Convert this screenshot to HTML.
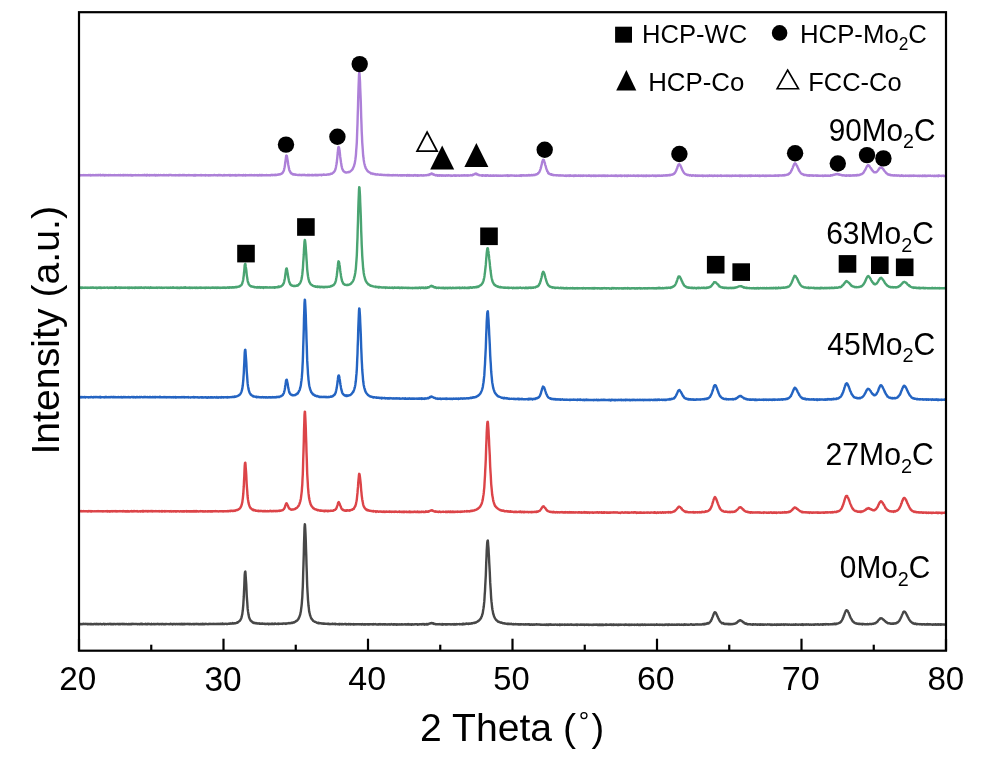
<!DOCTYPE html>
<html><head><meta charset="utf-8"><style>html,body{margin:0;padding:0;background:#fff;}svg{display:block;filter:blur(0.45px);}</style></head>
<body><svg width="1003" height="780" viewBox="0 0 1003 780">
<rect width="1003" height="780" fill="#fff"/>
<path d="M79.0 624.1 L79.2 624.1 L79.5 624.1 L79.7 624.0 L80.0 624.0 L80.2 624.0 L80.5 624.1 L80.7 624.3 L81.0 624.0 L81.2 624.0 L81.5 624.2 L81.7 624.1 L82.0 624.1 L82.2 624.0 L82.5 624.1 L82.7 624.2 L83.0 623.9 L83.2 624.0 L83.5 623.8 L83.7 623.9 L84.0 623.8 L84.2 624.1 L84.5 623.9 L84.7 624.1 L85.0 624.1 L85.2 624.1 L85.5 623.8 L85.7 624.0 L86.0 624.1 L86.2 624.1 L86.5 623.9 L86.8 624.0 L87.0 624.0 L87.2 624.0 L87.5 624.2 L87.8 624.0 L88.0 624.1 L88.2 624.2 L88.5 624.0 L88.8 624.1 L89.0 624.1 L89.2 624.1 L89.5 623.9 L89.8 624.1 L90.0 624.3 L90.2 623.9 L90.5 624.2 L90.8 624.1 L91.0 624.0 L91.2 624.3 L91.5 624.2 L91.8 623.9 L92.0 624.1 L92.2 624.2 L92.5 624.1 L92.8 624.2 L93.0 624.1 L93.3 624.2 L93.5 624.3 L93.8 624.0 L94.0 624.1 L94.3 624.0 L94.5 624.1 L94.8 623.9 L95.0 624.0 L95.3 624.1 L95.5 624.2 L95.8 624.2 L96.0 623.9 L96.3 624.0 L96.5 624.2 L96.8 623.8 L97.0 624.0 L97.3 624.1 L97.5 624.2 L97.8 624.2 L98.0 624.0 L98.3 624.0 L98.5 624.1 L98.8 624.3 L99.0 624.0 L99.3 624.0 L99.5 624.1 L99.8 624.1 L100.0 624.1 L100.2 623.9 L100.5 624.1 L100.8 624.0 L101.0 624.2 L101.2 624.2 L101.5 624.1 L101.7 624.2 L102.0 624.0 L102.2 624.2 L102.5 624.1 L102.7 624.2 L103.0 623.9 L103.2 624.1 L103.5 623.9 L103.7 623.8 L104.0 624.0 L104.2 624.0 L104.5 624.1 L104.7 624.4 L105.0 624.0 L105.2 624.0 L105.5 624.1 L105.7 624.1 L106.0 624.1 L106.2 624.1 L106.5 624.2 L106.8 624.2 L107.0 624.0 L107.2 624.1 L107.5 624.1 L107.8 623.9 L108.0 624.1 L108.2 624.0 L108.5 624.2 L108.8 624.1 L109.0 624.1 L109.2 624.0 L109.5 624.1 L109.8 623.8 L110.0 623.9 L110.2 624.1 L110.5 623.8 L110.8 624.2 L111.0 623.9 L111.2 624.2 L111.5 624.0 L111.8 624.2 L112.0 624.1 L112.2 623.9 L112.5 624.2 L112.8 624.3 L113.0 624.1 L113.2 624.0 L113.5 624.1 L113.8 624.0 L114.0 624.2 L114.2 624.0 L114.5 624.1 L114.8 624.0 L115.0 624.0 L115.3 623.9 L115.5 624.2 L115.8 624.1 L116.0 624.2 L116.3 624.1 L116.5 624.0 L116.8 624.0 L117.0 624.0 L117.3 624.1 L117.5 624.0 L117.8 624.0 L118.0 623.9 L118.3 624.0 L118.5 624.3 L118.8 624.0 L119.0 623.9 L119.3 624.1 L119.5 624.3 L119.8 623.9 L120.0 624.1 L120.3 624.0 L120.5 623.9 L120.7 624.2 L121.0 624.1 L121.3 624.1 L121.5 624.0 L121.7 624.1 L122.0 624.0 L122.3 624.1 L122.5 623.9 L122.7 623.9 L123.0 624.3 L123.2 624.0 L123.5 624.1 L123.7 624.1 L124.0 624.0 L124.2 624.0 L124.5 624.2 L124.7 624.0 L125.0 624.1 L125.2 624.1 L125.5 624.2 L125.7 624.2 L126.0 624.1 L126.2 624.0 L126.5 623.9 L126.8 624.2 L127.0 624.2 L127.2 624.1 L127.5 624.2 L127.8 624.2 L128.0 624.2 L128.2 624.2 L128.5 624.0 L128.8 624.3 L129.0 623.9 L129.2 624.2 L129.5 624.1 L129.8 624.2 L130.0 624.3 L130.2 624.3 L130.5 623.9 L130.8 623.9 L131.0 624.2 L131.2 623.9 L131.5 624.1 L131.8 624.2 L132.0 623.9 L132.2 623.8 L132.5 624.1 L132.8 624.1 L133.0 624.0 L133.2 624.1 L133.5 624.0 L133.8 623.9 L134.0 624.1 L134.2 624.0 L134.5 623.9 L134.8 624.1 L135.0 624.1 L135.2 624.1 L135.5 624.0 L135.8 624.0 L136.0 623.9 L136.2 624.0 L136.5 624.1 L136.8 624.0 L137.0 624.1 L137.2 624.1 L137.5 624.3 L137.8 623.9 L138.0 624.2 L138.3 624.1 L138.5 624.1 L138.8 623.9 L139.0 624.0 L139.3 624.2 L139.5 624.1 L139.8 624.1 L140.0 624.0 L140.3 624.2 L140.5 624.1 L140.8 623.8 L141.0 624.0 L141.2 623.8 L141.5 623.7 L141.8 624.0 L142.0 624.3 L142.2 624.1 L142.5 623.9 L142.8 624.0 L143.0 624.2 L143.2 624.1 L143.5 624.1 L143.8 624.1 L144.0 624.1 L144.2 624.2 L144.5 624.1 L144.8 624.1 L145.0 623.9 L145.2 624.1 L145.5 624.0 L145.8 624.2 L146.0 623.9 L146.2 624.1 L146.5 624.1 L146.8 623.9 L147.0 624.3 L147.2 624.3 L147.5 624.0 L147.8 624.2 L148.0 624.1 L148.2 623.7 L148.5 624.1 L148.8 624.1 L149.0 624.1 L149.2 623.9 L149.5 624.0 L149.8 624.1 L150.0 624.2 L150.2 624.1 L150.5 624.1 L150.8 624.3 L151.0 624.0 L151.2 624.0 L151.5 623.8 L151.8 624.3 L152.0 624.2 L152.2 624.2 L152.5 624.2 L152.8 624.1 L153.0 624.1 L153.2 624.0 L153.5 624.0 L153.8 624.1 L154.0 624.3 L154.2 624.1 L154.5 624.1 L154.8 624.0 L155.0 624.0 L155.2 624.3 L155.5 624.1 L155.8 624.1 L156.0 624.0 L156.2 623.9 L156.5 624.1 L156.8 624.2 L157.0 624.0 L157.2 624.0 L157.5 624.0 L157.8 624.1 L158.0 623.9 L158.2 624.0 L158.5 624.0 L158.8 624.2 L159.0 624.0 L159.2 624.1 L159.5 624.3 L159.8 624.0 L160.0 624.0 L160.2 624.1 L160.5 624.1 L160.8 623.9 L161.0 624.1 L161.3 624.3 L161.5 624.0 L161.7 624.0 L162.0 623.9 L162.3 624.1 L162.5 623.9 L162.7 623.9 L163.0 624.2 L163.3 624.0 L163.5 624.2 L163.8 624.3 L164.0 624.1 L164.3 624.2 L164.5 624.3 L164.8 624.1 L165.0 624.0 L165.3 623.9 L165.5 624.1 L165.8 624.3 L166.0 624.2 L166.3 624.0 L166.5 624.0 L166.8 624.0 L167.0 624.1 L167.2 624.1 L167.5 624.1 L167.8 624.1 L168.0 624.0 L168.2 624.1 L168.5 624.1 L168.8 624.1 L169.0 624.1 L169.2 624.3 L169.5 624.2 L169.8 624.1 L170.0 623.9 L170.2 624.1 L170.5 623.8 L170.8 623.9 L171.0 624.2 L171.2 624.2 L171.5 624.1 L171.8 623.9 L172.0 624.0 L172.2 624.0 L172.5 624.2 L172.8 624.4 L173.0 624.1 L173.2 624.0 L173.5 623.9 L173.8 624.1 L174.0 624.1 L174.2 623.9 L174.5 624.1 L174.8 623.9 L175.0 624.2 L175.2 624.2 L175.5 624.2 L175.8 624.0 L176.0 624.2 L176.2 624.1 L176.5 624.0 L176.8 624.0 L177.0 623.9 L177.2 623.9 L177.5 624.2 L177.8 624.1 L178.0 624.1 L178.2 624.2 L178.5 623.9 L178.8 624.0 L179.0 624.1 L179.2 624.1 L179.5 624.0 L179.8 624.2 L180.0 624.1 L180.2 623.9 L180.5 624.0 L180.8 624.2 L181.0 624.2 L181.3 623.8 L181.5 624.3 L181.8 624.2 L182.0 624.3 L182.3 624.0 L182.5 624.1 L182.8 623.9 L183.0 624.4 L183.2 624.1 L183.5 624.3 L183.8 624.0 L184.0 624.1 L184.2 623.9 L184.5 624.0 L184.8 624.2 L185.0 623.9 L185.2 624.2 L185.5 624.1 L185.8 624.0 L186.0 624.0 L186.2 624.0 L186.5 624.1 L186.8 624.0 L187.0 624.0 L187.2 624.1 L187.5 624.0 L187.8 623.9 L188.0 624.1 L188.2 624.2 L188.5 623.9 L188.8 624.1 L189.0 624.0 L189.2 624.0 L189.5 624.2 L189.8 624.0 L190.0 624.3 L190.2 624.0 L190.5 624.1 L190.8 624.1 L191.0 624.0 L191.2 624.2 L191.5 624.1 L191.8 624.2 L192.0 624.1 L192.2 624.0 L192.5 624.1 L192.8 624.1 L193.0 624.2 L193.2 624.0 L193.5 624.1 L193.8 623.9 L194.0 624.2 L194.2 624.0 L194.5 623.9 L194.8 624.1 L195.0 624.2 L195.2 623.9 L195.5 624.0 L195.8 624.0 L196.0 623.9 L196.2 624.1 L196.5 624.0 L196.8 624.0 L197.0 624.2 L197.2 624.0 L197.5 624.1 L197.8 624.0 L198.0 623.9 L198.2 623.9 L198.5 624.3 L198.8 624.0 L199.0 624.1 L199.2 624.1 L199.5 624.1 L199.8 624.1 L200.0 624.3 L200.2 624.0 L200.5 623.9 L200.8 624.0 L201.0 623.9 L201.2 624.2 L201.5 624.2 L201.7 624.0 L202.0 623.9 L202.3 624.0 L202.5 624.3 L202.7 623.7 L203.0 624.2 L203.3 623.9 L203.5 624.2 L203.7 623.9 L204.0 624.0 L204.3 623.9 L204.5 624.0 L204.8 624.3 L205.0 624.2 L205.3 624.0 L205.5 624.0 L205.8 623.8 L206.0 624.0 L206.3 624.1 L206.5 624.1 L206.8 624.1 L207.0 623.9 L207.3 624.1 L207.5 624.1 L207.7 624.2 L208.0 624.3 L208.3 624.1 L208.5 624.0 L208.7 624.1 L209.0 624.0 L209.3 624.0 L209.5 624.1 L209.7 623.9 L210.0 624.1 L210.3 624.0 L210.5 624.1 L210.8 624.0 L211.0 624.0 L211.3 623.9 L211.5 624.0 L211.8 624.0 L212.0 624.1 L212.3 624.1 L212.5 623.9 L212.8 624.1 L213.0 623.9 L213.2 624.0 L213.5 624.0 L213.8 623.8 L214.0 624.1 L214.2 624.1 L214.5 624.0 L214.8 624.0 L215.0 624.0 L215.2 623.9 L215.5 624.0 L215.8 624.0 L216.0 624.0 L216.2 623.9 L216.5 624.1 L216.8 624.0 L217.0 624.0 L217.2 624.0 L217.5 624.1 L217.8 623.8 L218.0 624.1 L218.2 624.0 L218.5 624.0 L218.8 624.1 L219.0 623.9 L219.2 624.0 L219.5 624.1 L219.8 624.1 L220.0 624.0 L220.3 623.8 L220.5 624.1 L220.8 624.1 L221.0 624.1 L221.3 624.0 L221.5 623.8 L221.8 624.1 L222.0 623.9 L222.3 623.6 L222.5 624.0 L222.8 623.8 L223.0 623.8 L223.2 623.9 L223.5 624.1 L223.8 623.9 L224.0 624.0 L224.2 624.1 L224.5 624.1 L224.8 623.9 L225.0 623.9 L225.2 623.7 L225.5 623.8 L225.8 623.9 L226.0 623.9 L226.2 623.9 L226.5 624.0 L226.8 623.8 L227.0 623.8 L227.2 623.9 L227.5 623.9 L227.8 624.0 L228.0 623.9 L228.2 623.8 L228.5 623.8 L228.8 623.6 L229.0 623.5 L229.2 623.8 L229.5 623.7 L229.8 623.8 L230.0 623.5 L230.2 623.6 L230.5 623.6 L230.8 623.5 L231.0 623.3 L231.2 623.6 L231.5 623.7 L231.8 623.6 L232.0 623.5 L232.2 623.5 L232.5 623.6 L232.8 623.1 L233.0 623.4 L233.2 623.5 L233.5 623.5 L233.8 623.6 L234.0 623.5 L234.2 623.3 L234.5 623.3 L234.8 623.3 L235.0 623.1 L235.2 623.1 L235.5 623.2 L235.8 623.3 L236.0 622.9 L236.2 622.9 L236.5 622.8 L236.8 622.9 L237.0 622.6 L237.2 622.7 L237.5 622.3 L237.8 622.3 L238.0 622.2 L238.2 622.2 L238.5 622.0 L238.8 621.5 L239.0 621.4 L239.2 621.4 L239.5 621.0 L239.8 620.6 L240.0 620.7 L240.3 620.2 L240.5 619.8 L240.8 619.2 L241.0 618.9 L241.3 618.1 L241.5 617.5 L241.8 616.4 L242.0 615.3 L242.3 614.1 L242.5 612.4 L242.8 610.5 L243.0 608.0 L243.3 604.8 L243.5 601.2 L243.8 596.7 L244.0 591.6 L244.3 585.5 L244.5 579.7 L244.7 574.9 L245.0 572.0 L245.3 571.5 L245.5 573.0 L245.7 576.4 L246.0 580.8 L246.3 585.2 L246.5 589.9 L246.7 594.8 L247.0 599.3 L247.3 603.0 L247.5 606.2 L247.7 608.9 L248.0 611.4 L248.3 613.1 L248.5 614.6 L248.8 615.9 L249.0 617.0 L249.3 617.7 L249.5 618.5 L249.8 618.9 L250.0 619.5 L250.3 619.8 L250.5 620.5 L250.8 620.7 L251.0 620.9 L251.3 621.2 L251.5 621.4 L251.8 621.7 L252.0 621.6 L252.3 621.8 L252.5 622.1 L252.8 622.6 L253.0 622.5 L253.3 622.5 L253.5 622.7 L253.8 622.9 L254.0 622.7 L254.3 622.8 L254.5 623.1 L254.8 623.0 L255.0 623.1 L255.3 623.0 L255.5 623.4 L255.8 623.4 L256.0 623.3 L256.2 623.3 L256.5 623.0 L256.8 623.4 L257.0 623.3 L257.3 623.4 L257.5 623.5 L257.8 623.4 L258.0 623.3 L258.2 623.5 L258.5 623.4 L258.8 623.5 L259.0 623.5 L259.3 623.5 L259.5 623.3 L259.8 623.8 L260.0 623.7 L260.2 623.8 L260.5 623.9 L260.8 623.7 L261.0 623.5 L261.3 623.6 L261.5 623.6 L261.8 623.7 L262.0 623.7 L262.2 623.5 L262.5 623.8 L262.8 623.6 L263.0 623.8 L263.3 623.8 L263.5 623.8 L263.8 623.8 L264.0 623.7 L264.2 623.7 L264.5 623.6 L264.8 623.8 L265.0 624.1 L265.3 624.1 L265.5 624.0 L265.8 623.9 L266.0 623.8 L266.2 624.0 L266.5 623.9 L266.8 623.9 L267.0 623.8 L267.2 623.9 L267.5 623.8 L267.8 623.9 L268.0 623.7 L268.2 623.8 L268.5 624.2 L268.8 623.9 L269.0 623.9 L269.2 624.0 L269.5 624.0 L269.8 623.7 L270.0 623.9 L270.2 624.0 L270.5 623.9 L270.8 623.9 L271.0 624.1 L271.2 623.8 L271.5 623.9 L271.8 623.8 L272.0 624.1 L272.2 623.6 L272.5 623.8 L272.8 623.8 L273.0 624.0 L273.2 624.0 L273.5 624.1 L273.8 623.7 L274.0 624.0 L274.2 623.8 L274.5 623.8 L274.8 624.0 L275.0 623.8 L275.2 623.6 L275.5 623.8 L275.8 623.7 L276.0 623.8 L276.2 623.9 L276.5 623.9 L276.8 624.1 L277.0 623.8 L277.2 623.7 L277.5 623.8 L277.8 623.7 L278.0 623.7 L278.2 623.9 L278.5 623.7 L278.8 623.6 L279.0 623.9 L279.2 623.8 L279.5 623.9 L279.8 623.8 L280.0 623.9 L280.2 623.8 L280.5 623.9 L280.8 623.8 L281.0 623.8 L281.2 623.8 L281.5 623.6 L281.8 623.7 L282.0 623.7 L282.2 623.8 L282.5 623.5 L282.8 623.9 L283.0 623.7 L283.2 623.5 L283.5 623.5 L283.8 623.6 L284.0 623.6 L284.2 623.6 L284.5 623.6 L284.8 623.5 L285.0 623.7 L285.2 623.5 L285.5 623.6 L285.8 623.7 L286.0 623.9 L286.2 623.4 L286.5 623.4 L286.8 623.4 L287.0 623.6 L287.2 623.3 L287.5 623.4 L287.8 623.4 L288.0 623.3 L288.2 623.2 L288.5 623.3 L288.8 623.0 L289.0 623.1 L289.2 623.2 L289.5 623.2 L289.8 623.2 L290.0 622.9 L290.2 623.1 L290.5 623.2 L290.8 623.1 L291.0 623.0 L291.2 622.8 L291.5 623.0 L291.8 622.8 L292.0 622.6 L292.2 622.6 L292.5 622.9 L292.8 622.6 L293.0 622.7 L293.2 622.4 L293.5 622.5 L293.8 622.2 L294.0 622.2 L294.3 622.5 L294.5 622.1 L294.8 621.9 L295.0 621.8 L295.3 621.7 L295.5 621.7 L295.8 621.4 L296.0 621.0 L296.3 621.1 L296.5 620.9 L296.8 620.7 L297.0 620.7 L297.3 620.3 L297.5 620.1 L297.8 619.6 L298.0 619.5 L298.3 619.3 L298.5 618.7 L298.8 618.2 L299.0 617.7 L299.2 617.4 L299.5 616.4 L299.8 615.8 L300.0 615.1 L300.3 614.2 L300.5 612.9 L300.8 611.8 L301.0 610.2 L301.2 608.5 L301.5 606.3 L301.8 603.6 L302.0 600.7 L302.3 597.0 L302.5 592.2 L302.8 586.8 L303.0 580.4 L303.2 572.5 L303.5 563.8 L303.8 553.9 L304.0 544.2 L304.3 535.2 L304.5 528.2 L304.8 524.3 L305.0 524.7 L305.2 528.1 L305.5 533.8 L305.8 541.0 L306.0 548.3 L306.3 556.6 L306.5 564.6 L306.8 572.7 L307.0 579.7 L307.2 585.9 L307.5 591.5 L307.8 596.2 L308.0 600.0 L308.3 603.2 L308.5 605.8 L308.8 607.8 L309.0 610.0 L309.2 611.6 L309.5 612.8 L309.8 613.9 L310.0 615.0 L310.3 615.7 L310.5 616.4 L310.8 617.1 L311.0 617.8 L311.2 618.0 L311.5 618.8 L311.8 618.9 L312.0 619.2 L312.3 619.9 L312.5 620.0 L312.8 620.1 L313.0 620.5 L313.2 620.9 L313.5 621.1 L313.8 621.1 L314.0 621.3 L314.2 621.5 L314.5 621.5 L314.7 621.8 L315.0 621.9 L315.2 621.9 L315.5 622.0 L315.8 622.2 L316.0 622.3 L316.2 622.3 L316.5 622.4 L316.7 622.7 L317.0 622.6 L317.2 622.8 L317.5 622.9 L317.8 622.9 L318.0 623.2 L318.2 622.8 L318.5 623.1 L318.7 623.0 L319.0 623.3 L319.2 623.3 L319.5 622.9 L319.8 623.1 L320.0 623.3 L320.2 623.4 L320.5 623.4 L320.8 623.3 L321.0 623.4 L321.2 623.5 L321.5 623.4 L321.8 623.6 L322.0 623.2 L322.2 623.6 L322.5 623.4 L322.8 623.7 L323.0 623.5 L323.2 623.5 L323.5 623.7 L323.8 623.5 L324.0 623.5 L324.2 623.5 L324.5 623.7 L324.8 623.8 L325.0 623.8 L325.2 623.7 L325.5 623.9 L325.8 623.8 L326.0 623.8 L326.2 623.9 L326.5 623.9 L326.8 623.8 L327.0 623.8 L327.2 623.8 L327.5 623.9 L327.8 623.7 L328.0 624.0 L328.2 623.8 L328.5 624.0 L328.8 623.8 L329.0 624.0 L329.2 624.0 L329.5 623.9 L329.8 624.2 L330.0 624.0 L330.2 624.2 L330.5 624.1 L330.8 623.9 L331.0 623.9 L331.2 624.0 L331.5 624.0 L331.8 624.0 L332.0 624.0 L332.2 623.8 L332.5 624.0 L332.8 623.7 L333.0 624.1 L333.2 623.9 L333.5 624.0 L333.8 624.0 L334.0 624.1 L334.2 623.9 L334.5 623.8 L334.8 623.9 L335.0 623.8 L335.3 624.0 L335.5 624.3 L335.8 624.0 L336.0 624.2 L336.2 623.9 L336.5 624.1 L336.8 624.1 L337.0 624.1 L337.3 624.2 L337.5 624.3 L337.8 624.1 L338.0 624.1 L338.2 624.0 L338.5 624.2 L338.8 624.1 L339.0 624.3 L339.3 624.1 L339.5 624.4 L339.8 623.9 L340.0 624.1 L340.2 624.3 L340.5 624.1 L340.8 624.1 L341.0 624.1 L341.3 624.0 L341.5 624.2 L341.8 624.5 L342.0 624.3 L342.2 624.0 L342.5 624.1 L342.8 624.1 L343.0 624.3 L343.3 624.1 L343.5 624.1 L343.8 624.3 L344.0 624.3 L344.2 624.2 L344.5 624.1 L344.8 624.0 L345.0 624.1 L345.3 623.9 L345.5 624.3 L345.8 624.1 L346.0 624.3 L346.2 624.5 L346.5 624.4 L346.8 624.1 L347.0 624.3 L347.3 624.4 L347.5 624.1 L347.8 624.1 L348.0 624.2 L348.2 624.0 L348.5 624.4 L348.8 623.9 L349.0 624.1 L349.3 624.2 L349.5 624.2 L349.8 624.3 L350.0 624.3 L350.2 624.2 L350.5 624.4 L350.8 624.0 L351.0 624.3 L351.3 624.2 L351.5 624.3 L351.8 624.3 L352.0 624.1 L352.2 624.2 L352.5 624.4 L352.8 624.3 L353.0 624.2 L353.3 624.5 L353.5 624.6 L353.8 624.1 L354.0 624.3 L354.2 624.6 L354.5 624.4 L354.8 624.3 L355.0 624.3 L355.3 624.2 L355.5 624.3 L355.8 624.2 L356.0 624.4 L356.2 624.2 L356.5 624.2 L356.8 624.1 L357.0 624.3 L357.2 624.2 L357.5 624.3 L357.7 624.4 L358.0 624.3 L358.2 624.4 L358.5 624.3 L358.8 624.3 L359.0 624.3 L359.2 624.3 L359.5 624.4 L359.7 624.2 L360.0 624.5 L360.2 624.3 L360.5 624.2 L360.8 624.2 L361.0 624.2 L361.2 624.3 L361.5 624.2 L361.7 624.5 L362.0 624.2 L362.2 624.0 L362.5 624.2 L362.8 624.1 L363.0 624.3 L363.2 624.5 L363.5 624.4 L363.7 624.1 L364.0 624.2 L364.2 624.6 L364.5 624.4 L364.8 624.3 L365.0 624.5 L365.2 624.6 L365.5 624.5 L365.7 624.3 L366.0 624.4 L366.2 624.4 L366.5 624.3 L366.8 624.2 L367.0 624.3 L367.2 624.2 L367.5 624.3 L367.8 624.3 L368.0 624.6 L368.2 624.2 L368.5 624.3 L368.8 624.3 L369.0 624.4 L369.2 624.5 L369.5 624.3 L369.8 624.2 L370.0 624.1 L370.3 624.2 L370.5 624.4 L370.8 624.4 L371.0 624.2 L371.3 624.3 L371.5 624.4 L371.8 624.4 L372.0 624.3 L372.3 624.3 L372.5 624.1 L372.8 624.2 L373.0 624.6 L373.3 624.1 L373.5 624.3 L373.8 624.4 L374.0 624.3 L374.3 624.3 L374.5 624.3 L374.8 624.4 L375.0 624.3 L375.3 624.1 L375.5 624.3 L375.8 624.2 L376.0 624.3 L376.3 624.4 L376.5 624.4 L376.8 624.5 L377.0 624.3 L377.3 624.5 L377.5 624.5 L377.8 624.5 L378.0 624.5 L378.3 624.3 L378.5 624.3 L378.8 624.5 L379.0 624.2 L379.2 624.4 L379.5 624.3 L379.8 624.3 L380.0 624.1 L380.3 624.3 L380.5 624.4 L380.8 624.5 L381.0 624.5 L381.2 624.4 L381.5 624.3 L381.8 624.3 L382.0 624.4 L382.3 624.3 L382.5 624.5 L382.8 624.6 L383.0 624.4 L383.2 624.2 L383.5 624.3 L383.8 624.2 L384.0 624.2 L384.3 624.5 L384.5 624.4 L384.8 624.2 L385.0 624.5 L385.2 624.5 L385.5 624.3 L385.8 624.3 L386.0 624.3 L386.3 624.4 L386.5 624.5 L386.8 624.5 L387.0 624.5 L387.2 624.5 L387.5 624.6 L387.8 624.5 L388.0 624.2 L388.3 624.4 L388.5 624.4 L388.8 624.3 L389.0 624.5 L389.2 624.3 L389.5 624.3 L389.8 624.6 L390.0 624.5 L390.3 624.4 L390.5 624.5 L390.8 624.5 L391.0 624.4 L391.2 624.1 L391.5 624.3 L391.8 624.3 L392.0 624.3 L392.3 624.4 L392.5 624.5 L392.8 624.3 L393.0 624.2 L393.2 624.7 L393.5 624.3 L393.8 624.2 L394.0 624.4 L394.3 624.5 L394.5 624.3 L394.8 624.5 L395.0 624.3 L395.2 624.3 L395.5 624.4 L395.8 624.5 L396.0 624.3 L396.3 624.4 L396.5 624.4 L396.8 624.8 L397.0 624.3 L397.2 624.6 L397.5 624.4 L397.8 624.4 L398.0 624.5 L398.3 624.5 L398.5 624.6 L398.8 624.4 L399.0 624.3 L399.2 624.3 L399.5 624.5 L399.8 624.5 L400.0 624.6 L400.2 624.5 L400.5 624.5 L400.7 624.6 L401.0 624.4 L401.2 624.2 L401.5 624.2 L401.8 624.2 L402.0 624.6 L402.2 624.3 L402.5 624.6 L402.7 624.5 L403.0 624.6 L403.2 624.5 L403.5 624.4 L403.8 624.4 L404.0 624.4 L404.2 624.4 L404.5 624.3 L404.7 624.4 L405.0 624.6 L405.2 624.2 L405.5 624.4 L405.8 624.3 L406.0 624.4 L406.2 624.5 L406.5 624.4 L406.7 624.5 L407.0 624.2 L407.2 624.6 L407.5 624.3 L407.8 624.5 L408.0 624.4 L408.2 624.1 L408.5 624.3 L408.8 624.4 L409.0 624.6 L409.2 624.4 L409.5 624.4 L409.8 624.2 L410.0 624.6 L410.2 624.6 L410.5 624.4 L410.8 624.4 L411.0 624.2 L411.3 624.5 L411.5 624.8 L411.8 624.5 L412.0 624.6 L412.3 624.5 L412.5 624.3 L412.8 624.6 L413.0 624.2 L413.3 624.4 L413.5 624.4 L413.8 624.5 L414.0 624.5 L414.3 624.5 L414.5 624.3 L414.8 624.2 L415.0 624.4 L415.3 624.3 L415.5 624.2 L415.8 624.2 L416.0 624.3 L416.3 624.2 L416.5 624.2 L416.8 624.2 L417.0 624.4 L417.3 624.4 L417.5 624.7 L417.8 624.2 L418.0 624.3 L418.3 624.5 L418.5 624.4 L418.8 624.3 L419.0 624.6 L419.3 624.3 L419.5 624.2 L419.8 624.2 L420.0 624.4 L420.3 624.4 L420.5 624.2 L420.8 624.3 L421.0 624.4 L421.3 624.4 L421.5 624.3 L421.8 624.5 L422.0 624.4 L422.2 624.1 L422.5 624.3 L422.8 624.4 L423.0 624.3 L423.3 624.1 L423.5 624.3 L423.8 624.4 L424.0 624.5 L424.2 624.0 L424.5 624.7 L424.8 624.2 L425.0 624.4 L425.3 624.5 L425.5 624.4 L425.8 624.3 L426.0 624.1 L426.2 624.3 L426.5 624.2 L426.8 623.9 L427.0 624.6 L427.3 624.3 L427.5 624.4 L427.8 624.0 L428.0 624.3 L428.2 624.2 L428.5 624.2 L428.8 623.9 L429.0 623.7 L429.3 623.8 L429.5 623.4 L429.8 623.4 L430.0 623.5 L430.2 623.2 L430.5 623.2 L430.8 623.1 L431.0 623.3 L431.3 623.2 L431.5 623.0 L431.8 623.2 L432.0 623.0 L432.2 623.1 L432.5 623.4 L432.8 623.2 L433.0 623.4 L433.3 623.3 L433.5 623.6 L433.8 623.9 L434.0 623.7 L434.2 623.9 L434.5 623.8 L434.8 623.8 L435.0 623.9 L435.3 624.3 L435.5 624.4 L435.8 624.2 L436.0 624.1 L436.2 624.3 L436.5 624.2 L436.8 624.3 L437.0 624.3 L437.3 624.3 L437.5 624.3 L437.8 624.2 L438.0 624.2 L438.2 624.1 L438.5 624.2 L438.8 624.1 L439.0 624.3 L439.3 624.2 L439.5 624.3 L439.8 624.4 L440.0 624.1 L440.2 624.2 L440.5 624.2 L440.8 624.4 L441.0 624.5 L441.3 624.4 L441.5 624.3 L441.7 624.5 L442.0 624.1 L442.2 624.5 L442.5 624.2 L442.8 624.0 L443.0 624.7 L443.2 624.5 L443.5 624.2 L443.7 624.4 L444.0 624.3 L444.2 624.3 L444.5 624.1 L444.8 624.2 L445.0 624.4 L445.2 624.4 L445.5 624.5 L445.7 624.3 L446.0 624.6 L446.2 624.2 L446.5 624.4 L446.8 624.1 L447.0 624.2 L447.2 624.5 L447.5 624.2 L447.7 624.4 L448.0 624.3 L448.2 624.2 L448.5 624.3 L448.8 624.2 L449.0 624.2 L449.2 624.4 L449.5 624.4 L449.8 624.2 L450.0 624.2 L450.2 624.3 L450.5 624.3 L450.8 624.4 L451.0 624.6 L451.2 624.4 L451.5 624.3 L451.8 624.3 L452.0 624.2 L452.2 624.2 L452.5 624.1 L452.8 624.2 L453.0 624.2 L453.3 624.4 L453.5 624.2 L453.8 624.2 L454.0 624.1 L454.3 624.5 L454.5 624.3 L454.8 624.5 L455.0 624.3 L455.3 624.4 L455.5 624.2 L455.8 624.3 L456.0 624.6 L456.3 624.1 L456.5 624.4 L456.8 624.4 L457.0 624.3 L457.3 624.3 L457.5 624.4 L457.8 624.1 L458.0 624.2 L458.3 624.1 L458.5 624.1 L458.8 624.1 L459.0 624.1 L459.3 624.2 L459.5 624.2 L459.8 623.9 L460.0 624.4 L460.3 624.3 L460.5 624.2 L460.8 624.1 L461.0 624.1 L461.3 624.2 L461.5 624.1 L461.8 623.9 L462.0 624.2 L462.3 624.4 L462.5 623.8 L462.8 624.2 L463.0 624.1 L463.2 624.0 L463.5 624.2 L463.8 623.8 L464.0 624.0 L464.3 624.2 L464.5 623.9 L464.8 623.9 L465.0 623.9 L465.2 623.9 L465.5 624.1 L465.8 623.8 L466.0 624.0 L466.3 623.7 L466.5 623.9 L466.8 623.8 L467.0 623.5 L467.2 623.8 L467.5 623.6 L467.8 623.7 L468.0 623.9 L468.3 623.6 L468.5 623.5 L468.8 623.9 L469.0 623.7 L469.2 623.8 L469.5 623.6 L469.8 623.5 L470.0 623.5 L470.3 623.7 L470.5 623.6 L470.8 623.4 L471.0 623.4 L471.2 623.4 L471.5 623.3 L471.8 623.6 L472.0 623.3 L472.3 623.1 L472.5 623.1 L472.8 623.2 L473.0 623.2 L473.2 623.0 L473.5 622.9 L473.8 622.9 L474.0 622.6 L474.3 622.6 L474.5 622.9 L474.8 622.6 L475.0 622.7 L475.2 622.7 L475.5 622.5 L475.8 622.4 L476.0 622.5 L476.3 622.3 L476.5 622.0 L476.8 622.0 L477.0 621.9 L477.2 621.6 L477.5 621.6 L477.8 621.4 L478.0 621.0 L478.3 621.1 L478.5 620.9 L478.8 620.7 L479.0 620.3 L479.2 620.2 L479.5 620.0 L479.8 619.8 L480.0 619.3 L480.3 619.2 L480.5 618.6 L480.8 618.3 L481.0 618.1 L481.2 617.3 L481.5 616.8 L481.8 616.4 L482.0 615.5 L482.3 614.7 L482.5 613.9 L482.8 612.9 L483.0 611.3 L483.2 610.0 L483.5 608.3 L483.8 606.3 L484.0 604.1 L484.3 601.4 L484.5 598.5 L484.7 594.8 L485.0 590.9 L485.2 586.3 L485.5 581.0 L485.8 575.5 L486.0 569.7 L486.2 563.2 L486.5 556.8 L486.7 551.1 L487.0 546.1 L487.2 542.7 L487.5 540.9 L487.8 540.5 L488.0 542.1 L488.2 545.0 L488.5 548.4 L488.7 552.7 L489.0 557.2 L489.2 562.1 L489.5 567.2 L489.8 572.7 L490.0 577.5 L490.2 582.4 L490.5 587.0 L490.8 591.2 L491.0 595.2 L491.2 598.5 L491.5 601.7 L491.8 604.1 L492.0 606.5 L492.2 608.3 L492.5 610.0 L492.8 611.2 L493.0 612.6 L493.2 613.7 L493.5 614.7 L493.8 615.2 L494.0 616.4 L494.3 616.8 L494.5 617.4 L494.8 617.9 L495.0 618.4 L495.3 618.8 L495.5 619.0 L495.8 619.4 L496.0 619.8 L496.3 620.1 L496.5 620.3 L496.8 620.5 L497.0 620.6 L497.3 620.9 L497.5 621.3 L497.8 621.2 L498.0 621.7 L498.3 621.7 L498.5 621.7 L498.8 622.0 L499.0 621.8 L499.3 621.9 L499.5 622.0 L499.8 622.3 L500.0 622.4 L500.3 622.4 L500.5 622.6 L500.8 622.4 L501.0 622.8 L501.3 622.6 L501.5 622.8 L501.8 622.9 L502.0 622.8 L502.3 622.9 L502.5 623.0 L502.8 623.1 L503.0 623.3 L503.3 623.3 L503.5 623.2 L503.8 623.2 L504.0 623.3 L504.3 623.5 L504.5 623.2 L504.8 623.6 L505.0 623.5 L505.3 623.4 L505.5 623.6 L505.8 623.7 L506.0 623.7 L506.2 623.8 L506.5 623.7 L506.8 623.9 L507.0 623.9 L507.3 623.7 L507.5 624.0 L507.8 623.8 L508.0 623.8 L508.2 623.7 L508.5 623.8 L508.8 624.0 L509.0 623.7 L509.3 624.0 L509.5 624.0 L509.8 624.0 L510.0 623.7 L510.2 624.0 L510.5 624.1 L510.8 623.9 L511.0 624.0 L511.3 623.7 L511.5 624.1 L511.8 624.0 L512.0 624.2 L512.2 623.9 L512.5 624.2 L512.8 624.1 L513.0 624.2 L513.2 624.0 L513.5 624.1 L513.8 624.4 L514.0 624.1 L514.2 624.1 L514.5 624.1 L514.8 624.1 L515.0 624.4 L515.2 624.4 L515.5 624.1 L515.8 624.0 L516.0 624.4 L516.2 624.4 L516.5 624.4 L516.8 624.4 L517.0 624.2 L517.2 624.3 L517.5 624.1 L517.8 624.1 L518.0 624.4 L518.2 624.2 L518.5 624.6 L518.8 624.3 L519.0 624.2 L519.3 624.4 L519.5 624.6 L519.8 624.4 L520.0 624.2 L520.2 624.4 L520.5 624.5 L520.8 624.3 L521.0 624.3 L521.3 624.5 L521.5 624.4 L521.8 624.2 L522.0 624.3 L522.2 624.3 L522.5 624.4 L522.8 624.4 L523.0 624.5 L523.3 624.5 L523.5 624.2 L523.8 624.5 L524.0 624.5 L524.2 624.5 L524.5 624.6 L524.8 624.4 L525.0 624.3 L525.3 624.6 L525.5 624.3 L525.8 624.2 L526.0 624.6 L526.2 624.4 L526.5 624.4 L526.8 624.3 L527.0 624.3 L527.2 624.3 L527.5 624.4 L527.8 624.5 L528.0 624.2 L528.2 624.6 L528.5 624.3 L528.8 624.3 L529.0 624.6 L529.2 624.5 L529.5 624.3 L529.8 624.7 L530.0 624.4 L530.2 624.5 L530.5 624.5 L530.8 624.7 L531.0 624.4 L531.2 624.6 L531.5 624.4 L531.8 624.7 L532.0 624.4 L532.2 624.5 L532.5 624.8 L532.8 624.6 L533.0 624.5 L533.2 624.8 L533.5 624.6 L533.8 624.4 L534.0 624.6 L534.2 624.4 L534.5 624.7 L534.8 624.7 L535.0 624.5 L535.2 624.5 L535.5 624.6 L535.8 624.5 L536.0 624.4 L536.2 624.6 L536.5 624.3 L536.8 624.5 L537.0 624.5 L537.2 624.5 L537.5 624.6 L537.8 624.4 L538.0 624.6 L538.2 624.5 L538.5 624.5 L538.8 624.4 L539.0 624.4 L539.2 624.6 L539.5 624.4 L539.8 624.6 L540.0 624.7 L540.2 624.7 L540.5 624.8 L540.8 624.5 L541.0 624.4 L541.2 624.7 L541.5 624.6 L541.8 624.7 L542.0 624.6 L542.2 624.7 L542.5 624.7 L542.8 624.7 L543.0 624.7 L543.2 624.6 L543.5 624.6 L543.8 624.6 L544.0 624.7 L544.2 624.5 L544.5 624.8 L544.8 624.6 L545.0 624.7 L545.2 624.6 L545.5 624.6 L545.8 624.9 L546.0 624.6 L546.2 624.4 L546.5 624.5 L546.8 624.6 L547.0 624.9 L547.2 624.6 L547.5 624.7 L547.8 624.5 L548.0 624.7 L548.2 624.7 L548.5 624.9 L548.8 624.5 L549.0 624.7 L549.2 624.7 L549.5 624.5 L549.8 624.6 L550.0 624.6 L550.2 624.3 L550.5 624.7 L550.8 624.7 L551.0 624.6 L551.2 624.5 L551.5 624.8 L551.8 624.7 L552.0 624.8 L552.2 624.8 L552.5 624.6 L552.8 624.7 L553.0 624.6 L553.2 624.6 L553.5 624.6 L553.8 624.6 L554.0 624.8 L554.2 624.7 L554.5 624.6 L554.8 624.6 L555.0 624.7 L555.2 624.5 L555.5 624.6 L555.8 624.6 L556.0 624.6 L556.2 624.6 L556.5 624.6 L556.8 624.9 L557.0 624.8 L557.2 624.7 L557.5 624.6 L557.8 624.9 L558.0 624.7 L558.2 624.6 L558.5 624.7 L558.8 624.7 L559.0 624.8 L559.2 624.7 L559.5 624.9 L559.8 624.5 L560.0 624.8 L560.2 624.5 L560.5 624.9 L560.8 624.6 L561.0 624.7 L561.2 624.8 L561.5 624.8 L561.8 624.5 L562.0 624.6 L562.2 624.5 L562.5 624.7 L562.8 624.7 L563.0 624.6 L563.2 624.6 L563.5 624.6 L563.8 624.6 L564.0 624.7 L564.2 624.9 L564.5 624.4 L564.8 624.7 L565.0 624.6 L565.2 624.7 L565.5 624.6 L565.8 624.7 L566.0 624.5 L566.2 624.8 L566.5 624.7 L566.8 624.7 L567.0 624.7 L567.2 624.7 L567.5 624.5 L567.8 624.8 L568.0 624.7 L568.2 624.7 L568.5 624.8 L568.8 624.8 L569.0 624.5 L569.2 624.6 L569.5 624.9 L569.8 624.9 L570.0 624.6 L570.2 624.5 L570.5 624.6 L570.8 624.6 L571.0 624.5 L571.2 624.7 L571.5 624.5 L571.8 624.5 L572.0 624.8 L572.2 624.6 L572.5 624.7 L572.8 624.8 L573.0 624.8 L573.2 624.7 L573.5 624.7 L573.8 624.6 L574.0 624.9 L574.2 624.8 L574.5 624.6 L574.8 624.7 L575.0 624.8 L575.2 624.8 L575.5 624.9 L575.8 624.9 L576.0 624.6 L576.2 624.7 L576.5 624.5 L576.8 624.7 L577.0 624.7 L577.2 625.1 L577.5 624.7 L577.8 624.4 L578.0 624.6 L578.2 624.7 L578.5 624.6 L578.8 624.6 L579.0 624.7 L579.2 624.8 L579.5 624.7 L579.8 624.6 L580.0 624.8 L580.2 624.6 L580.5 624.7 L580.8 624.5 L581.0 624.6 L581.2 624.8 L581.5 624.5 L581.8 624.7 L582.0 624.8 L582.2 624.7 L582.5 624.8 L582.8 624.6 L583.0 624.9 L583.2 624.9 L583.5 624.8 L583.8 624.5 L584.0 624.6 L584.2 624.9 L584.5 625.0 L584.8 624.8 L585.0 624.9 L585.2 624.7 L585.5 624.7 L585.8 624.7 L586.0 624.8 L586.2 624.5 L586.5 624.9 L586.8 624.9 L587.0 624.6 L587.2 624.6 L587.5 624.8 L587.8 624.6 L588.0 624.4 L588.2 624.8 L588.5 624.8 L588.8 624.7 L589.0 625.0 L589.2 624.8 L589.5 624.6 L589.8 624.8 L590.0 624.6 L590.2 624.6 L590.5 624.8 L590.8 624.7 L591.0 624.7 L591.3 625.0 L591.5 624.9 L591.8 624.8 L592.0 624.8 L592.3 624.8 L592.5 624.9 L592.8 624.7 L593.0 625.0 L593.3 624.6 L593.5 624.7 L593.8 624.6 L594.0 624.7 L594.3 624.8 L594.5 624.9 L594.8 624.7 L595.0 624.8 L595.3 624.7 L595.5 624.7 L595.8 624.6 L596.0 624.8 L596.3 624.5 L596.5 624.8 L596.8 624.8 L597.0 624.7 L597.3 624.6 L597.5 624.6 L597.8 625.0 L598.0 624.6 L598.3 625.0 L598.5 624.8 L598.8 624.7 L599.0 624.6 L599.3 624.9 L599.5 625.0 L599.8 624.6 L600.0 624.7 L600.3 624.9 L600.5 624.8 L600.8 625.0 L601.0 624.7 L601.3 624.8 L601.5 624.6 L601.8 625.0 L602.0 624.7 L602.2 624.5 L602.5 624.7 L602.8 624.7 L603.0 625.0 L603.2 624.7 L603.5 624.8 L603.8 624.8 L604.0 625.0 L604.2 624.8 L604.5 624.9 L604.8 624.8 L605.0 624.7 L605.2 624.8 L605.5 624.8 L605.8 624.6 L606.0 624.9 L606.2 624.6 L606.5 624.9 L606.8 624.9 L607.0 624.7 L607.2 624.7 L607.5 624.7 L607.8 624.8 L608.0 624.9 L608.2 624.8 L608.5 624.9 L608.8 624.7 L609.0 624.8 L609.2 624.6 L609.5 624.9 L609.8 624.8 L610.0 624.7 L610.2 624.9 L610.5 624.8 L610.8 624.4 L611.0 624.8 L611.2 624.6 L611.5 624.9 L611.8 625.1 L612.0 624.7 L612.2 624.8 L612.5 624.7 L612.8 624.8 L613.0 624.8 L613.2 624.9 L613.5 624.6 L613.8 625.0 L614.0 624.6 L614.2 624.8 L614.5 624.9 L614.8 624.8 L615.0 624.6 L615.2 624.7 L615.5 624.7 L615.8 624.7 L616.0 624.9 L616.2 624.6 L616.5 624.8 L616.8 624.8 L617.0 624.8 L617.2 624.8 L617.5 625.0 L617.8 624.8 L618.0 624.9 L618.3 624.8 L618.5 625.0 L618.8 624.5 L619.0 624.9 L619.3 624.7 L619.5 624.7 L619.8 624.6 L620.0 624.5 L620.3 624.7 L620.5 624.7 L620.8 624.8 L621.0 624.6 L621.3 624.9 L621.5 624.8 L621.8 624.7 L622.0 624.7 L622.3 624.6 L622.5 624.6 L622.8 624.7 L623.0 624.8 L623.3 624.7 L623.5 624.6 L623.8 624.7 L624.0 624.6 L624.3 624.8 L624.5 625.0 L624.8 624.8 L625.0 624.7 L625.2 624.5 L625.5 624.6 L625.8 624.5 L626.0 624.8 L626.2 624.6 L626.5 624.8 L626.8 624.7 L627.0 624.8 L627.2 624.9 L627.5 624.7 L627.8 624.7 L628.0 624.6 L628.2 624.9 L628.5 624.6 L628.8 624.6 L629.0 624.6 L629.2 624.6 L629.5 624.8 L629.8 625.1 L630.0 624.6 L630.3 624.9 L630.5 624.8 L630.8 624.6 L631.0 624.7 L631.3 624.7 L631.5 624.7 L631.8 625.0 L632.0 624.5 L632.3 624.8 L632.5 624.8 L632.8 624.7 L633.0 624.8 L633.3 624.9 L633.5 624.8 L633.8 624.8 L634.0 624.8 L634.3 624.5 L634.5 624.9 L634.8 625.0 L635.0 624.9 L635.3 624.9 L635.5 624.6 L635.8 624.7 L636.0 624.6 L636.3 624.7 L636.5 624.9 L636.8 624.6 L637.0 624.7 L637.3 624.5 L637.5 624.7 L637.8 624.8 L638.0 624.6 L638.3 624.6 L638.5 625.0 L638.8 624.6 L639.0 624.6 L639.3 624.6 L639.5 624.9 L639.8 625.0 L640.0 624.8 L640.3 624.6 L640.5 624.7 L640.8 624.9 L641.0 624.6 L641.3 624.9 L641.5 624.9 L641.8 624.7 L642.0 624.8 L642.3 624.8 L642.5 624.9 L642.8 624.6 L643.0 624.9 L643.3 624.7 L643.5 624.6 L643.8 624.7 L644.0 624.7 L644.3 624.6 L644.5 624.5 L644.8 624.6 L645.0 624.9 L645.2 625.0 L645.5 624.8 L645.8 624.9 L646.0 624.7 L646.2 624.7 L646.5 624.8 L646.8 624.6 L647.0 624.6 L647.2 624.7 L647.5 624.7 L647.8 624.6 L648.0 624.8 L648.2 624.7 L648.5 624.9 L648.8 624.7 L649.0 624.7 L649.2 624.7 L649.5 624.7 L649.8 624.6 L650.0 624.7 L650.2 624.8 L650.5 624.8 L650.8 624.9 L651.0 624.5 L651.2 624.7 L651.5 624.7 L651.8 624.8 L652.0 624.7 L652.2 624.7 L652.5 624.8 L652.8 624.8 L653.0 624.6 L653.2 624.9 L653.5 624.9 L653.8 624.7 L654.0 624.8 L654.2 624.6 L654.5 624.9 L654.8 624.7 L655.0 624.6 L655.2 624.7 L655.5 624.6 L655.8 624.7 L656.0 624.7 L656.2 624.7 L656.5 624.7 L656.8 624.2 L657.0 624.7 L657.2 624.5 L657.5 624.8 L657.8 624.9 L658.0 624.8 L658.2 624.7 L658.5 624.7 L658.8 624.7 L659.0 624.6 L659.2 624.6 L659.5 624.6 L659.8 624.9 L660.0 624.7 L660.2 624.8 L660.5 624.7 L660.8 624.7 L661.0 624.7 L661.2 624.8 L661.5 624.8 L661.8 624.7 L662.0 624.6 L662.2 624.6 L662.5 624.9 L662.8 624.7 L663.0 624.7 L663.2 624.9 L663.5 624.9 L663.8 624.8 L664.0 624.7 L664.2 625.0 L664.5 624.8 L664.8 624.8 L665.0 624.7 L665.2 624.5 L665.5 624.5 L665.8 624.8 L666.0 624.8 L666.2 624.7 L666.5 624.6 L666.8 624.5 L667.0 624.7 L667.2 624.5 L667.5 624.8 L667.8 624.9 L668.0 625.1 L668.2 624.8 L668.5 624.6 L668.8 624.6 L669.0 624.3 L669.2 624.6 L669.5 624.7 L669.8 624.8 L670.0 624.8 L670.2 624.8 L670.5 624.7 L670.8 624.8 L671.0 624.9 L671.3 624.6 L671.5 624.6 L671.8 624.5 L672.0 624.9 L672.3 624.9 L672.5 624.8 L672.8 624.5 L673.0 624.7 L673.3 624.7 L673.5 624.7 L673.8 624.7 L674.0 624.8 L674.3 624.6 L674.5 624.8 L674.8 624.7 L675.0 624.6 L675.3 624.7 L675.5 624.6 L675.8 624.8 L676.0 624.6 L676.3 624.7 L676.5 624.6 L676.8 624.5 L677.0 624.8 L677.3 624.5 L677.5 624.8 L677.8 624.7 L678.0 624.5 L678.3 624.6 L678.5 624.6 L678.8 624.6 L679.0 624.5 L679.3 624.8 L679.5 624.6 L679.8 624.7 L680.0 624.6 L680.3 624.7 L680.5 624.6 L680.8 624.7 L681.0 624.7 L681.3 624.7 L681.5 624.6 L681.8 624.5 L682.0 624.7 L682.3 624.7 L682.5 624.6 L682.8 624.6 L683.0 624.7 L683.3 625.0 L683.5 624.6 L683.8 624.7 L684.0 624.7 L684.3 624.3 L684.5 624.7 L684.8 624.6 L685.0 624.8 L685.3 624.6 L685.5 624.5 L685.8 624.6 L686.0 624.7 L686.3 624.6 L686.5 624.6 L686.8 624.5 L687.0 624.6 L687.2 624.7 L687.5 624.9 L687.8 624.7 L688.0 624.7 L688.2 624.8 L688.5 624.8 L688.8 624.8 L689.0 624.8 L689.2 624.6 L689.5 624.6 L689.8 624.6 L690.0 624.6 L690.2 624.6 L690.5 624.5 L690.8 624.3 L691.0 624.5 L691.2 624.3 L691.5 624.6 L691.8 624.6 L692.0 624.4 L692.2 624.7 L692.5 624.7 L692.8 624.6 L693.0 624.8 L693.2 624.8 L693.5 624.4 L693.8 624.7 L694.0 624.6 L694.2 624.6 L694.5 624.7 L694.8 624.5 L695.0 624.5 L695.2 624.4 L695.5 624.4 L695.8 624.5 L696.0 624.3 L696.2 624.4 L696.5 624.6 L696.8 624.5 L697.0 624.5 L697.2 624.2 L697.5 624.4 L697.8 624.4 L698.0 624.5 L698.2 624.4 L698.5 624.6 L698.8 624.4 L699.0 624.4 L699.2 624.4 L699.5 624.5 L699.8 624.4 L700.0 624.5 L700.2 624.5 L700.5 624.4 L700.8 624.4 L701.0 624.4 L701.2 624.5 L701.5 624.5 L701.8 624.4 L702.0 624.4 L702.2 624.3 L702.5 624.4 L702.8 624.3 L703.0 624.0 L703.2 624.4 L703.5 624.2 L703.8 624.0 L704.0 624.1 L704.2 624.0 L704.5 624.4 L704.8 624.1 L705.0 623.8 L705.2 624.1 L705.5 623.9 L705.8 624.2 L706.0 623.8 L706.2 623.6 L706.5 623.8 L706.8 623.7 L707.0 623.6 L707.2 623.3 L707.5 623.6 L707.8 623.7 L708.0 623.1 L708.2 623.4 L708.5 623.1 L708.8 623.3 L709.0 622.9 L709.2 622.7 L709.5 622.7 L709.8 622.4 L710.0 622.0 L710.2 621.8 L710.5 621.4 L710.8 620.8 L711.0 620.9 L711.2 620.2 L711.5 619.6 L711.8 619.2 L712.0 618.4 L712.2 617.8 L712.5 617.2 L712.8 616.5 L713.0 615.9 L713.3 615.3 L713.5 614.4 L713.8 613.9 L714.0 613.3 L714.3 612.7 L714.5 612.5 L714.8 612.2 L715.0 612.4 L715.3 612.4 L715.5 612.5 L715.8 612.7 L716.0 613.3 L716.3 613.6 L716.5 614.3 L716.7 614.7 L717.0 615.1 L717.2 615.9 L717.5 616.5 L717.8 616.9 L718.0 617.7 L718.3 618.1 L718.5 618.6 L718.8 619.2 L719.0 619.6 L719.3 620.1 L719.5 620.5 L719.8 621.1 L720.0 621.5 L720.3 621.6 L720.5 622.1 L720.7 622.1 L721.0 622.4 L721.2 622.7 L721.5 622.8 L721.8 623.2 L722.0 623.1 L722.3 623.0 L722.5 623.4 L722.8 623.3 L723.0 623.4 L723.3 623.1 L723.5 623.7 L723.8 623.8 L724.0 623.8 L724.3 623.9 L724.5 624.0 L724.7 623.8 L725.0 624.0 L725.2 623.8 L725.5 623.9 L725.8 624.1 L726.0 624.0 L726.3 623.8 L726.5 624.1 L726.8 624.0 L727.0 623.9 L727.3 624.1 L727.5 624.0 L727.8 623.9 L728.0 624.0 L728.3 624.3 L728.5 623.9 L728.8 624.2 L729.0 624.2 L729.2 624.2 L729.5 624.0 L729.8 624.1 L730.0 624.2 L730.3 624.2 L730.5 624.1 L730.8 624.0 L731.0 624.3 L731.2 624.3 L731.5 624.2 L731.8 624.0 L732.0 624.1 L732.2 624.1 L732.5 624.2 L732.8 623.9 L733.0 624.0 L733.2 624.0 L733.5 623.8 L733.8 623.9 L734.0 623.9 L734.3 623.8 L734.5 623.8 L734.8 623.5 L735.0 623.6 L735.2 623.6 L735.5 623.4 L735.8 623.4 L736.0 623.0 L736.2 622.8 L736.5 622.9 L736.8 622.7 L737.0 622.7 L737.2 622.3 L737.5 621.9 L737.8 621.9 L738.0 621.4 L738.3 621.1 L738.5 621.4 L738.8 620.9 L739.0 620.7 L739.2 620.5 L739.5 620.6 L739.8 620.3 L740.0 620.4 L740.2 620.1 L740.5 620.1 L740.8 620.6 L741.0 620.7 L741.2 620.7 L741.5 620.8 L741.8 621.0 L742.0 621.1 L742.3 621.5 L742.5 621.6 L742.8 621.8 L743.0 622.0 L743.2 622.3 L743.5 622.4 L743.8 622.6 L744.0 622.5 L744.2 622.9 L744.5 623.3 L744.8 623.1 L745.0 623.3 L745.2 623.5 L745.5 623.7 L745.8 623.7 L746.0 623.5 L746.3 623.9 L746.5 623.7 L746.8 623.8 L747.0 624.1 L747.2 624.0 L747.5 624.2 L747.8 624.5 L748.0 624.3 L748.2 624.3 L748.5 624.1 L748.8 624.2 L749.0 624.1 L749.2 624.2 L749.5 624.2 L749.8 624.3 L750.0 624.3 L750.3 624.2 L750.5 624.2 L750.8 624.2 L751.0 624.5 L751.2 624.4 L751.5 624.6 L751.7 624.6 L752.0 624.4 L752.2 624.5 L752.5 624.3 L752.8 624.8 L753.0 624.6 L753.2 624.5 L753.5 624.3 L753.8 624.5 L754.0 624.3 L754.3 624.4 L754.5 624.6 L754.8 624.5 L755.0 624.5 L755.3 624.6 L755.5 624.4 L755.7 624.6 L756.0 624.5 L756.2 624.4 L756.5 624.6 L756.8 624.4 L757.0 624.8 L757.3 624.5 L757.5 624.8 L757.8 624.4 L758.0 624.6 L758.3 624.4 L758.5 624.4 L758.8 624.6 L759.0 624.7 L759.3 624.4 L759.5 624.7 L759.7 624.5 L760.0 624.6 L760.2 624.6 L760.5 624.7 L760.8 624.3 L761.0 624.8 L761.3 624.7 L761.5 624.5 L761.8 624.5 L762.0 624.4 L762.3 624.4 L762.5 624.7 L762.8 624.5 L763.0 624.4 L763.3 624.5 L763.5 624.8 L763.7 624.6 L764.0 624.5 L764.2 624.8 L764.5 624.7 L764.8 624.6 L765.0 624.5 L765.3 624.4 L765.5 624.5 L765.8 624.5 L766.0 624.6 L766.3 624.7 L766.5 624.7 L766.8 624.6 L767.0 624.6 L767.3 624.5 L767.5 624.3 L767.8 624.5 L768.0 624.5 L768.2 624.5 L768.5 624.6 L768.8 624.5 L769.0 624.5 L769.3 624.6 L769.5 624.6 L769.8 624.5 L770.0 624.7 L770.3 624.6 L770.5 624.5 L770.8 624.6 L771.0 624.9 L771.3 624.5 L771.5 624.8 L771.8 624.8 L772.0 624.8 L772.2 624.5 L772.5 624.9 L772.8 624.6 L773.0 624.6 L773.3 624.6 L773.5 624.7 L773.8 624.6 L774.0 624.6 L774.2 624.8 L774.5 624.5 L774.8 624.5 L775.0 624.7 L775.2 624.7 L775.5 624.8 L775.8 624.5 L776.0 624.8 L776.2 624.7 L776.5 624.9 L776.8 624.5 L777.0 624.7 L777.3 624.6 L777.5 624.4 L777.8 624.5 L778.0 624.8 L778.2 624.6 L778.5 624.5 L778.8 624.7 L779.0 624.8 L779.2 624.8 L779.5 624.5 L779.8 624.6 L780.0 624.8 L780.2 624.5 L780.5 624.5 L780.8 624.7 L781.0 624.8 L781.3 624.5 L781.5 624.3 L781.8 624.4 L782.0 624.5 L782.2 624.6 L782.5 624.7 L782.8 624.6 L783.0 624.5 L783.2 624.6 L783.5 624.5 L783.8 624.6 L784.0 624.5 L784.2 625.0 L784.5 624.7 L784.8 624.5 L785.0 624.5 L785.3 624.6 L785.5 624.4 L785.8 624.5 L786.0 624.5 L786.2 624.7 L786.5 624.6 L786.8 624.5 L787.0 624.4 L787.2 624.5 L787.5 624.6 L787.8 624.6 L788.0 624.8 L788.2 624.5 L788.5 624.8 L788.8 624.7 L789.0 624.6 L789.3 624.4 L789.5 624.5 L789.8 624.7 L790.0 624.8 L790.2 624.6 L790.5 624.7 L790.8 624.6 L791.0 624.6 L791.2 624.5 L791.5 624.7 L791.8 624.7 L792.0 624.6 L792.2 624.6 L792.5 624.7 L792.8 624.7 L793.0 624.5 L793.3 624.8 L793.5 624.6 L793.8 624.6 L794.0 624.8 L794.2 624.7 L794.5 624.6 L794.7 624.7 L795.0 624.5 L795.2 624.5 L795.5 624.3 L795.8 624.8 L796.0 624.4 L796.3 624.7 L796.5 624.5 L796.8 624.5 L797.0 624.6 L797.3 624.6 L797.5 624.7 L797.8 624.8 L798.0 624.7 L798.3 624.7 L798.5 624.5 L798.7 624.7 L799.0 624.6 L799.2 624.5 L799.5 624.6 L799.8 624.6 L800.0 624.6 L800.3 624.7 L800.5 624.5 L800.8 624.5 L801.0 624.7 L801.3 624.4 L801.5 624.5 L801.8 624.8 L802.0 624.2 L802.3 624.5 L802.5 624.7 L802.7 624.4 L803.0 624.9 L803.2 624.3 L803.5 624.8 L803.8 624.8 L804.0 624.7 L804.3 624.6 L804.5 624.6 L804.8 624.5 L805.0 624.7 L805.3 624.4 L805.5 624.6 L805.8 624.7 L806.0 624.4 L806.3 624.5 L806.5 624.6 L806.7 624.4 L807.0 624.7 L807.2 624.6 L807.5 624.4 L807.8 624.6 L808.0 624.5 L808.3 624.5 L808.5 624.6 L808.8 624.5 L809.0 624.7 L809.3 624.5 L809.5 624.7 L809.8 624.6 L810.0 624.7 L810.3 624.5 L810.5 624.5 L810.8 624.4 L811.0 624.6 L811.2 624.7 L811.5 624.8 L811.8 624.7 L812.0 624.6 L812.3 624.5 L812.5 624.6 L812.8 624.6 L813.0 624.7 L813.3 624.7 L813.5 624.4 L813.8 624.5 L814.0 624.7 L814.3 624.6 L814.5 624.5 L814.8 624.7 L815.0 624.5 L815.2 624.5 L815.5 624.5 L815.8 624.3 L816.0 624.6 L816.3 624.4 L816.5 624.5 L816.8 624.4 L817.0 624.6 L817.2 624.5 L817.5 624.5 L817.8 624.3 L818.0 624.5 L818.2 624.3 L818.5 624.6 L818.8 624.6 L819.0 624.5 L819.2 624.8 L819.5 624.6 L819.8 624.6 L820.0 624.5 L820.3 624.5 L820.5 624.6 L820.8 624.6 L821.0 624.3 L821.2 624.6 L821.5 624.5 L821.8 624.6 L822.0 624.5 L822.2 624.3 L822.5 624.3 L822.8 624.7 L823.0 624.5 L823.2 624.3 L823.5 624.5 L823.8 624.4 L824.0 624.2 L824.3 624.1 L824.5 624.2 L824.8 624.5 L825.0 624.4 L825.2 624.4 L825.5 624.5 L825.8 624.5 L826.0 624.1 L826.2 624.4 L826.5 624.3 L826.8 624.2 L827.0 624.3 L827.2 624.4 L827.5 624.3 L827.8 624.2 L828.0 624.3 L828.3 624.6 L828.5 624.2 L828.8 624.1 L829.0 624.4 L829.2 624.4 L829.5 624.4 L829.8 624.2 L830.0 624.4 L830.2 624.2 L830.5 624.1 L830.8 624.2 L831.0 624.2 L831.2 624.3 L831.5 624.3 L831.8 624.2 L832.0 624.3 L832.3 624.2 L832.5 624.3 L832.8 624.0 L833.0 623.9 L833.2 624.2 L833.5 623.9 L833.8 624.0 L834.0 624.0 L834.2 624.0 L834.5 623.9 L834.8 624.2 L835.0 623.6 L835.2 624.0 L835.5 624.2 L835.8 623.9 L836.0 623.8 L836.3 623.9 L836.5 624.0 L836.8 623.6 L837.0 623.7 L837.3 623.6 L837.5 623.6 L837.7 623.5 L838.0 623.5 L838.2 623.3 L838.5 623.3 L838.8 623.1 L839.0 623.0 L839.3 622.9 L839.5 622.8 L839.8 622.5 L840.0 622.7 L840.3 622.3 L840.5 621.9 L840.8 622.0 L841.0 621.5 L841.3 621.4 L841.5 620.9 L841.7 620.6 L842.0 620.2 L842.2 619.6 L842.5 619.2 L842.8 618.9 L843.0 617.8 L843.3 617.5 L843.5 616.9 L843.8 616.0 L844.0 615.2 L844.3 615.0 L844.5 613.9 L844.8 613.5 L845.0 612.6 L845.3 611.9 L845.5 611.4 L845.7 610.9 L846.0 610.7 L846.2 610.3 L846.5 610.2 L846.8 610.2 L847.0 610.5 L847.3 610.7 L847.5 610.7 L847.8 611.2 L848.0 611.7 L848.3 612.1 L848.5 612.6 L848.8 613.1 L849.0 613.7 L849.3 614.4 L849.5 615.1 L849.8 615.5 L850.0 616.4 L850.2 616.7 L850.5 617.7 L850.8 618.0 L851.0 618.4 L851.3 618.8 L851.5 619.0 L851.8 619.8 L852.0 620.2 L852.3 620.8 L852.5 620.7 L852.8 621.5 L853.0 621.5 L853.3 621.9 L853.5 621.7 L853.8 622.2 L854.0 622.4 L854.2 622.7 L854.5 622.7 L854.8 622.7 L855.0 623.1 L855.3 623.2 L855.5 623.3 L855.8 623.4 L856.0 623.5 L856.3 623.4 L856.5 623.3 L856.8 623.4 L857.0 623.8 L857.3 623.7 L857.5 623.7 L857.8 623.7 L858.0 623.7 L858.2 623.8 L858.5 623.8 L858.8 623.7 L859.0 624.1 L859.3 623.9 L859.5 623.8 L859.8 623.8 L860.0 623.8 L860.2 624.1 L860.5 624.1 L860.8 624.0 L861.0 624.0 L861.2 624.0 L861.5 623.9 L861.8 624.2 L862.0 624.1 L862.2 624.4 L862.5 624.0 L862.8 624.1 L863.0 624.2 L863.3 624.1 L863.5 623.9 L863.8 624.0 L864.0 624.1 L864.2 624.2 L864.5 624.1 L864.8 624.3 L865.0 624.3 L865.2 624.2 L865.5 624.1 L865.8 624.1 L866.0 624.2 L866.2 624.2 L866.5 624.1 L866.8 624.2 L867.0 624.1 L867.3 623.9 L867.5 624.0 L867.8 624.2 L868.0 624.2 L868.2 624.3 L868.5 624.1 L868.8 624.2 L869.0 624.3 L869.2 624.2 L869.5 624.0 L869.8 624.0 L870.0 624.1 L870.2 623.9 L870.5 624.1 L870.8 624.1 L871.0 623.9 L871.3 624.2 L871.5 623.9 L871.8 623.9 L872.0 623.9 L872.2 623.8 L872.5 623.9 L872.8 623.8 L873.0 624.0 L873.2 623.8 L873.5 623.8 L873.8 623.6 L874.0 623.4 L874.2 623.5 L874.5 623.3 L874.8 623.4 L875.0 623.2 L875.3 623.3 L875.5 623.1 L875.8 622.9 L876.0 622.7 L876.2 622.5 L876.5 622.4 L876.8 622.2 L877.0 621.8 L877.2 621.7 L877.5 621.7 L877.8 621.1 L878.0 620.8 L878.3 620.4 L878.5 620.0 L878.8 620.0 L879.0 619.6 L879.3 619.3 L879.5 619.2 L879.8 619.1 L880.0 618.4 L880.3 618.5 L880.5 618.3 L880.7 618.2 L881.0 618.2 L881.2 618.2 L881.5 618.4 L881.8 618.4 L882.0 618.5 L882.3 618.8 L882.5 619.0 L882.8 619.1 L883.0 619.3 L883.3 619.7 L883.5 619.8 L883.8 619.9 L884.0 620.1 L884.3 620.4 L884.5 620.5 L884.7 620.9 L885.0 621.2 L885.2 621.1 L885.5 621.6 L885.8 621.9 L886.0 622.0 L886.3 622.1 L886.5 622.5 L886.8 622.4 L887.0 622.5 L887.3 622.6 L887.5 622.9 L887.8 623.1 L888.0 623.3 L888.3 623.2 L888.5 623.1 L888.7 623.2 L889.0 623.3 L889.2 623.4 L889.5 623.3 L889.8 623.5 L890.0 623.6 L890.3 623.6 L890.5 623.7 L890.8 623.5 L891.0 623.4 L891.3 623.6 L891.5 623.8 L891.8 623.8 L892.0 623.6 L892.3 623.8 L892.5 623.6 L892.8 623.8 L893.0 623.7 L893.2 623.5 L893.5 623.7 L893.8 623.5 L894.0 623.4 L894.3 623.3 L894.5 623.5 L894.8 623.4 L895.0 623.4 L895.3 623.3 L895.5 623.5 L895.8 623.2 L896.0 623.1 L896.3 623.2 L896.5 623.2 L896.8 622.9 L897.0 622.5 L897.2 622.6 L897.5 622.6 L897.8 622.3 L898.0 622.3 L898.3 621.7 L898.5 621.7 L898.8 621.3 L899.0 621.3 L899.3 620.7 L899.5 620.5 L899.8 619.9 L900.0 619.4 L900.3 618.9 L900.5 618.5 L900.8 617.9 L901.0 617.6 L901.2 617.1 L901.5 616.3 L901.8 615.6 L902.0 615.1 L902.3 614.4 L902.5 614.1 L902.8 613.4 L903.0 612.9 L903.2 612.4 L903.5 611.8 L903.8 611.7 L904.0 611.5 L904.2 611.7 L904.5 611.7 L904.8 611.7 L905.0 612.0 L905.2 612.5 L905.5 612.5 L905.8 612.9 L906.0 613.4 L906.3 613.8 L906.5 614.3 L906.8 614.9 L907.0 615.5 L907.2 615.5 L907.5 616.3 L907.8 616.8 L908.0 617.3 L908.2 617.7 L908.5 618.2 L908.8 618.8 L909.0 619.1 L909.2 619.6 L909.5 620.0 L909.8 620.4 L910.0 620.7 L910.3 621.2 L910.5 621.3 L910.8 621.6 L911.0 621.8 L911.2 621.9 L911.5 622.2 L911.8 622.3 L912.0 622.7 L912.2 622.7 L912.5 622.8 L912.8 623.1 L913.0 623.2 L913.2 623.0 L913.5 623.6 L913.8 623.4 L914.0 623.5 L914.3 623.7 L914.5 623.6 L914.8 623.6 L915.0 624.0 L915.2 623.6 L915.5 623.8 L915.8 623.9 L916.0 623.7 L916.2 623.9 L916.5 624.0 L916.8 624.3 L917.0 623.9 L917.2 624.0 L917.5 624.1 L917.8 624.0 L918.0 623.9 L918.3 624.1 L918.5 624.1 L918.8 624.2 L919.0 624.3 L919.3 624.3 L919.5 624.2 L919.8 624.2 L920.0 624.0 L920.2 624.2 L920.5 624.2 L920.8 624.2 L921.0 624.2 L921.3 624.1 L921.5 624.4 L921.8 624.5 L922.0 624.2 L922.3 624.3 L922.5 624.3 L922.8 624.5 L923.0 624.4 L923.3 624.3 L923.5 624.3 L923.7 624.3 L924.0 624.2 L924.2 624.4 L924.5 624.2 L924.8 624.4 L925.0 624.4 L925.3 624.5 L925.5 624.4 L925.8 624.5 L926.0 624.2 L926.3 624.5 L926.5 624.3 L926.8 624.4 L927.0 624.4 L927.3 624.5 L927.5 624.1 L927.7 624.4 L928.0 624.2 L928.2 624.6 L928.5 624.2 L928.8 624.3 L929.0 624.2 L929.3 624.6 L929.5 624.3 L929.8 624.4 L930.0 624.4 L930.3 624.2 L930.5 624.4 L930.8 624.5 L931.0 624.4 L931.3 624.6 L931.5 624.4 L931.7 624.4 L932.0 624.4 L932.2 624.5 L932.5 624.7 L932.8 624.5 L933.0 624.5 L933.3 624.4 L933.5 624.4 L933.8 624.7 L934.0 624.3 L934.3 624.4 L934.5 624.5 L934.8 624.4 L935.0 624.7 L935.3 624.2 L935.5 624.5 L935.8 624.6 L936.0 624.3 L936.2 624.4 L936.5 624.5 L936.8 624.7 L937.0 624.4 L937.3 624.3 L937.5 624.6 L937.8 624.7 L938.0 624.4 L938.3 624.2 L938.5 624.7 L938.8 624.5 L939.0 624.6 L939.3 624.5 L939.5 624.5 L939.8 624.4 L940.0 624.7 L940.2 624.7 L940.5 624.2 L940.8 624.4 L941.0 624.7 L941.3 624.5 L941.5 624.3 L941.8 624.5 L942.0 624.5 L942.3 624.5 L942.5 624.4 L942.8 624.5 L943.0 624.5 L943.2 624.6 L943.5 624.4 L943.8 624.5 L944.0 624.5 L944.2 624.7 L944.5 624.6 L944.8 624.5 L945.0 624.6 L945.3 624.6 L945.5 624.7 L945.8 624.6 L946.0 624.8" fill="none" stroke="#474747" stroke-width="2.4" stroke-linejoin="round"/><path d="M79.0 511.5 L79.2 511.3 L79.5 511.2 L79.7 511.4 L80.0 511.4 L80.2 511.3 L80.5 511.1 L80.7 511.0 L81.0 511.3 L81.2 511.4 L81.5 511.4 L81.7 511.1 L82.0 511.4 L82.2 511.2 L82.5 511.3 L82.7 511.3 L83.0 511.2 L83.2 511.2 L83.5 511.0 L83.7 511.2 L84.0 511.1 L84.2 511.3 L84.5 511.3 L84.7 511.4 L85.0 511.3 L85.2 511.2 L85.5 511.3 L85.7 511.2 L86.0 511.4 L86.2 511.3 L86.5 511.2 L86.8 511.3 L87.0 511.3 L87.2 511.2 L87.5 511.4 L87.8 511.5 L88.0 511.2 L88.2 511.2 L88.5 511.0 L88.8 511.3 L89.0 511.2 L89.2 511.0 L89.5 511.3 L89.8 511.4 L90.0 511.2 L90.2 511.2 L90.5 511.2 L90.8 511.4 L91.0 511.1 L91.2 511.2 L91.5 511.5 L91.8 511.3 L92.0 511.3 L92.2 511.3 L92.5 511.1 L92.8 511.3 L93.0 511.3 L93.3 511.2 L93.5 511.3 L93.8 511.4 L94.0 511.4 L94.3 511.1 L94.5 511.2 L94.8 511.1 L95.0 511.4 L95.3 511.4 L95.5 511.4 L95.8 511.2 L96.0 511.1 L96.3 511.3 L96.5 511.3 L96.8 511.2 L97.0 511.3 L97.3 511.4 L97.5 511.3 L97.8 511.1 L98.0 511.0 L98.3 511.2 L98.5 511.3 L98.8 511.2 L99.0 511.2 L99.3 511.2 L99.5 511.4 L99.8 511.3 L100.0 511.3 L100.2 511.2 L100.5 511.2 L100.8 511.3 L101.0 511.2 L101.2 511.1 L101.5 511.2 L101.7 511.4 L102.0 511.3 L102.2 511.5 L102.5 511.3 L102.7 511.2 L103.0 511.1 L103.2 511.2 L103.5 511.5 L103.7 511.3 L104.0 511.4 L104.2 511.4 L104.5 511.3 L104.7 511.3 L105.0 511.3 L105.2 511.4 L105.5 511.3 L105.7 511.3 L106.0 511.3 L106.2 511.2 L106.5 511.2 L106.8 511.2 L107.0 511.4 L107.2 511.0 L107.5 511.3 L107.8 511.6 L108.0 511.2 L108.2 511.1 L108.5 511.3 L108.8 511.4 L109.0 511.3 L109.2 511.4 L109.5 511.3 L109.8 511.2 L110.0 511.7 L110.2 511.3 L110.5 511.2 L110.8 511.2 L111.0 511.3 L111.2 511.3 L111.5 511.4 L111.8 511.3 L112.0 511.1 L112.2 511.4 L112.5 511.2 L112.8 511.2 L113.0 511.1 L113.2 511.2 L113.5 511.2 L113.8 511.3 L114.0 511.1 L114.2 511.3 L114.5 511.3 L114.8 511.1 L115.0 511.2 L115.3 511.2 L115.5 511.4 L115.8 511.0 L116.0 511.2 L116.3 511.1 L116.5 511.2 L116.8 511.4 L117.0 511.2 L117.3 511.3 L117.5 511.2 L117.8 511.5 L118.0 511.4 L118.3 511.4 L118.5 511.1 L118.8 511.1 L119.0 511.4 L119.3 511.3 L119.5 511.2 L119.8 511.3 L120.0 511.1 L120.3 511.4 L120.5 511.3 L120.7 511.3 L121.0 511.2 L121.3 511.3 L121.5 511.2 L121.7 511.4 L122.0 511.4 L122.3 511.4 L122.5 511.3 L122.7 511.4 L123.0 510.9 L123.2 511.4 L123.5 511.2 L123.7 511.3 L124.0 511.2 L124.2 511.1 L124.5 511.2 L124.7 511.4 L125.0 511.5 L125.2 511.2 L125.5 511.2 L125.7 511.5 L126.0 511.2 L126.2 511.5 L126.5 511.3 L126.8 511.2 L127.0 511.4 L127.2 511.5 L127.5 511.1 L127.8 511.5 L128.0 511.2 L128.2 511.5 L128.5 511.2 L128.8 511.1 L129.0 511.3 L129.2 511.4 L129.5 511.5 L129.8 511.5 L130.0 511.4 L130.2 511.2 L130.5 511.2 L130.8 511.2 L131.0 511.2 L131.2 511.2 L131.5 510.9 L131.8 511.3 L132.0 511.3 L132.2 511.6 L132.5 511.4 L132.8 511.2 L133.0 511.3 L133.2 511.1 L133.5 511.2 L133.8 511.0 L134.0 511.5 L134.2 511.4 L134.5 511.1 L134.8 511.3 L135.0 511.4 L135.2 511.3 L135.5 511.3 L135.8 511.2 L136.0 511.2 L136.2 511.3 L136.5 511.4 L136.8 511.2 L137.0 511.1 L137.2 511.4 L137.5 511.2 L137.8 511.4 L138.0 511.3 L138.3 511.4 L138.5 511.5 L138.8 511.4 L139.0 511.4 L139.3 511.2 L139.5 511.2 L139.8 511.4 L140.0 511.5 L140.3 511.5 L140.5 511.6 L140.8 511.3 L141.0 511.3 L141.2 511.4 L141.5 511.3 L141.8 511.3 L142.0 511.1 L142.2 511.4 L142.5 511.1 L142.8 511.3 L143.0 511.1 L143.2 511.4 L143.5 511.1 L143.8 511.4 L144.0 511.1 L144.2 511.2 L144.5 511.4 L144.8 511.2 L145.0 511.3 L145.2 511.2 L145.5 511.0 L145.8 511.3 L146.0 511.3 L146.2 511.1 L146.5 511.3 L146.8 511.2 L147.0 511.1 L147.2 511.3 L147.5 511.2 L147.8 511.6 L148.0 511.1 L148.2 511.4 L148.5 511.4 L148.8 511.0 L149.0 511.0 L149.2 511.3 L149.5 511.2 L149.8 511.3 L150.0 511.4 L150.2 511.2 L150.5 511.1 L150.8 510.9 L151.0 511.3 L151.2 511.1 L151.5 511.3 L151.8 511.3 L152.0 511.1 L152.2 511.5 L152.5 511.4 L152.8 511.4 L153.0 511.1 L153.2 511.2 L153.5 511.2 L153.8 511.2 L154.0 511.1 L154.2 511.3 L154.5 511.3 L154.8 511.3 L155.0 511.2 L155.2 511.4 L155.5 511.3 L155.8 510.9 L156.0 511.2 L156.2 511.3 L156.5 511.4 L156.8 511.2 L157.0 511.2 L157.2 511.2 L157.5 511.4 L157.8 511.2 L158.0 511.2 L158.2 511.2 L158.5 511.3 L158.8 511.2 L159.0 511.1 L159.2 511.4 L159.5 511.2 L159.8 511.3 L160.0 511.3 L160.2 511.4 L160.5 511.4 L160.8 511.2 L161.0 511.3 L161.3 511.1 L161.5 511.5 L161.7 511.3 L162.0 511.5 L162.3 511.2 L162.5 511.0 L162.7 511.5 L163.0 511.3 L163.3 511.3 L163.5 511.3 L163.8 511.4 L164.0 511.4 L164.3 511.1 L164.5 511.4 L164.8 511.2 L165.0 511.2 L165.3 511.5 L165.5 511.4 L165.8 511.2 L166.0 511.0 L166.3 511.3 L166.5 511.4 L166.8 511.3 L167.0 511.1 L167.2 511.2 L167.5 511.1 L167.8 511.3 L168.0 511.4 L168.2 511.4 L168.5 511.2 L168.8 511.3 L169.0 511.4 L169.2 511.2 L169.5 511.3 L169.8 511.6 L170.0 511.3 L170.2 511.4 L170.5 511.2 L170.8 511.3 L171.0 511.1 L171.2 511.3 L171.5 511.5 L171.8 511.6 L172.0 511.5 L172.2 511.4 L172.5 511.3 L172.8 511.2 L173.0 511.3 L173.2 511.4 L173.5 511.2 L173.8 511.4 L174.0 511.2 L174.2 511.1 L174.5 511.2 L174.8 511.1 L175.0 511.1 L175.2 511.5 L175.5 511.3 L175.8 511.3 L176.0 511.5 L176.2 511.5 L176.5 511.2 L176.8 511.5 L177.0 511.4 L177.2 511.3 L177.5 511.4 L177.8 511.1 L178.0 511.2 L178.2 511.3 L178.5 511.4 L178.8 511.3 L179.0 511.3 L179.2 511.4 L179.5 511.5 L179.8 511.4 L180.0 511.5 L180.2 511.3 L180.5 511.3 L180.8 511.4 L181.0 511.3 L181.3 511.3 L181.5 511.5 L181.8 511.3 L182.0 511.2 L182.3 511.4 L182.5 511.6 L182.8 511.3 L183.0 511.5 L183.2 511.3 L183.5 511.3 L183.8 511.2 L184.0 511.3 L184.2 511.6 L184.5 511.2 L184.8 511.5 L185.0 511.2 L185.2 511.3 L185.5 511.4 L185.8 511.4 L186.0 511.4 L186.2 511.1 L186.5 511.4 L186.8 511.2 L187.0 511.7 L187.2 511.3 L187.5 511.4 L187.8 511.2 L188.0 511.3 L188.2 511.2 L188.5 511.5 L188.8 511.3 L189.0 511.4 L189.2 511.2 L189.5 511.3 L189.8 511.5 L190.0 511.2 L190.2 511.1 L190.5 511.4 L190.8 511.2 L191.0 511.3 L191.2 511.5 L191.5 511.2 L191.8 511.4 L192.0 511.2 L192.2 511.5 L192.5 511.5 L192.8 511.3 L193.0 511.3 L193.2 511.2 L193.5 511.4 L193.8 511.5 L194.0 511.1 L194.2 511.5 L194.5 511.2 L194.8 511.2 L195.0 511.1 L195.2 511.6 L195.5 511.3 L195.8 511.4 L196.0 511.3 L196.2 511.5 L196.5 511.1 L196.8 511.3 L197.0 511.6 L197.2 511.3 L197.5 511.3 L197.8 511.4 L198.0 511.2 L198.2 511.3 L198.5 511.5 L198.8 511.4 L199.0 511.4 L199.2 511.3 L199.5 511.4 L199.8 511.3 L200.0 511.5 L200.2 511.4 L200.5 511.3 L200.8 511.0 L201.0 511.4 L201.2 511.4 L201.5 511.2 L201.7 511.1 L202.0 511.2 L202.3 511.5 L202.5 511.2 L202.7 511.3 L203.0 511.4 L203.3 511.5 L203.5 511.3 L203.7 511.3 L204.0 511.3 L204.3 511.6 L204.5 511.5 L204.8 511.3 L205.0 511.2 L205.3 511.2 L205.5 511.4 L205.8 511.2 L206.0 511.5 L206.3 511.4 L206.5 511.4 L206.8 511.4 L207.0 511.4 L207.3 511.2 L207.5 511.3 L207.7 511.6 L208.0 511.2 L208.3 511.3 L208.5 511.5 L208.7 511.3 L209.0 511.2 L209.3 511.2 L209.5 511.4 L209.7 511.5 L210.0 511.5 L210.3 511.3 L210.5 511.5 L210.8 511.2 L211.0 511.4 L211.3 511.2 L211.5 511.4 L211.8 511.4 L212.0 511.5 L212.3 511.2 L212.5 511.5 L212.8 511.3 L213.0 511.2 L213.2 511.3 L213.5 511.1 L213.8 511.3 L214.0 511.4 L214.2 511.3 L214.5 511.4 L214.8 511.3 L215.0 511.3 L215.2 511.1 L215.5 511.3 L215.8 511.2 L216.0 511.3 L216.2 511.3 L216.5 511.3 L216.8 511.1 L217.0 511.1 L217.2 511.3 L217.5 511.4 L217.8 511.3 L218.0 511.4 L218.2 511.5 L218.5 511.4 L218.8 511.3 L219.0 511.2 L219.2 511.2 L219.5 511.2 L219.8 511.3 L220.0 511.3 L220.3 511.3 L220.5 511.3 L220.8 511.4 L221.0 511.3 L221.3 511.3 L221.5 511.3 L221.8 511.2 L222.0 511.1 L222.3 511.3 L222.5 511.3 L222.8 511.2 L223.0 511.2 L223.2 511.5 L223.5 511.1 L223.8 511.2 L224.0 511.3 L224.2 511.1 L224.5 511.2 L224.8 511.4 L225.0 511.3 L225.2 511.3 L225.5 511.3 L225.8 511.2 L226.0 511.3 L226.2 511.1 L226.5 511.1 L226.8 511.2 L227.0 511.3 L227.2 511.2 L227.5 511.2 L227.8 510.9 L228.0 511.3 L228.2 511.4 L228.5 511.3 L228.8 511.0 L229.0 511.0 L229.2 511.1 L229.5 510.9 L229.8 511.1 L230.0 511.0 L230.2 511.1 L230.5 511.2 L230.8 510.7 L231.0 511.0 L231.2 510.9 L231.5 510.7 L231.8 510.8 L232.0 510.9 L232.2 511.0 L232.5 510.7 L232.8 511.0 L233.0 511.1 L233.2 510.9 L233.5 510.8 L233.8 510.7 L234.0 510.5 L234.2 510.7 L234.5 510.7 L234.8 510.7 L235.0 510.9 L235.2 510.6 L235.5 510.5 L235.8 510.6 L236.0 510.1 L236.2 510.1 L236.5 510.1 L236.8 510.0 L237.0 510.1 L237.2 509.9 L237.5 510.1 L237.8 509.9 L238.0 509.7 L238.2 509.5 L238.5 509.4 L238.8 509.3 L239.0 508.9 L239.2 508.9 L239.5 508.7 L239.8 508.4 L240.0 508.3 L240.3 507.9 L240.5 507.3 L240.8 507.0 L241.0 506.4 L241.3 506.0 L241.5 505.1 L241.8 504.5 L242.0 503.4 L242.3 502.3 L242.5 500.6 L242.8 498.6 L243.0 496.7 L243.3 493.7 L243.5 490.4 L243.8 486.2 L244.0 481.3 L244.3 476.1 L244.5 470.5 L244.7 466.0 L245.0 462.8 L245.3 462.7 L245.5 464.2 L245.7 467.3 L246.0 471.2 L246.3 475.5 L246.5 480.2 L246.7 484.1 L247.0 488.4 L247.3 491.9 L247.5 495.2 L247.7 497.5 L248.0 499.7 L248.3 501.3 L248.5 502.8 L248.8 503.9 L249.0 504.7 L249.3 505.5 L249.5 506.0 L249.8 506.7 L250.0 507.3 L250.3 507.5 L250.5 508.1 L250.8 508.0 L251.0 508.3 L251.3 508.6 L251.5 508.9 L251.8 509.1 L252.0 509.3 L252.3 509.4 L252.5 509.7 L252.8 509.6 L253.0 509.6 L253.3 509.7 L253.5 510.3 L253.8 509.8 L254.0 510.1 L254.3 510.4 L254.5 510.4 L254.8 510.2 L255.0 510.4 L255.3 510.6 L255.5 510.7 L255.8 510.4 L256.0 510.7 L256.2 510.7 L256.5 510.8 L256.8 510.9 L257.0 510.7 L257.3 510.6 L257.5 510.8 L257.8 511.0 L258.0 510.9 L258.2 510.9 L258.5 511.2 L258.8 510.8 L259.0 511.0 L259.3 510.9 L259.5 510.9 L259.8 511.0 L260.0 511.2 L260.2 510.9 L260.5 510.9 L260.8 510.8 L261.0 511.1 L261.3 511.0 L261.5 511.1 L261.8 510.9 L262.0 511.0 L262.2 511.2 L262.5 511.1 L262.8 511.2 L263.0 511.2 L263.3 511.1 L263.5 510.9 L263.8 511.2 L264.0 511.1 L264.2 511.3 L264.5 510.9 L264.8 510.9 L265.0 510.9 L265.3 511.0 L265.5 511.3 L265.8 511.2 L266.0 511.2 L266.2 511.2 L266.5 511.3 L266.8 511.1 L267.0 511.2 L267.2 511.2 L267.5 510.9 L267.8 511.1 L268.0 511.3 L268.2 511.1 L268.5 511.2 L268.8 511.1 L269.0 511.1 L269.2 511.3 L269.5 511.1 L269.8 511.0 L270.0 510.8 L270.2 511.1 L270.5 510.9 L270.8 510.9 L271.0 511.3 L271.2 511.3 L271.5 510.9 L271.8 511.3 L272.0 511.2 L272.2 511.1 L272.5 511.2 L272.8 510.9 L273.0 511.0 L273.2 511.0 L273.5 511.0 L273.8 511.2 L274.0 510.9 L274.2 511.0 L274.5 511.0 L274.8 511.1 L275.0 511.1 L275.2 511.2 L275.5 511.0 L275.8 510.9 L276.0 511.0 L276.2 511.1 L276.5 510.9 L276.8 511.1 L277.0 511.2 L277.2 510.9 L277.5 511.0 L277.8 511.1 L278.0 510.9 L278.2 510.8 L278.5 510.8 L278.8 510.9 L279.0 510.9 L279.2 510.8 L279.5 510.8 L279.8 511.0 L280.0 510.9 L280.2 510.5 L280.5 510.7 L280.8 510.6 L281.0 510.7 L281.2 510.5 L281.5 510.4 L281.8 510.3 L282.0 510.1 L282.2 510.2 L282.5 510.0 L282.8 510.0 L283.0 509.7 L283.2 509.6 L283.5 509.3 L283.8 509.0 L284.0 509.0 L284.2 508.4 L284.5 508.1 L284.8 507.3 L285.0 506.9 L285.2 505.9 L285.5 505.3 L285.8 504.5 L286.0 503.9 L286.2 503.4 L286.5 503.2 L286.8 503.4 L287.0 503.7 L287.2 504.2 L287.5 504.8 L287.8 505.3 L288.0 505.9 L288.2 506.6 L288.5 507.1 L288.8 507.7 L289.0 508.2 L289.2 508.5 L289.5 508.6 L289.8 508.7 L290.0 509.0 L290.2 509.2 L290.5 509.5 L290.8 509.3 L291.0 509.4 L291.2 509.6 L291.5 509.5 L291.8 509.5 L292.0 509.8 L292.2 509.7 L292.5 509.6 L292.8 509.5 L293.0 509.3 L293.2 509.5 L293.5 509.4 L293.8 509.3 L294.0 509.2 L294.3 509.2 L294.5 509.1 L294.8 509.1 L295.0 509.1 L295.3 508.9 L295.5 508.5 L295.8 508.4 L296.0 508.2 L296.3 508.1 L296.5 508.1 L296.8 507.9 L297.0 507.6 L297.3 507.5 L297.5 507.1 L297.8 506.7 L298.0 506.4 L298.3 506.1 L298.5 506.0 L298.8 505.2 L299.0 505.1 L299.2 504.6 L299.5 503.7 L299.8 503.0 L300.0 502.2 L300.3 501.3 L300.5 500.3 L300.8 499.0 L301.0 497.6 L301.2 495.9 L301.5 493.6 L301.8 491.1 L302.0 487.9 L302.3 484.3 L302.5 479.5 L302.8 474.2 L303.0 467.7 L303.2 459.8 L303.5 451.4 L303.8 441.2 L304.0 431.3 L304.3 422.3 L304.5 415.0 L304.8 411.6 L305.0 411.8 L305.2 415.4 L305.5 421.2 L305.8 428.2 L306.0 435.9 L306.3 444.0 L306.5 452.1 L306.8 459.9 L307.0 466.9 L307.2 473.5 L307.5 478.7 L307.8 483.3 L308.0 487.5 L308.3 490.6 L308.5 493.2 L308.8 495.5 L309.0 497.3 L309.2 498.6 L309.5 500.1 L309.8 501.1 L310.0 502.2 L310.3 502.9 L310.5 503.9 L310.8 504.5 L311.0 504.9 L311.2 505.5 L311.5 505.8 L311.8 506.3 L312.0 506.7 L312.3 507.0 L312.5 507.0 L312.8 507.5 L313.0 507.9 L313.2 508.1 L313.5 508.4 L313.8 508.2 L314.0 508.7 L314.2 508.7 L314.5 508.9 L314.7 509.1 L315.0 509.2 L315.2 509.2 L315.5 509.4 L315.8 509.3 L316.0 509.4 L316.2 509.7 L316.5 509.7 L316.7 509.6 L317.0 509.8 L317.2 510.0 L317.5 510.2 L317.8 510.2 L318.0 510.2 L318.2 510.0 L318.5 510.2 L318.7 510.3 L319.0 510.4 L319.2 510.4 L319.5 510.4 L319.8 510.7 L320.0 510.7 L320.2 510.5 L320.5 510.4 L320.8 510.8 L321.0 510.5 L321.2 510.8 L321.5 510.9 L321.8 510.6 L322.0 510.7 L322.2 510.7 L322.5 510.8 L322.8 510.8 L323.0 511.0 L323.2 510.9 L323.5 510.8 L323.8 511.0 L324.0 510.8 L324.2 510.8 L324.5 511.2 L324.8 510.8 L325.0 510.8 L325.2 510.9 L325.5 510.8 L325.8 510.7 L326.0 511.1 L326.2 510.8 L326.5 510.9 L326.8 510.9 L327.0 510.8 L327.2 510.8 L327.5 511.0 L327.8 511.3 L328.0 511.1 L328.2 511.1 L328.5 510.8 L328.8 511.0 L329.0 510.8 L329.2 511.1 L329.5 510.9 L329.8 510.9 L330.0 510.9 L330.2 510.8 L330.5 510.7 L330.8 511.0 L331.0 510.7 L331.2 510.7 L331.5 510.8 L331.8 510.7 L332.0 510.8 L332.2 510.9 L332.5 510.7 L332.8 510.7 L333.0 510.6 L333.2 510.7 L333.5 510.2 L333.8 510.5 L334.0 510.2 L334.2 510.1 L334.5 510.1 L334.8 509.9 L335.0 509.9 L335.3 509.7 L335.5 509.1 L335.8 509.1 L336.0 509.0 L336.2 508.4 L336.5 508.0 L336.8 507.3 L337.0 506.4 L337.3 505.7 L337.5 505.1 L337.8 504.3 L338.0 503.3 L338.2 502.7 L338.5 502.4 L338.8 502.1 L339.0 502.5 L339.3 503.2 L339.5 503.8 L339.8 504.1 L340.0 505.0 L340.2 505.4 L340.5 506.1 L340.8 506.5 L341.0 507.5 L341.3 507.9 L341.5 508.7 L341.8 508.8 L342.0 509.1 L342.2 509.1 L342.5 509.8 L342.8 509.7 L343.0 509.9 L343.3 509.8 L343.5 510.3 L343.8 510.4 L344.0 510.2 L344.2 510.4 L344.5 510.5 L344.8 510.6 L345.0 510.5 L345.3 510.8 L345.5 510.5 L345.8 510.5 L346.0 510.5 L346.2 510.3 L346.5 510.5 L346.8 510.7 L347.0 510.6 L347.3 510.5 L347.5 510.6 L347.8 510.3 L348.0 510.5 L348.2 510.6 L348.5 510.6 L348.8 510.4 L349.0 510.6 L349.3 510.7 L349.5 510.3 L349.8 510.5 L350.0 510.1 L350.2 510.0 L350.5 510.3 L350.8 510.1 L351.0 510.1 L351.3 509.9 L351.5 509.9 L351.8 509.9 L352.0 509.9 L352.2 509.5 L352.5 509.2 L352.8 509.4 L353.0 509.2 L353.3 509.0 L353.5 508.7 L353.8 508.8 L354.0 508.2 L354.2 508.0 L354.5 507.3 L354.8 507.1 L355.0 506.6 L355.3 506.1 L355.5 505.5 L355.8 504.5 L356.0 503.9 L356.2 502.4 L356.5 501.2 L356.8 499.6 L357.0 497.5 L357.2 495.5 L357.5 492.9 L357.7 489.9 L358.0 486.9 L358.2 483.2 L358.5 479.9 L358.8 476.8 L359.0 474.6 L359.2 473.8 L359.5 474.1 L359.7 475.2 L360.0 477.3 L360.2 479.2 L360.5 481.9 L360.8 484.6 L361.0 487.8 L361.2 490.3 L361.5 493.0 L361.7 495.3 L362.0 497.7 L362.2 499.4 L362.5 501.1 L362.8 502.2 L363.0 503.8 L363.2 504.6 L363.5 505.5 L363.7 506.3 L364.0 506.7 L364.2 507.2 L364.5 507.7 L364.8 508.1 L365.0 508.3 L365.2 508.6 L365.5 508.8 L365.7 509.2 L366.0 509.4 L366.2 509.4 L366.5 509.9 L366.8 509.5 L367.0 509.8 L367.2 510.2 L367.5 510.1 L367.8 510.0 L368.0 510.5 L368.2 510.5 L368.5 510.3 L368.8 510.6 L369.0 510.5 L369.2 510.5 L369.5 510.7 L369.8 510.7 L370.0 510.7 L370.3 510.8 L370.5 510.8 L370.8 510.9 L371.0 511.0 L371.3 511.1 L371.5 511.0 L371.8 510.9 L372.0 510.9 L372.3 511.1 L372.5 511.4 L372.8 511.3 L373.0 511.1 L373.3 511.4 L373.5 511.1 L373.8 511.4 L374.0 511.2 L374.3 511.4 L374.5 511.4 L374.8 511.3 L375.0 511.4 L375.3 511.2 L375.5 511.4 L375.8 511.6 L376.0 512.0 L376.3 511.5 L376.5 511.5 L376.8 511.3 L377.0 511.6 L377.3 511.3 L377.5 511.4 L377.8 511.6 L378.0 511.4 L378.3 511.7 L378.5 511.7 L378.8 511.5 L379.0 511.5 L379.2 511.4 L379.5 511.4 L379.8 511.6 L380.0 511.7 L380.3 511.6 L380.5 511.6 L380.8 511.5 L381.0 511.7 L381.2 511.4 L381.5 511.6 L381.8 511.8 L382.0 511.8 L382.3 511.6 L382.5 511.6 L382.8 511.8 L383.0 511.9 L383.2 511.5 L383.5 511.6 L383.8 511.7 L384.0 511.8 L384.3 511.6 L384.5 511.8 L384.8 511.7 L385.0 512.0 L385.2 511.8 L385.5 511.7 L385.8 511.7 L386.0 511.9 L386.3 511.8 L386.5 511.6 L386.8 511.8 L387.0 511.6 L387.2 511.6 L387.5 511.6 L387.8 511.6 L388.0 511.7 L388.3 511.6 L388.5 511.8 L388.8 511.9 L389.0 511.7 L389.2 511.6 L389.5 511.9 L389.8 511.5 L390.0 511.5 L390.3 511.9 L390.5 511.9 L390.8 511.9 L391.0 511.7 L391.2 511.6 L391.5 511.7 L391.8 511.9 L392.0 511.7 L392.3 511.7 L392.5 511.6 L392.8 511.6 L393.0 511.9 L393.2 511.9 L393.5 511.6 L393.8 511.7 L394.0 511.7 L394.3 511.9 L394.5 511.7 L394.8 511.8 L395.0 511.5 L395.2 511.6 L395.5 511.9 L395.8 511.9 L396.0 511.7 L396.3 511.7 L396.5 511.9 L396.8 511.8 L397.0 511.8 L397.2 511.9 L397.5 511.9 L397.8 512.0 L398.0 511.9 L398.3 511.8 L398.5 511.8 L398.8 511.8 L399.0 511.7 L399.2 511.7 L399.5 512.0 L399.8 511.6 L400.0 512.0 L400.2 511.9 L400.5 511.8 L400.7 511.9 L401.0 511.9 L401.2 512.0 L401.5 511.8 L401.8 511.8 L402.0 511.8 L402.2 512.1 L402.5 512.0 L402.7 511.7 L403.0 511.8 L403.2 511.8 L403.5 511.9 L403.8 511.9 L404.0 512.2 L404.2 511.6 L404.5 512.0 L404.7 511.9 L405.0 511.8 L405.2 511.9 L405.5 511.8 L405.8 511.9 L406.0 512.0 L406.2 511.7 L406.5 512.0 L406.7 511.8 L407.0 512.1 L407.2 511.9 L407.5 512.0 L407.8 512.0 L408.0 512.0 L408.2 511.9 L408.5 511.8 L408.8 512.0 L409.0 512.0 L409.2 512.2 L409.5 511.6 L409.8 511.9 L410.0 512.0 L410.2 511.7 L410.5 511.9 L410.8 512.2 L411.0 512.1 L411.3 511.8 L411.5 512.1 L411.8 512.0 L412.0 512.0 L412.3 511.9 L412.5 511.9 L412.8 511.8 L413.0 511.8 L413.3 512.0 L413.5 511.9 L413.8 512.1 L414.0 511.9 L414.3 511.6 L414.5 511.9 L414.8 511.9 L415.0 511.9 L415.3 511.9 L415.5 511.8 L415.8 512.1 L416.0 511.8 L416.3 512.0 L416.5 511.9 L416.8 511.7 L417.0 512.1 L417.3 511.6 L417.5 511.8 L417.8 512.0 L418.0 511.8 L418.3 512.0 L418.5 511.9 L418.8 511.8 L419.0 512.2 L419.3 511.9 L419.5 511.9 L419.8 511.7 L420.0 511.8 L420.3 512.0 L420.5 512.0 L420.8 511.9 L421.0 511.8 L421.3 512.0 L421.5 511.7 L421.8 511.8 L422.0 511.8 L422.2 511.8 L422.5 511.9 L422.8 511.8 L423.0 511.8 L423.3 512.1 L423.5 511.9 L423.8 512.0 L424.0 511.8 L424.2 512.0 L424.5 511.9 L424.8 512.0 L425.0 512.1 L425.3 511.8 L425.5 511.8 L425.8 511.8 L426.0 511.3 L426.2 511.6 L426.5 511.7 L426.8 511.8 L427.0 511.6 L427.3 511.8 L427.5 511.8 L427.8 511.5 L428.0 511.7 L428.2 511.7 L428.5 511.5 L428.8 511.2 L429.0 511.5 L429.3 511.2 L429.5 511.0 L429.8 511.0 L430.0 510.8 L430.2 510.8 L430.5 510.7 L430.8 510.6 L431.0 510.4 L431.3 510.2 L431.5 510.3 L431.8 510.4 L432.0 510.3 L432.2 510.8 L432.5 510.5 L432.8 510.6 L433.0 510.9 L433.3 511.0 L433.5 511.0 L433.8 511.1 L434.0 511.2 L434.2 511.4 L434.5 511.5 L434.8 511.4 L435.0 511.5 L435.3 511.7 L435.5 511.7 L435.8 511.2 L436.0 511.5 L436.2 511.6 L436.5 511.7 L436.8 511.8 L437.0 511.9 L437.3 511.8 L437.5 511.8 L437.8 511.8 L438.0 512.0 L438.2 511.7 L438.5 511.9 L438.8 512.0 L439.0 511.9 L439.3 511.6 L439.5 511.9 L439.8 511.8 L440.0 511.8 L440.2 512.0 L440.5 511.9 L440.8 511.8 L441.0 512.0 L441.3 511.9 L441.5 511.9 L441.7 511.9 L442.0 511.9 L442.2 511.8 L442.5 511.8 L442.8 511.9 L443.0 511.8 L443.2 511.7 L443.5 512.0 L443.7 511.8 L444.0 511.9 L444.2 511.9 L444.5 511.9 L444.8 511.9 L445.0 511.9 L445.2 511.8 L445.5 512.0 L445.7 511.8 L446.0 512.0 L446.2 511.6 L446.5 511.7 L446.8 512.0 L447.0 511.9 L447.2 511.8 L447.5 511.9 L447.7 511.7 L448.0 511.9 L448.2 511.6 L448.5 511.8 L448.8 511.8 L449.0 511.9 L449.2 512.0 L449.5 511.7 L449.8 512.1 L450.0 511.8 L450.2 511.6 L450.5 511.5 L450.8 512.0 L451.0 511.8 L451.2 511.8 L451.5 511.7 L451.8 511.7 L452.0 512.0 L452.2 511.8 L452.5 512.1 L452.8 511.8 L453.0 511.5 L453.3 511.9 L453.5 511.8 L453.8 511.8 L454.0 512.0 L454.3 511.8 L454.5 512.0 L454.8 511.8 L455.0 511.7 L455.3 511.9 L455.5 511.7 L455.8 511.9 L456.0 511.9 L456.3 511.8 L456.5 511.8 L456.8 511.8 L457.0 511.7 L457.3 511.9 L457.5 511.7 L457.8 511.8 L458.0 511.6 L458.3 511.7 L458.5 511.8 L458.8 511.6 L459.0 511.7 L459.3 511.6 L459.5 511.8 L459.8 511.6 L460.0 511.7 L460.3 511.9 L460.5 511.7 L460.8 511.5 L461.0 511.7 L461.3 511.8 L461.5 511.6 L461.8 511.8 L462.0 511.7 L462.3 511.7 L462.5 511.6 L462.8 511.5 L463.0 511.5 L463.2 511.6 L463.5 511.6 L463.8 511.6 L464.0 511.5 L464.3 511.5 L464.5 511.6 L464.8 511.3 L465.0 511.4 L465.2 511.4 L465.5 511.4 L465.8 511.4 L466.0 511.4 L466.3 511.3 L466.5 511.5 L466.8 511.4 L467.0 511.1 L467.2 511.3 L467.5 511.2 L467.8 511.5 L468.0 511.2 L468.3 511.2 L468.5 511.2 L468.8 511.2 L469.0 511.2 L469.2 511.4 L469.5 511.2 L469.8 511.2 L470.0 511.2 L470.3 510.9 L470.5 511.2 L470.8 511.1 L471.0 511.1 L471.2 510.8 L471.5 511.0 L471.8 510.9 L472.0 510.7 L472.3 511.0 L472.5 510.8 L472.8 510.6 L473.0 510.6 L473.2 510.7 L473.5 510.6 L473.8 510.5 L474.0 510.5 L474.3 510.5 L474.5 510.1 L474.8 510.1 L475.0 509.9 L475.2 510.0 L475.5 510.1 L475.8 509.9 L476.0 509.6 L476.3 509.6 L476.5 509.6 L476.8 509.3 L477.0 509.2 L477.2 509.1 L477.5 508.7 L477.8 508.9 L478.0 508.7 L478.3 508.5 L478.5 508.1 L478.8 507.9 L479.0 507.7 L479.2 507.6 L479.5 507.3 L479.8 507.0 L480.0 506.9 L480.3 506.5 L480.5 505.8 L480.8 505.4 L481.0 505.2 L481.2 504.5 L481.5 504.1 L481.8 503.4 L482.0 502.4 L482.3 501.6 L482.5 500.6 L482.8 499.4 L483.0 498.0 L483.2 496.6 L483.5 494.9 L483.8 492.7 L484.0 490.2 L484.3 487.3 L484.5 483.9 L484.7 480.5 L485.0 475.6 L485.2 470.9 L485.5 465.5 L485.8 459.2 L486.0 452.9 L486.2 446.2 L486.5 439.2 L486.7 433.1 L487.0 427.6 L487.2 424.0 L487.5 421.9 L487.8 421.8 L488.0 423.5 L488.2 426.4 L488.5 430.4 L488.7 434.8 L489.0 439.6 L489.2 445.1 L489.5 450.5 L489.8 455.8 L490.0 461.7 L490.2 466.8 L490.5 471.8 L490.8 476.2 L491.0 480.4 L491.2 484.1 L491.5 487.2 L491.8 490.1 L492.0 492.3 L492.2 494.8 L492.5 496.3 L492.8 497.7 L493.0 499.2 L493.2 500.4 L493.5 501.6 L493.8 502.3 L494.0 503.3 L494.3 503.8 L494.5 504.8 L494.8 505.1 L495.0 505.8 L495.3 505.8 L495.5 506.5 L495.8 506.6 L496.0 507.1 L496.3 507.4 L496.5 507.4 L496.8 507.7 L497.0 507.9 L497.3 508.1 L497.5 508.4 L497.8 508.6 L498.0 508.7 L498.3 509.0 L498.5 509.2 L498.8 509.1 L499.0 509.4 L499.3 509.6 L499.5 509.6 L499.8 509.7 L500.0 510.0 L500.3 510.1 L500.5 510.2 L500.8 510.1 L501.0 510.5 L501.3 510.5 L501.5 510.3 L501.8 510.4 L502.0 510.7 L502.3 510.5 L502.5 510.7 L502.8 510.7 L503.0 510.6 L503.3 510.8 L503.5 510.6 L503.8 510.8 L504.0 510.7 L504.3 511.3 L504.5 511.2 L504.8 511.2 L505.0 511.1 L505.3 511.2 L505.5 511.3 L505.8 511.3 L506.0 511.3 L506.2 511.1 L506.5 511.3 L506.8 511.2 L507.0 511.2 L507.3 511.2 L507.5 511.4 L507.8 511.5 L508.0 511.2 L508.2 511.7 L508.5 511.6 L508.8 511.4 L509.0 511.4 L509.3 511.5 L509.5 511.7 L509.8 511.5 L510.0 511.4 L510.2 511.6 L510.5 511.3 L510.8 511.6 L511.0 511.8 L511.3 511.7 L511.5 511.8 L511.8 511.7 L512.0 511.8 L512.2 511.7 L512.5 511.6 L512.8 511.7 L513.0 511.7 L513.2 511.9 L513.5 512.0 L513.8 511.8 L514.0 511.7 L514.2 511.7 L514.5 511.8 L514.8 512.0 L515.0 511.9 L515.2 511.8 L515.5 511.7 L515.8 512.0 L516.0 511.9 L516.2 511.8 L516.5 511.9 L516.8 512.1 L517.0 511.9 L517.2 512.1 L517.5 512.1 L517.8 511.9 L518.0 512.0 L518.2 511.9 L518.5 511.8 L518.8 511.9 L519.0 511.8 L519.3 512.0 L519.5 511.9 L519.8 512.0 L520.0 512.1 L520.2 511.6 L520.5 512.0 L520.8 511.7 L521.0 512.0 L521.3 511.9 L521.5 512.0 L521.8 512.2 L522.0 511.8 L522.2 512.0 L522.5 512.0 L522.8 511.8 L523.0 512.1 L523.3 512.0 L523.5 511.9 L523.8 511.9 L524.0 512.4 L524.2 512.0 L524.5 511.8 L524.8 511.9 L525.0 512.0 L525.3 512.0 L525.5 512.0 L525.8 511.9 L526.0 512.1 L526.2 512.0 L526.5 511.9 L526.8 511.9 L527.0 512.0 L527.2 512.1 L527.5 512.1 L527.8 512.0 L528.0 512.0 L528.2 512.1 L528.5 512.3 L528.8 512.0 L529.0 512.1 L529.2 512.1 L529.5 511.9 L529.8 512.1 L530.0 512.1 L530.2 512.0 L530.5 512.1 L530.8 512.2 L531.0 512.2 L531.2 512.0 L531.5 512.0 L531.8 512.3 L532.0 511.9 L532.2 512.0 L532.5 512.1 L532.8 512.0 L533.0 512.1 L533.2 512.0 L533.5 512.1 L533.8 512.1 L534.0 511.9 L534.2 512.0 L534.5 511.9 L534.8 511.8 L535.0 511.9 L535.2 511.7 L535.5 511.9 L535.8 512.0 L536.0 512.0 L536.2 511.9 L536.5 511.6 L536.8 511.9 L537.0 511.6 L537.2 511.6 L537.5 511.8 L537.8 511.4 L538.0 511.6 L538.2 511.4 L538.5 511.3 L538.8 511.1 L539.0 511.1 L539.2 510.9 L539.5 510.9 L539.8 510.7 L540.0 510.2 L540.2 510.1 L540.5 509.8 L540.8 509.4 L541.0 509.1 L541.2 508.9 L541.5 508.4 L541.8 507.8 L542.0 507.6 L542.2 507.3 L542.5 506.8 L542.8 506.5 L543.0 506.7 L543.2 506.6 L543.5 506.3 L543.8 506.4 L544.0 506.8 L544.2 506.9 L544.5 507.3 L544.8 507.6 L545.0 508.0 L545.2 507.9 L545.5 508.3 L545.8 508.8 L546.0 509.4 L546.2 509.6 L546.5 509.6 L546.8 510.2 L547.0 510.5 L547.2 510.5 L547.5 510.7 L547.8 511.0 L548.0 511.2 L548.2 511.2 L548.5 511.4 L548.8 511.4 L549.0 511.5 L549.2 511.5 L549.5 511.7 L549.8 511.7 L550.0 511.7 L550.2 511.9 L550.5 511.9 L550.8 512.0 L551.0 511.7 L551.2 512.0 L551.5 511.9 L551.8 511.9 L552.0 511.9 L552.2 512.2 L552.5 512.2 L552.8 512.0 L553.0 511.9 L553.2 512.1 L553.5 512.0 L553.8 512.3 L554.0 511.9 L554.2 511.9 L554.5 512.1 L554.8 512.2 L555.0 512.2 L555.2 512.3 L555.5 512.5 L555.8 512.2 L556.0 512.1 L556.2 512.0 L556.5 512.3 L556.8 512.3 L557.0 512.2 L557.2 512.4 L557.5 512.3 L557.8 512.5 L558.0 512.3 L558.2 512.1 L558.5 512.2 L558.8 512.1 L559.0 512.1 L559.2 512.3 L559.5 512.4 L559.8 512.5 L560.0 512.3 L560.2 512.3 L560.5 512.2 L560.8 512.4 L561.0 512.4 L561.2 512.2 L561.5 512.4 L561.8 512.4 L562.0 512.1 L562.2 512.4 L562.5 512.4 L562.8 512.3 L563.0 512.3 L563.2 512.6 L563.5 512.5 L563.8 512.6 L564.0 512.2 L564.2 512.3 L564.5 512.5 L564.8 512.2 L565.0 512.3 L565.2 512.1 L565.5 512.6 L565.8 512.5 L566.0 512.4 L566.2 512.4 L566.5 512.3 L566.8 512.3 L567.0 512.5 L567.2 512.3 L567.5 512.5 L567.8 512.3 L568.0 512.3 L568.2 512.6 L568.5 512.4 L568.8 512.5 L569.0 512.3 L569.2 512.1 L569.5 512.5 L569.8 512.2 L570.0 512.5 L570.2 512.2 L570.5 512.2 L570.8 512.4 L571.0 512.5 L571.2 512.4 L571.5 512.3 L571.8 512.5 L572.0 512.2 L572.2 512.4 L572.5 512.3 L572.8 512.4 L573.0 512.5 L573.2 512.3 L573.5 512.5 L573.8 512.5 L574.0 512.2 L574.2 512.3 L574.5 512.4 L574.8 512.4 L575.0 512.5 L575.2 512.2 L575.5 512.5 L575.8 512.5 L576.0 512.4 L576.2 512.3 L576.5 512.4 L576.8 512.4 L577.0 512.5 L577.2 512.4 L577.5 512.5 L577.8 512.4 L578.0 512.6 L578.2 512.2 L578.5 512.3 L578.8 512.5 L579.0 512.3 L579.2 512.6 L579.5 512.3 L579.8 512.5 L580.0 512.3 L580.2 512.4 L580.5 512.5 L580.8 512.4 L581.0 512.4 L581.2 512.7 L581.5 512.5 L581.8 512.3 L582.0 512.6 L582.2 512.6 L582.5 512.6 L582.8 512.7 L583.0 512.4 L583.2 512.6 L583.5 512.6 L583.8 512.5 L584.0 512.5 L584.2 512.1 L584.5 512.4 L584.8 512.7 L585.0 512.2 L585.2 512.4 L585.5 512.5 L585.8 512.6 L586.0 512.7 L586.2 512.3 L586.5 512.5 L586.8 512.6 L587.0 512.3 L587.2 512.5 L587.5 512.7 L587.8 512.7 L588.0 512.6 L588.2 512.2 L588.5 512.5 L588.8 512.5 L589.0 512.5 L589.2 512.5 L589.5 512.9 L589.8 512.5 L590.0 512.4 L590.2 512.5 L590.5 512.5 L590.8 512.5 L591.0 512.5 L591.3 512.6 L591.5 512.5 L591.8 512.4 L592.0 512.5 L592.3 512.6 L592.5 512.5 L592.8 512.7 L593.0 512.6 L593.3 512.4 L593.5 512.6 L593.8 512.8 L594.0 512.7 L594.3 512.5 L594.5 512.6 L594.8 512.4 L595.0 512.3 L595.3 512.6 L595.5 512.6 L595.8 512.6 L596.0 512.5 L596.3 512.6 L596.5 512.5 L596.8 512.6 L597.0 512.6 L597.3 512.5 L597.5 512.6 L597.8 512.3 L598.0 512.4 L598.3 512.7 L598.5 512.8 L598.8 512.6 L599.0 512.5 L599.3 512.4 L599.5 512.6 L599.8 512.6 L600.0 512.3 L600.3 512.6 L600.5 512.6 L600.8 512.6 L601.0 512.4 L601.3 512.6 L601.5 512.3 L601.8 512.7 L602.0 512.6 L602.2 512.4 L602.5 512.7 L602.8 512.7 L603.0 512.5 L603.2 512.8 L603.5 512.4 L603.8 512.6 L604.0 512.7 L604.2 512.2 L604.5 512.7 L604.8 512.5 L605.0 512.5 L605.2 512.4 L605.5 512.6 L605.8 512.4 L606.0 512.4 L606.2 512.5 L606.5 512.4 L606.8 512.8 L607.0 512.4 L607.2 512.5 L607.5 512.5 L607.8 512.6 L608.0 512.7 L608.2 512.7 L608.5 512.5 L608.8 512.5 L609.0 512.6 L609.2 512.7 L609.5 512.6 L609.8 512.5 L610.0 512.3 L610.2 512.8 L610.5 512.7 L610.8 512.6 L611.0 512.6 L611.2 512.5 L611.5 512.4 L611.8 512.5 L612.0 512.5 L612.2 512.5 L612.5 512.4 L612.8 512.5 L613.0 512.6 L613.2 512.5 L613.5 512.6 L613.8 512.3 L614.0 512.5 L614.2 512.5 L614.5 512.4 L614.8 512.3 L615.0 512.6 L615.2 512.5 L615.5 512.6 L615.8 512.5 L616.0 512.6 L616.2 512.5 L616.5 512.4 L616.8 512.6 L617.0 512.5 L617.2 512.6 L617.5 512.5 L617.8 512.5 L618.0 512.7 L618.3 512.7 L618.5 512.7 L618.8 512.7 L619.0 512.6 L619.3 512.7 L619.5 512.7 L619.8 512.6 L620.0 512.6 L620.3 512.6 L620.5 512.9 L620.8 512.6 L621.0 512.5 L621.3 512.5 L621.5 512.6 L621.8 512.6 L622.0 512.4 L622.3 512.3 L622.5 512.6 L622.8 512.4 L623.0 512.6 L623.3 512.6 L623.5 512.7 L623.8 512.8 L624.0 512.6 L624.3 512.5 L624.5 512.4 L624.8 512.5 L625.0 512.6 L625.2 512.3 L625.5 512.6 L625.8 512.6 L626.0 512.7 L626.2 512.5 L626.5 512.6 L626.8 512.5 L627.0 512.5 L627.2 512.3 L627.5 512.6 L627.8 512.8 L628.0 512.6 L628.2 512.6 L628.5 512.4 L628.8 512.8 L629.0 512.5 L629.2 512.7 L629.5 512.6 L629.8 512.4 L630.0 512.7 L630.3 512.6 L630.5 512.6 L630.8 512.6 L631.0 512.6 L631.3 512.5 L631.5 512.6 L631.8 512.5 L632.0 512.6 L632.3 512.5 L632.5 512.4 L632.8 512.5 L633.0 512.5 L633.3 512.6 L633.5 512.7 L633.8 512.4 L634.0 512.6 L634.3 512.3 L634.5 512.4 L634.8 512.5 L635.0 512.3 L635.3 512.3 L635.5 512.6 L635.8 512.6 L636.0 512.6 L636.3 512.5 L636.5 512.9 L636.8 512.6 L637.0 512.5 L637.3 512.8 L637.5 512.7 L637.8 512.5 L638.0 512.7 L638.3 512.6 L638.5 512.7 L638.8 512.6 L639.0 512.4 L639.3 512.7 L639.5 512.6 L639.8 512.4 L640.0 512.5 L640.3 512.7 L640.5 512.5 L640.8 512.6 L641.0 512.7 L641.3 512.6 L641.5 512.4 L641.8 512.7 L642.0 512.7 L642.3 512.7 L642.5 512.8 L642.8 512.6 L643.0 512.7 L643.3 512.8 L643.5 512.5 L643.8 512.8 L644.0 512.8 L644.3 512.7 L644.5 512.8 L644.8 512.7 L645.0 512.5 L645.2 512.7 L645.5 512.6 L645.8 512.6 L646.0 512.6 L646.2 512.7 L646.5 512.6 L646.8 512.5 L647.0 512.6 L647.2 512.7 L647.5 512.5 L647.8 512.5 L648.0 512.5 L648.2 512.5 L648.5 512.6 L648.8 512.7 L649.0 512.8 L649.2 512.7 L649.5 512.7 L649.8 512.7 L650.0 512.7 L650.2 512.5 L650.5 512.7 L650.8 512.6 L651.0 512.5 L651.2 512.5 L651.5 512.5 L651.8 512.5 L652.0 512.4 L652.2 512.6 L652.5 512.6 L652.8 512.6 L653.0 512.6 L653.2 512.7 L653.5 512.5 L653.8 512.5 L654.0 512.3 L654.2 512.3 L654.5 512.3 L654.8 512.8 L655.0 512.3 L655.2 512.6 L655.5 512.7 L655.8 512.5 L656.0 512.8 L656.2 512.8 L656.5 512.7 L656.8 512.9 L657.0 512.6 L657.2 512.4 L657.5 512.6 L657.8 512.5 L658.0 512.4 L658.2 512.4 L658.5 512.8 L658.8 512.5 L659.0 512.5 L659.2 512.4 L659.5 512.5 L659.8 512.5 L660.0 512.5 L660.2 512.4 L660.5 512.3 L660.8 512.4 L661.0 512.6 L661.2 512.8 L661.5 512.6 L661.8 512.7 L662.0 512.6 L662.2 512.5 L662.5 512.3 L662.8 512.5 L663.0 512.2 L663.2 512.4 L663.5 512.7 L663.8 512.5 L664.0 512.6 L664.2 512.4 L664.5 512.3 L664.8 512.4 L665.0 512.4 L665.2 512.6 L665.5 512.7 L665.8 512.3 L666.0 512.4 L666.2 512.4 L666.5 512.4 L666.8 512.2 L667.0 512.4 L667.2 512.4 L667.5 512.4 L667.8 512.2 L668.0 512.4 L668.2 512.1 L668.5 512.5 L668.8 512.2 L669.0 512.3 L669.2 512.2 L669.5 512.2 L669.8 512.1 L670.0 512.0 L670.2 512.5 L670.5 512.2 L670.8 512.2 L671.0 512.4 L671.3 512.1 L671.5 512.2 L671.8 512.1 L672.0 512.2 L672.3 512.1 L672.5 512.0 L672.8 511.9 L673.0 511.9 L673.3 511.9 L673.5 511.4 L673.8 511.6 L674.0 511.4 L674.3 511.3 L674.5 511.0 L674.8 511.2 L675.0 510.8 L675.3 510.7 L675.5 510.4 L675.8 510.1 L676.0 510.0 L676.3 509.5 L676.5 509.3 L676.8 509.0 L677.0 508.7 L677.3 508.4 L677.5 508.0 L677.8 508.0 L678.0 507.5 L678.3 507.0 L678.5 506.8 L678.8 506.7 L679.0 506.7 L679.3 506.6 L679.5 506.7 L679.8 507.1 L680.0 507.1 L680.3 507.2 L680.5 507.5 L680.8 507.7 L681.0 508.2 L681.3 508.4 L681.5 508.7 L681.8 508.5 L682.0 509.2 L682.3 509.6 L682.5 510.0 L682.8 510.0 L683.0 510.0 L683.3 510.5 L683.5 510.6 L683.8 510.6 L684.0 510.9 L684.3 511.3 L684.5 511.4 L684.8 511.5 L685.0 511.4 L685.3 511.9 L685.5 511.5 L685.8 511.7 L686.0 511.6 L686.3 512.0 L686.5 512.0 L686.8 512.1 L687.0 512.0 L687.2 512.0 L687.5 512.1 L687.8 511.9 L688.0 512.3 L688.2 512.3 L688.5 512.1 L688.8 512.2 L689.0 512.2 L689.2 512.4 L689.5 512.3 L689.8 512.2 L690.0 512.2 L690.2 512.1 L690.5 512.2 L690.8 512.3 L691.0 512.3 L691.2 512.3 L691.5 512.4 L691.8 512.4 L692.0 512.3 L692.2 512.4 L692.5 512.3 L692.8 512.3 L693.0 512.4 L693.2 512.1 L693.5 512.5 L693.8 512.2 L694.0 512.4 L694.2 512.3 L694.5 512.5 L694.8 512.3 L695.0 512.2 L695.2 512.5 L695.5 512.3 L695.8 512.3 L696.0 512.3 L696.2 512.4 L696.5 512.4 L696.8 512.3 L697.0 512.1 L697.2 512.2 L697.5 512.3 L697.8 512.5 L698.0 512.3 L698.2 512.3 L698.5 512.4 L698.8 512.3 L699.0 512.3 L699.2 512.3 L699.5 512.0 L699.8 512.4 L700.0 512.3 L700.2 512.2 L700.5 512.1 L700.8 512.2 L701.0 512.4 L701.2 512.1 L701.5 512.0 L701.8 512.2 L702.0 511.9 L702.2 511.8 L702.5 512.0 L702.8 512.0 L703.0 512.0 L703.2 511.9 L703.5 512.0 L703.8 511.9 L704.0 511.9 L704.2 511.9 L704.5 512.0 L704.8 512.0 L705.0 511.9 L705.2 511.9 L705.5 511.3 L705.8 511.6 L706.0 511.6 L706.2 511.6 L706.5 511.3 L706.8 511.6 L707.0 511.4 L707.2 511.2 L707.5 511.2 L707.8 511.1 L708.0 510.9 L708.2 510.9 L708.5 510.7 L708.8 510.4 L709.0 510.3 L709.2 510.2 L709.5 509.8 L709.8 509.8 L710.0 509.2 L710.2 509.2 L710.5 508.7 L710.8 508.0 L711.0 507.7 L711.2 507.3 L711.5 506.5 L711.8 505.7 L712.0 505.1 L712.2 504.6 L712.5 503.3 L712.8 502.7 L713.0 501.7 L713.3 500.8 L713.5 499.9 L713.8 499.2 L714.0 498.6 L714.3 498.0 L714.5 497.4 L714.8 497.5 L715.0 497.1 L715.3 497.4 L715.5 497.7 L715.8 498.2 L716.0 498.5 L716.3 499.2 L716.5 499.7 L716.7 500.4 L717.0 501.0 L717.2 501.9 L717.5 502.3 L717.8 503.3 L718.0 503.9 L718.3 504.5 L718.5 505.1 L718.8 505.9 L719.0 506.3 L719.3 506.8 L719.5 507.6 L719.8 507.8 L720.0 508.6 L720.3 508.8 L720.5 509.2 L720.7 509.5 L721.0 509.9 L721.2 510.0 L721.5 510.2 L721.8 510.4 L722.0 510.8 L722.3 510.9 L722.5 511.1 L722.8 511.1 L723.0 511.1 L723.3 511.0 L723.5 511.4 L723.8 511.5 L724.0 511.4 L724.3 511.6 L724.5 511.7 L724.7 511.6 L725.0 511.8 L725.2 511.7 L725.5 511.5 L725.8 511.7 L726.0 511.8 L726.3 511.9 L726.5 511.7 L726.8 511.8 L727.0 511.8 L727.3 511.9 L727.5 512.0 L727.8 512.1 L728.0 512.1 L728.3 512.0 L728.5 512.0 L728.8 512.0 L729.0 512.0 L729.2 512.2 L729.5 511.7 L729.8 512.0 L730.0 512.1 L730.3 512.2 L730.5 511.9 L730.8 512.1 L731.0 512.1 L731.2 512.0 L731.5 511.8 L731.8 511.9 L732.0 511.8 L732.2 512.0 L732.5 511.8 L732.8 512.1 L733.0 511.9 L733.2 511.7 L733.5 511.7 L733.8 511.6 L734.0 511.7 L734.3 511.8 L734.5 511.5 L734.8 511.6 L735.0 511.2 L735.2 511.3 L735.5 511.4 L735.8 510.8 L736.0 511.0 L736.2 510.8 L736.5 510.2 L736.8 510.0 L737.0 509.9 L737.2 509.9 L737.5 509.4 L737.8 509.2 L738.0 509.0 L738.3 508.6 L738.5 508.3 L738.8 508.0 L739.0 507.9 L739.2 507.5 L739.5 507.6 L739.8 507.3 L740.0 507.2 L740.2 507.4 L740.5 507.4 L740.8 507.2 L741.0 507.6 L741.2 507.6 L741.5 507.9 L741.8 508.3 L742.0 508.3 L742.3 508.7 L742.5 508.8 L742.8 509.4 L743.0 509.3 L743.2 509.4 L743.5 509.7 L743.8 510.0 L744.0 510.3 L744.2 510.5 L744.5 510.8 L744.8 510.9 L745.0 511.1 L745.2 511.2 L745.5 511.3 L745.8 511.5 L746.0 511.7 L746.3 511.8 L746.5 511.7 L746.8 511.6 L747.0 511.8 L747.2 512.0 L747.5 511.7 L747.8 512.0 L748.0 512.2 L748.2 512.1 L748.5 512.0 L748.8 512.4 L749.0 512.4 L749.2 512.2 L749.5 512.5 L749.8 512.5 L750.0 512.2 L750.3 512.7 L750.5 512.2 L750.8 512.3 L751.0 512.2 L751.2 512.4 L751.5 512.2 L751.7 512.4 L752.0 512.6 L752.2 512.5 L752.5 512.4 L752.8 512.7 L753.0 512.4 L753.2 512.6 L753.5 512.4 L753.8 512.5 L754.0 512.5 L754.3 512.5 L754.5 512.5 L754.8 512.4 L755.0 512.4 L755.3 512.6 L755.5 512.5 L755.7 512.4 L756.0 512.5 L756.2 512.5 L756.5 512.5 L756.8 512.6 L757.0 512.6 L757.3 512.5 L757.5 512.6 L757.8 512.4 L758.0 512.2 L758.3 512.6 L758.5 512.4 L758.8 512.5 L759.0 512.4 L759.3 512.7 L759.5 512.4 L759.7 512.6 L760.0 512.5 L760.2 512.4 L760.5 512.4 L760.8 512.7 L761.0 512.7 L761.3 512.7 L761.5 512.8 L761.8 512.6 L762.0 512.6 L762.3 512.6 L762.5 512.6 L762.8 512.6 L763.0 512.5 L763.3 512.9 L763.5 512.4 L763.7 512.7 L764.0 512.7 L764.2 512.6 L764.5 512.5 L764.8 512.6 L765.0 512.6 L765.3 512.5 L765.5 512.6 L765.8 512.6 L766.0 512.6 L766.3 512.7 L766.5 512.5 L766.8 512.7 L767.0 512.6 L767.3 512.7 L767.5 512.6 L767.8 512.7 L768.0 512.5 L768.2 512.5 L768.5 512.5 L768.8 512.7 L769.0 512.7 L769.3 512.8 L769.5 512.6 L769.8 512.6 L770.0 512.4 L770.3 512.3 L770.5 512.5 L770.8 512.5 L771.0 512.4 L771.3 512.4 L771.5 512.7 L771.8 512.5 L772.0 512.4 L772.2 512.9 L772.5 512.7 L772.8 512.6 L773.0 512.7 L773.3 512.5 L773.5 512.8 L773.8 512.4 L774.0 512.5 L774.2 512.6 L774.5 512.5 L774.8 512.8 L775.0 512.4 L775.2 512.5 L775.5 512.6 L775.8 512.7 L776.0 512.7 L776.2 512.7 L776.5 512.9 L776.8 512.5 L777.0 512.6 L777.3 512.7 L777.5 512.6 L777.8 512.6 L778.0 512.5 L778.2 512.5 L778.5 512.4 L778.8 512.5 L779.0 512.4 L779.2 512.6 L779.5 512.4 L779.8 512.8 L780.0 512.8 L780.2 512.7 L780.5 512.5 L780.8 512.5 L781.0 512.7 L781.3 512.6 L781.5 512.6 L781.8 512.4 L782.0 512.7 L782.2 512.4 L782.5 512.5 L782.8 512.3 L783.0 512.4 L783.2 512.6 L783.5 512.4 L783.8 512.4 L784.0 512.6 L784.2 512.4 L784.5 512.6 L784.8 512.1 L785.0 512.5 L785.3 512.5 L785.5 512.2 L785.8 512.2 L786.0 512.5 L786.2 512.2 L786.5 512.2 L786.8 512.4 L787.0 512.2 L787.2 512.3 L787.5 512.1 L787.8 512.2 L788.0 512.3 L788.2 512.1 L788.5 511.7 L788.8 512.0 L789.0 511.9 L789.3 511.7 L789.5 511.9 L789.8 511.4 L790.0 511.7 L790.2 511.3 L790.5 511.4 L790.8 511.1 L791.0 510.7 L791.2 510.7 L791.5 510.5 L791.8 510.3 L792.0 510.2 L792.2 509.7 L792.5 509.6 L792.8 509.3 L793.0 508.9 L793.3 508.6 L793.5 508.3 L793.8 508.3 L794.0 508.1 L794.2 507.7 L794.5 507.5 L794.7 507.8 L795.0 507.4 L795.2 507.7 L795.5 507.6 L795.8 507.6 L796.0 508.0 L796.3 508.1 L796.5 508.5 L796.8 508.8 L797.0 508.6 L797.3 509.0 L797.5 509.2 L797.8 509.2 L798.0 509.4 L798.3 509.9 L798.5 509.9 L798.7 510.2 L799.0 510.3 L799.2 510.5 L799.5 510.7 L799.8 511.0 L800.0 511.2 L800.3 511.2 L800.5 511.2 L800.8 511.5 L801.0 511.4 L801.3 511.6 L801.5 511.9 L801.8 512.2 L802.0 512.0 L802.3 511.9 L802.5 512.2 L802.7 511.8 L803.0 512.1 L803.2 512.4 L803.5 512.3 L803.8 512.1 L804.0 512.1 L804.3 512.4 L804.5 512.3 L804.8 512.3 L805.0 512.4 L805.3 512.3 L805.5 512.2 L805.8 512.5 L806.0 512.3 L806.3 512.3 L806.5 512.3 L806.7 512.5 L807.0 512.4 L807.2 512.6 L807.5 512.5 L807.8 512.6 L808.0 512.5 L808.3 512.4 L808.5 512.3 L808.8 512.4 L809.0 512.6 L809.3 512.9 L809.5 512.4 L809.8 512.4 L810.0 512.6 L810.3 512.6 L810.5 512.5 L810.8 512.6 L811.0 512.4 L811.2 512.5 L811.5 512.7 L811.8 512.8 L812.0 512.5 L812.3 512.5 L812.5 512.6 L812.8 512.7 L813.0 512.6 L813.3 512.5 L813.5 512.6 L813.8 512.7 L814.0 512.5 L814.3 512.4 L814.5 512.6 L814.8 512.6 L815.0 512.7 L815.2 512.6 L815.5 512.5 L815.8 512.5 L816.0 512.5 L816.3 512.5 L816.5 512.5 L816.8 512.5 L817.0 512.7 L817.2 512.4 L817.5 512.6 L817.8 512.5 L818.0 512.8 L818.2 512.6 L818.5 512.5 L818.8 512.7 L819.0 512.6 L819.2 512.5 L819.5 512.8 L819.8 512.7 L820.0 512.8 L820.3 512.7 L820.5 512.7 L820.8 512.6 L821.0 512.4 L821.2 512.7 L821.5 512.6 L821.8 512.6 L822.0 512.6 L822.2 512.5 L822.5 512.4 L822.8 512.6 L823.0 512.7 L823.2 512.5 L823.5 512.6 L823.8 512.7 L824.0 512.4 L824.3 512.5 L824.5 512.4 L824.8 512.7 L825.0 512.5 L825.2 512.4 L825.5 512.3 L825.8 512.5 L826.0 512.6 L826.2 512.4 L826.5 512.4 L826.8 512.6 L827.0 512.3 L827.2 512.5 L827.5 512.5 L827.8 512.3 L828.0 512.3 L828.3 512.5 L828.5 512.4 L828.8 512.4 L829.0 512.4 L829.2 512.4 L829.5 512.3 L829.8 512.3 L830.0 512.4 L830.2 512.5 L830.5 512.5 L830.8 512.2 L831.0 512.5 L831.2 512.4 L831.5 512.3 L831.8 512.3 L832.0 512.4 L832.3 512.5 L832.5 512.1 L832.8 512.3 L833.0 512.2 L833.2 512.1 L833.5 512.3 L833.8 512.2 L834.0 512.0 L834.2 512.0 L834.5 512.1 L834.8 511.8 L835.0 512.1 L835.2 511.9 L835.5 511.9 L835.8 511.9 L836.0 512.1 L836.3 511.8 L836.5 511.7 L836.8 511.9 L837.0 511.6 L837.3 511.5 L837.5 511.3 L837.7 511.6 L838.0 511.4 L838.2 511.4 L838.5 511.2 L838.8 511.1 L839.0 510.9 L839.3 510.7 L839.5 510.7 L839.8 510.5 L840.0 510.5 L840.3 510.0 L840.5 509.8 L840.8 509.4 L841.0 509.4 L841.3 508.7 L841.5 508.6 L841.7 508.2 L842.0 507.5 L842.2 507.1 L842.5 506.2 L842.8 505.8 L843.0 504.9 L843.3 504.4 L843.5 503.6 L843.8 502.7 L844.0 502.1 L844.3 501.2 L844.5 500.2 L844.8 499.4 L845.0 498.5 L845.3 497.9 L845.5 497.5 L845.7 496.6 L846.0 496.3 L846.2 495.9 L846.5 496.0 L846.8 496.0 L847.0 496.0 L847.3 496.1 L847.5 496.6 L847.8 497.3 L848.0 497.6 L848.3 498.3 L848.5 498.8 L848.8 499.2 L849.0 500.2 L849.3 500.8 L849.5 501.4 L849.8 502.1 L850.0 502.8 L850.2 503.4 L850.5 504.2 L850.8 504.8 L851.0 505.1 L851.3 506.0 L851.5 506.5 L851.8 507.0 L852.0 507.6 L852.3 507.9 L852.5 508.5 L852.8 508.9 L853.0 509.1 L853.3 509.2 L853.5 509.6 L853.8 510.0 L854.0 510.1 L854.2 510.2 L854.5 510.5 L854.8 510.7 L855.0 510.8 L855.3 511.0 L855.5 510.9 L855.8 511.0 L856.0 511.1 L856.3 511.2 L856.5 511.0 L856.8 511.3 L857.0 511.2 L857.3 511.6 L857.5 511.7 L857.8 511.7 L858.0 511.7 L858.2 511.5 L858.5 511.7 L858.8 511.6 L859.0 511.7 L859.3 511.5 L859.5 511.6 L859.8 511.7 L860.0 511.9 L860.2 511.6 L860.5 511.9 L860.8 512.0 L861.0 511.4 L861.2 511.6 L861.5 511.4 L861.8 511.5 L862.0 511.4 L862.2 511.4 L862.5 511.5 L862.8 511.4 L863.0 511.2 L863.3 511.1 L863.5 511.0 L863.8 510.9 L864.0 510.8 L864.2 510.6 L864.5 510.5 L864.8 510.2 L865.0 510.3 L865.2 510.2 L865.5 509.8 L865.8 509.4 L866.0 509.6 L866.2 509.2 L866.5 508.7 L866.8 508.9 L867.0 508.8 L867.3 508.7 L867.5 508.7 L867.8 508.5 L868.0 508.4 L868.2 508.1 L868.5 508.3 L868.8 508.5 L869.0 508.6 L869.2 508.5 L869.5 508.6 L869.8 508.9 L870.0 508.7 L870.2 508.8 L870.5 509.1 L870.8 509.3 L871.0 509.3 L871.3 509.2 L871.5 509.6 L871.8 509.5 L872.0 509.9 L872.2 509.9 L872.5 510.0 L872.8 510.1 L873.0 510.1 L873.2 510.3 L873.5 510.3 L873.8 510.2 L874.0 510.3 L874.2 510.0 L874.5 510.2 L874.8 510.0 L875.0 509.7 L875.3 509.7 L875.5 509.4 L875.8 509.2 L876.0 509.1 L876.2 508.9 L876.5 508.4 L876.8 508.2 L877.0 507.6 L877.2 507.4 L877.5 507.1 L877.8 506.6 L878.0 506.0 L878.3 505.4 L878.5 504.8 L878.8 504.4 L879.0 503.7 L879.3 503.2 L879.5 503.0 L879.8 502.3 L880.0 502.3 L880.3 501.6 L880.5 501.6 L880.7 501.3 L881.0 501.4 L881.2 501.3 L881.5 501.6 L881.8 501.8 L882.0 502.0 L882.3 502.4 L882.5 502.9 L882.8 503.0 L883.0 503.6 L883.3 503.9 L883.5 504.3 L883.8 505.0 L884.0 504.8 L884.3 505.5 L884.5 505.8 L884.7 506.4 L885.0 506.8 L885.2 507.8 L885.5 507.7 L885.8 508.3 L886.0 508.6 L886.3 508.7 L886.5 509.1 L886.8 509.5 L887.0 509.6 L887.3 509.8 L887.5 510.1 L887.8 510.0 L888.0 510.3 L888.3 510.6 L888.5 510.8 L888.7 510.7 L889.0 510.9 L889.2 511.0 L889.5 511.1 L889.8 511.3 L890.0 511.3 L890.3 511.3 L890.5 511.2 L890.8 511.3 L891.0 511.5 L891.3 511.3 L891.5 511.5 L891.8 511.4 L892.0 511.4 L892.3 511.6 L892.5 511.4 L892.8 511.4 L893.0 511.4 L893.2 511.5 L893.5 511.9 L893.8 511.2 L894.0 511.5 L894.3 511.4 L894.5 511.5 L894.8 511.3 L895.0 511.0 L895.3 511.5 L895.5 511.1 L895.8 511.2 L896.0 510.9 L896.3 510.9 L896.5 510.8 L896.8 510.9 L897.0 510.8 L897.2 510.4 L897.5 510.4 L897.8 510.1 L898.0 509.9 L898.3 509.7 L898.5 509.5 L898.8 509.0 L899.0 508.7 L899.3 508.4 L899.5 508.0 L899.8 507.4 L900.0 507.2 L900.3 506.4 L900.5 506.0 L900.8 505.3 L901.0 504.8 L901.2 503.7 L901.5 503.6 L901.8 502.6 L902.0 501.7 L902.3 501.2 L902.5 500.8 L902.8 500.0 L903.0 499.2 L903.2 498.8 L903.5 498.6 L903.8 498.0 L904.0 498.0 L904.2 497.9 L904.5 498.3 L904.8 498.1 L905.0 498.6 L905.2 498.7 L905.5 499.0 L905.8 499.7 L906.0 500.1 L906.3 500.3 L906.5 501.2 L906.8 501.7 L907.0 502.1 L907.2 502.8 L907.5 503.3 L907.8 503.8 L908.0 504.4 L908.2 504.9 L908.5 505.5 L908.8 505.9 L909.0 506.6 L909.2 506.9 L909.5 507.6 L909.8 508.0 L910.0 508.3 L910.3 508.9 L910.5 509.4 L910.8 509.6 L911.0 509.5 L911.2 510.1 L911.5 510.2 L911.8 510.4 L912.0 510.5 L912.2 510.8 L912.5 511.1 L912.8 511.2 L913.0 511.2 L913.2 511.2 L913.5 511.4 L913.8 511.6 L914.0 511.9 L914.3 511.6 L914.5 511.8 L914.8 511.8 L915.0 511.8 L915.2 512.0 L915.5 512.0 L915.8 511.8 L916.0 511.9 L916.2 512.2 L916.5 512.2 L916.8 512.2 L917.0 512.1 L917.2 512.2 L917.5 512.3 L917.8 512.2 L918.0 512.1 L918.3 512.3 L918.5 512.4 L918.8 512.2 L919.0 512.5 L919.3 512.5 L919.5 512.3 L919.8 512.4 L920.0 512.4 L920.2 512.5 L920.5 512.6 L920.8 512.3 L921.0 512.3 L921.3 512.6 L921.5 512.5 L921.8 512.6 L922.0 512.6 L922.3 512.7 L922.5 512.4 L922.8 512.7 L923.0 512.5 L923.3 512.7 L923.5 512.8 L923.7 512.4 L924.0 512.7 L924.2 512.6 L924.5 512.6 L924.8 512.6 L925.0 512.5 L925.3 512.5 L925.5 512.7 L925.8 512.8 L926.0 512.6 L926.3 512.5 L926.5 513.0 L926.8 512.8 L927.0 512.7 L927.3 512.6 L927.5 512.6 L927.7 512.7 L928.0 512.6 L928.2 512.9 L928.5 512.7 L928.8 512.8 L929.0 512.6 L929.3 512.6 L929.5 512.6 L929.8 512.8 L930.0 512.7 L930.3 512.7 L930.5 512.8 L930.8 512.8 L931.0 513.0 L931.3 512.7 L931.5 512.6 L931.7 512.8 L932.0 513.0 L932.2 512.7 L932.5 512.8 L932.8 512.7 L933.0 512.8 L933.3 512.8 L933.5 512.7 L933.8 512.8 L934.0 512.9 L934.3 512.9 L934.5 512.9 L934.8 512.9 L935.0 512.8 L935.3 512.8 L935.5 512.9 L935.8 512.7 L936.0 512.8 L936.2 512.6 L936.5 512.8 L936.8 512.7 L937.0 512.7 L937.3 512.9 L937.5 512.7 L937.8 512.8 L938.0 512.8 L938.3 512.7 L938.5 513.0 L938.8 512.8 L939.0 512.9 L939.3 512.7 L939.5 512.8 L939.8 512.8 L940.0 512.8 L940.2 512.8 L940.5 512.9 L940.8 513.1 L941.0 512.8 L941.3 512.8 L941.5 512.8 L941.8 513.2 L942.0 513.1 L942.3 512.9 L942.5 513.0 L942.8 512.8 L943.0 512.9 L943.2 512.9 L943.5 512.9 L943.8 512.8 L944.0 512.8 L944.2 512.9 L944.5 512.9 L944.8 512.6 L945.0 512.9 L945.3 513.1 L945.5 512.8 L945.8 512.9 L946.0 512.7" fill="none" stroke="#dc4448" stroke-width="2.4" stroke-linejoin="round"/><path d="M79.0 397.3 L79.2 397.0 L79.5 397.0 L79.7 397.1 L80.0 397.5 L80.2 397.1 L80.5 397.0 L80.7 397.2 L81.0 397.2 L81.2 397.4 L81.5 397.0 L81.7 397.0 L82.0 397.1 L82.2 397.2 L82.5 397.2 L82.7 397.3 L83.0 397.0 L83.2 397.1 L83.5 397.2 L83.7 397.3 L84.0 397.2 L84.2 397.1 L84.5 397.0 L84.7 397.3 L85.0 397.3 L85.2 397.5 L85.5 397.2 L85.7 397.4 L86.0 397.0 L86.2 397.1 L86.5 397.1 L86.8 397.1 L87.0 397.1 L87.2 397.1 L87.5 397.2 L87.8 397.1 L88.0 397.3 L88.2 397.2 L88.5 397.2 L88.8 397.4 L89.0 397.2 L89.2 397.2 L89.5 397.2 L89.8 397.2 L90.0 397.3 L90.2 397.1 L90.5 397.3 L90.8 397.4 L91.0 397.3 L91.2 397.1 L91.5 397.0 L91.8 397.1 L92.0 397.2 L92.2 397.3 L92.5 397.2 L92.8 397.1 L93.0 397.4 L93.3 397.1 L93.5 397.3 L93.8 397.3 L94.0 397.0 L94.3 397.2 L94.5 397.1 L94.8 397.1 L95.0 396.9 L95.3 397.0 L95.5 397.2 L95.8 397.1 L96.0 397.2 L96.3 397.0 L96.5 397.1 L96.8 397.1 L97.0 397.0 L97.3 397.0 L97.5 397.2 L97.8 397.2 L98.0 397.1 L98.3 397.2 L98.5 397.3 L98.8 397.4 L99.0 397.1 L99.3 397.3 L99.5 397.4 L99.8 397.2 L100.0 397.4 L100.2 396.8 L100.5 397.4 L100.8 397.2 L101.0 396.9 L101.2 397.3 L101.5 397.3 L101.7 397.3 L102.0 397.3 L102.2 397.2 L102.5 397.1 L102.7 397.1 L103.0 397.2 L103.2 397.2 L103.5 397.1 L103.7 397.2 L104.0 397.3 L104.2 397.2 L104.5 397.5 L104.7 397.4 L105.0 397.0 L105.2 397.1 L105.5 397.0 L105.7 397.0 L106.0 397.2 L106.2 397.0 L106.5 397.0 L106.8 397.1 L107.0 397.3 L107.2 397.1 L107.5 397.1 L107.8 397.3 L108.0 397.2 L108.2 397.2 L108.5 397.3 L108.8 397.0 L109.0 397.2 L109.2 397.1 L109.5 397.3 L109.8 397.3 L110.0 397.0 L110.2 397.3 L110.5 397.0 L110.8 397.3 L111.0 397.2 L111.2 397.1 L111.5 397.0 L111.8 397.1 L112.0 397.2 L112.2 397.1 L112.5 397.2 L112.8 397.0 L113.0 397.2 L113.2 397.2 L113.5 396.9 L113.8 397.2 L114.0 397.0 L114.2 396.9 L114.5 397.1 L114.8 397.1 L115.0 397.3 L115.3 397.1 L115.5 397.4 L115.8 397.4 L116.0 397.3 L116.3 397.3 L116.5 397.2 L116.8 397.1 L117.0 397.3 L117.3 397.3 L117.5 397.2 L117.8 397.1 L118.0 397.0 L118.3 397.3 L118.5 397.2 L118.8 397.0 L119.0 397.2 L119.3 397.3 L119.5 397.2 L119.8 397.3 L120.0 397.3 L120.3 397.0 L120.5 397.1 L120.7 397.2 L121.0 397.3 L121.3 397.4 L121.5 396.9 L121.7 397.2 L122.0 397.3 L122.3 397.3 L122.5 397.4 L122.7 397.1 L123.0 397.1 L123.2 397.0 L123.5 397.3 L123.7 397.0 L124.0 397.3 L124.2 397.3 L124.5 397.2 L124.7 396.9 L125.0 397.1 L125.2 397.3 L125.5 397.0 L125.7 397.1 L126.0 397.2 L126.2 397.3 L126.5 397.2 L126.8 397.2 L127.0 397.1 L127.2 397.2 L127.5 397.2 L127.8 397.3 L128.0 397.1 L128.2 397.3 L128.5 397.0 L128.8 397.3 L129.0 397.1 L129.2 397.3 L129.5 397.2 L129.8 397.3 L130.0 397.4 L130.2 397.1 L130.5 397.2 L130.8 397.1 L131.0 397.2 L131.2 397.0 L131.5 397.1 L131.8 397.1 L132.0 397.1 L132.2 397.1 L132.5 397.0 L132.8 397.3 L133.0 397.2 L133.2 397.4 L133.5 397.1 L133.8 397.0 L134.0 397.2 L134.2 397.0 L134.5 397.2 L134.8 397.1 L135.0 397.1 L135.2 397.2 L135.5 397.2 L135.8 397.4 L136.0 397.2 L136.2 397.0 L136.5 397.3 L136.8 397.0 L137.0 397.2 L137.2 397.0 L137.5 397.1 L137.8 397.3 L138.0 397.1 L138.3 397.1 L138.5 397.1 L138.8 397.1 L139.0 397.3 L139.3 397.0 L139.5 397.0 L139.8 397.2 L140.0 397.0 L140.3 397.1 L140.5 397.3 L140.8 397.2 L141.0 397.1 L141.2 397.1 L141.5 397.0 L141.8 397.1 L142.0 397.2 L142.2 397.3 L142.5 397.3 L142.8 397.1 L143.0 397.1 L143.2 397.3 L143.5 396.9 L143.8 397.1 L144.0 397.1 L144.2 397.0 L144.5 397.0 L144.8 397.2 L145.0 396.9 L145.2 397.0 L145.5 397.1 L145.8 397.2 L146.0 397.0 L146.2 397.3 L146.5 397.1 L146.8 397.1 L147.0 397.1 L147.2 397.1 L147.5 397.0 L147.8 397.3 L148.0 397.2 L148.2 397.1 L148.5 397.3 L148.8 397.1 L149.0 397.2 L149.2 397.2 L149.5 397.0 L149.8 397.3 L150.0 397.0 L150.2 397.2 L150.5 397.0 L150.8 397.2 L151.0 397.3 L151.2 397.2 L151.5 397.1 L151.8 397.2 L152.0 397.1 L152.2 397.0 L152.5 397.0 L152.8 397.2 L153.0 397.2 L153.2 396.9 L153.5 397.1 L153.8 397.2 L154.0 397.2 L154.2 397.0 L154.5 397.3 L154.8 397.0 L155.0 397.2 L155.2 397.4 L155.5 396.9 L155.8 397.2 L156.0 397.2 L156.2 397.2 L156.5 397.1 L156.8 397.1 L157.0 397.0 L157.2 397.2 L157.5 397.2 L157.8 397.1 L158.0 397.0 L158.2 397.1 L158.5 397.2 L158.8 397.2 L159.0 397.1 L159.2 397.2 L159.5 397.0 L159.8 396.8 L160.0 397.2 L160.2 397.3 L160.5 397.0 L160.8 397.1 L161.0 397.2 L161.3 397.3 L161.5 397.3 L161.7 397.3 L162.0 397.2 L162.3 397.2 L162.5 397.2 L162.7 397.1 L163.0 397.3 L163.3 397.3 L163.5 397.3 L163.8 397.1 L164.0 397.3 L164.3 397.1 L164.5 397.2 L164.8 396.9 L165.0 397.1 L165.3 397.3 L165.5 397.1 L165.8 397.2 L166.0 397.0 L166.3 397.4 L166.5 397.3 L166.8 397.2 L167.0 397.3 L167.2 397.2 L167.5 397.4 L167.8 397.2 L168.0 397.0 L168.2 397.2 L168.5 397.4 L168.8 397.3 L169.0 397.2 L169.2 397.3 L169.5 397.2 L169.8 397.3 L170.0 397.0 L170.2 397.1 L170.5 397.3 L170.8 397.2 L171.0 397.3 L171.2 397.5 L171.5 397.2 L171.8 397.3 L172.0 397.2 L172.2 397.2 L172.5 397.2 L172.8 397.1 L173.0 397.0 L173.2 397.4 L173.5 397.2 L173.8 397.4 L174.0 397.3 L174.2 397.3 L174.5 397.3 L174.8 397.3 L175.0 397.1 L175.2 397.4 L175.5 397.1 L175.8 397.3 L176.0 397.6 L176.2 397.3 L176.5 397.5 L176.8 397.2 L177.0 397.3 L177.2 397.3 L177.5 397.3 L177.8 397.2 L178.0 397.2 L178.2 397.3 L178.5 397.1 L178.8 397.2 L179.0 397.4 L179.2 397.2 L179.5 397.2 L179.8 397.1 L180.0 397.3 L180.2 397.2 L180.5 397.3 L180.8 397.3 L181.0 397.5 L181.3 397.2 L181.5 397.0 L181.8 397.3 L182.0 397.3 L182.3 397.3 L182.5 397.1 L182.8 397.4 L183.0 397.3 L183.2 397.3 L183.5 397.1 L183.8 397.4 L184.0 397.3 L184.2 397.5 L184.5 397.3 L184.8 397.1 L185.0 397.3 L185.2 397.2 L185.5 397.4 L185.8 397.2 L186.0 397.3 L186.2 397.3 L186.5 397.3 L186.8 397.2 L187.0 397.2 L187.2 397.3 L187.5 397.2 L187.8 397.3 L188.0 397.3 L188.2 397.0 L188.5 397.3 L188.8 397.5 L189.0 397.4 L189.2 397.4 L189.5 397.4 L189.8 397.3 L190.0 397.2 L190.2 397.4 L190.5 397.5 L190.8 397.4 L191.0 397.4 L191.2 397.4 L191.5 397.3 L191.8 397.4 L192.0 397.3 L192.2 397.4 L192.5 397.2 L192.8 397.3 L193.0 397.4 L193.2 397.3 L193.5 397.0 L193.8 397.4 L194.0 397.1 L194.2 397.6 L194.5 397.4 L194.8 397.4 L195.0 397.3 L195.2 397.2 L195.5 397.3 L195.8 397.4 L196.0 397.3 L196.2 397.4 L196.5 397.4 L196.8 397.4 L197.0 397.2 L197.2 397.1 L197.5 397.4 L197.8 397.3 L198.0 397.4 L198.2 397.6 L198.5 397.6 L198.8 397.4 L199.0 397.5 L199.2 397.6 L199.5 397.4 L199.8 397.4 L200.0 397.5 L200.2 397.4 L200.5 397.3 L200.8 397.3 L201.0 397.4 L201.2 397.3 L201.5 397.5 L201.7 397.3 L202.0 397.6 L202.3 397.5 L202.5 397.2 L202.7 397.5 L203.0 397.3 L203.3 397.6 L203.5 397.5 L203.7 397.4 L204.0 397.5 L204.3 397.3 L204.5 397.4 L204.8 397.4 L205.0 397.4 L205.3 397.4 L205.5 397.3 L205.8 397.5 L206.0 397.2 L206.3 397.5 L206.5 397.5 L206.8 397.5 L207.0 397.3 L207.3 397.8 L207.5 397.4 L207.7 397.4 L208.0 397.3 L208.3 397.6 L208.5 397.3 L208.7 397.5 L209.0 397.3 L209.3 397.4 L209.5 397.4 L209.7 397.5 L210.0 397.4 L210.3 397.3 L210.5 397.5 L210.8 397.3 L211.0 397.3 L211.3 397.5 L211.5 397.2 L211.8 397.5 L212.0 397.4 L212.3 397.3 L212.5 397.4 L212.8 397.5 L213.0 397.3 L213.2 397.4 L213.5 397.5 L213.8 397.5 L214.0 397.4 L214.2 397.3 L214.5 397.3 L214.8 397.3 L215.0 397.5 L215.2 397.5 L215.5 397.4 L215.8 397.6 L216.0 397.4 L216.2 397.4 L216.5 397.4 L216.8 397.6 L217.0 397.1 L217.2 397.4 L217.5 397.5 L217.8 397.4 L218.0 397.7 L218.2 397.5 L218.5 397.5 L218.8 397.3 L219.0 397.5 L219.2 397.3 L219.5 397.4 L219.8 397.4 L220.0 397.3 L220.3 397.5 L220.5 397.6 L220.8 397.5 L221.0 397.4 L221.3 397.1 L221.5 397.5 L221.8 397.5 L222.0 397.3 L222.3 397.3 L222.5 397.4 L222.8 397.3 L223.0 397.5 L223.2 397.2 L223.5 397.2 L223.8 397.4 L224.0 397.2 L224.2 397.3 L224.5 397.4 L224.8 397.2 L225.0 397.4 L225.2 397.3 L225.5 397.4 L225.8 397.3 L226.0 397.3 L226.2 397.2 L226.5 397.1 L226.8 397.2 L227.0 397.2 L227.2 397.5 L227.5 397.4 L227.8 397.1 L228.0 397.4 L228.2 397.3 L228.5 397.2 L228.8 397.3 L229.0 397.3 L229.2 397.1 L229.5 397.2 L229.8 397.2 L230.0 397.1 L230.2 397.2 L230.5 397.1 L230.8 397.1 L231.0 397.0 L231.2 397.1 L231.5 397.2 L231.8 397.1 L232.0 397.0 L232.2 397.1 L232.5 397.0 L232.8 397.1 L233.0 397.1 L233.2 396.8 L233.5 396.9 L233.8 396.8 L234.0 396.7 L234.2 397.1 L234.5 396.9 L234.8 396.5 L235.0 396.8 L235.2 396.6 L235.5 396.8 L235.8 396.6 L236.0 396.5 L236.2 396.5 L236.5 396.4 L236.8 396.3 L237.0 396.2 L237.2 396.1 L237.5 396.1 L237.8 395.8 L238.0 395.8 L238.2 395.7 L238.5 395.5 L238.8 395.5 L239.0 395.1 L239.2 395.0 L239.5 394.7 L239.8 394.7 L240.0 394.3 L240.3 394.0 L240.5 393.7 L240.8 393.0 L241.0 392.8 L241.3 392.1 L241.5 391.5 L241.8 390.7 L242.0 389.8 L242.3 388.6 L242.5 387.3 L242.8 385.3 L243.0 383.0 L243.3 380.2 L243.5 377.0 L243.8 373.0 L244.0 368.1 L244.3 362.7 L244.5 357.5 L244.7 353.0 L245.0 350.2 L245.3 349.7 L245.5 351.1 L245.7 354.4 L246.0 358.4 L246.3 362.5 L246.5 366.5 L246.7 371.1 L247.0 374.9 L247.3 378.9 L247.5 381.6 L247.7 383.9 L248.0 386.2 L248.3 387.6 L248.5 389.1 L248.8 390.2 L249.0 390.9 L249.3 391.9 L249.5 392.3 L249.8 393.2 L250.0 393.5 L250.3 393.7 L250.5 394.0 L250.8 394.7 L251.0 394.9 L251.3 394.8 L251.5 395.4 L251.8 395.4 L252.0 395.5 L252.3 395.7 L252.5 395.8 L252.8 396.1 L253.0 396.1 L253.3 395.9 L253.5 396.5 L253.8 396.4 L254.0 396.3 L254.3 396.4 L254.5 396.4 L254.8 396.6 L255.0 396.7 L255.3 396.7 L255.5 396.7 L255.8 396.7 L256.0 396.9 L256.2 396.8 L256.5 397.2 L256.8 396.8 L257.0 397.0 L257.3 397.0 L257.5 396.9 L257.8 397.2 L258.0 397.1 L258.2 397.0 L258.5 397.1 L258.8 397.2 L259.0 397.0 L259.3 397.3 L259.5 397.3 L259.8 397.2 L260.0 397.4 L260.2 397.4 L260.5 397.3 L260.8 397.3 L261.0 397.5 L261.3 397.4 L261.5 397.2 L261.8 397.3 L262.0 397.3 L262.2 397.3 L262.5 397.1 L262.8 397.4 L263.0 397.3 L263.3 397.3 L263.5 397.5 L263.8 397.3 L264.0 397.3 L264.2 397.4 L264.5 397.3 L264.8 397.3 L265.0 397.5 L265.3 397.4 L265.5 397.5 L265.8 397.3 L266.0 397.4 L266.2 397.2 L266.5 397.4 L266.8 397.3 L267.0 397.6 L267.2 397.5 L267.5 397.4 L267.8 397.6 L268.0 397.6 L268.2 397.5 L268.5 397.3 L268.8 397.2 L269.0 397.4 L269.2 397.3 L269.5 397.3 L269.8 397.3 L270.0 397.2 L270.2 397.6 L270.5 397.2 L270.8 397.3 L271.0 397.4 L271.2 397.2 L271.5 397.5 L271.8 397.5 L272.0 397.3 L272.2 397.2 L272.5 397.3 L272.8 397.1 L273.0 397.5 L273.2 397.3 L273.5 397.2 L273.8 397.2 L274.0 397.3 L274.2 397.5 L274.5 397.1 L274.8 397.2 L275.0 397.0 L275.2 397.3 L275.5 397.2 L275.8 397.5 L276.0 397.1 L276.2 397.1 L276.5 397.0 L276.8 397.2 L277.0 396.9 L277.2 397.1 L277.5 397.1 L277.8 396.9 L278.0 396.8 L278.2 397.1 L278.5 397.1 L278.8 396.8 L279.0 396.9 L279.2 397.0 L279.5 396.6 L279.8 396.6 L280.0 396.4 L280.2 396.5 L280.5 396.4 L280.8 396.3 L281.0 396.1 L281.2 395.9 L281.5 395.8 L281.8 395.7 L282.0 395.7 L282.2 395.4 L282.5 395.1 L282.8 395.0 L283.0 394.7 L283.2 394.1 L283.5 393.6 L283.8 393.2 L284.0 392.5 L284.2 391.5 L284.5 390.6 L284.8 389.3 L285.0 388.0 L285.2 386.1 L285.5 384.5 L285.8 382.6 L286.0 380.9 L286.2 380.1 L286.5 379.7 L286.8 379.7 L287.0 380.9 L287.2 381.7 L287.5 383.1 L287.8 384.6 L288.0 386.2 L288.2 387.6 L288.5 388.8 L288.8 390.2 L289.0 391.0 L289.2 392.0 L289.5 392.9 L289.8 393.1 L290.0 393.2 L290.2 393.9 L290.5 394.1 L290.8 394.5 L291.0 394.7 L291.2 394.7 L291.5 394.8 L291.8 395.0 L292.0 395.1 L292.2 394.9 L292.5 395.4 L292.8 395.3 L293.0 395.3 L293.2 395.3 L293.5 395.1 L293.8 395.2 L294.0 395.3 L294.3 395.3 L294.5 395.2 L294.8 395.0 L295.0 394.9 L295.3 395.1 L295.5 394.9 L295.8 394.6 L296.0 394.3 L296.3 394.3 L296.5 394.0 L296.8 394.2 L297.0 393.9 L297.3 393.6 L297.5 393.4 L297.8 393.5 L298.0 393.0 L298.3 392.3 L298.5 392.1 L298.8 391.6 L299.0 391.0 L299.2 390.7 L299.5 390.4 L299.8 389.6 L300.0 388.6 L300.3 387.7 L300.5 386.7 L300.8 385.6 L301.0 383.8 L301.2 382.0 L301.5 380.4 L301.8 377.7 L302.0 374.8 L302.3 371.0 L302.5 366.6 L302.8 361.0 L303.0 354.7 L303.2 347.3 L303.5 338.5 L303.8 328.8 L304.0 319.1 L304.3 309.9 L304.5 303.0 L304.8 299.7 L305.0 300.1 L305.2 303.5 L305.5 308.8 L305.8 315.9 L306.0 323.4 L306.3 331.2 L306.5 339.0 L306.8 347.1 L307.0 354.2 L307.2 360.4 L307.5 365.4 L307.8 370.0 L308.0 374.1 L308.3 377.2 L308.5 379.8 L308.8 381.9 L309.0 383.8 L309.2 385.2 L309.5 386.6 L309.8 387.6 L310.0 388.7 L310.3 389.4 L310.5 390.3 L310.8 390.9 L311.0 391.3 L311.2 392.1 L311.5 392.2 L311.8 392.8 L312.0 393.2 L312.3 393.6 L312.5 393.4 L312.8 394.1 L313.0 394.3 L313.2 394.6 L313.5 394.3 L313.8 394.7 L314.0 394.9 L314.2 395.0 L314.5 395.4 L314.7 395.3 L315.0 395.7 L315.2 395.7 L315.5 395.5 L315.8 395.7 L316.0 395.8 L316.2 396.0 L316.5 396.2 L316.7 396.1 L317.0 396.3 L317.2 396.1 L317.5 395.9 L317.8 396.4 L318.0 396.5 L318.2 396.5 L318.5 396.4 L318.7 396.6 L319.0 396.9 L319.2 396.7 L319.5 396.6 L319.8 396.6 L320.0 397.0 L320.2 396.8 L320.5 396.9 L320.8 397.0 L321.0 397.0 L321.2 396.8 L321.5 397.1 L321.8 397.1 L322.0 397.0 L322.2 397.1 L322.5 396.9 L322.8 397.0 L323.0 397.0 L323.2 397.1 L323.5 397.0 L323.8 397.1 L324.0 396.9 L324.2 397.1 L324.5 397.0 L324.8 397.1 L325.0 397.1 L325.2 397.1 L325.5 397.1 L325.8 396.8 L326.0 397.2 L326.2 397.0 L326.5 397.1 L326.8 397.0 L327.0 397.2 L327.2 396.9 L327.5 397.1 L327.8 397.2 L328.0 397.2 L328.2 397.2 L328.5 397.1 L328.8 396.8 L329.0 397.1 L329.2 397.1 L329.5 397.0 L329.8 397.0 L330.0 396.8 L330.2 396.7 L330.5 396.9 L330.8 396.9 L331.0 396.5 L331.2 396.7 L331.5 396.5 L331.8 396.6 L332.0 396.4 L332.2 396.4 L332.5 396.3 L332.8 396.2 L333.0 395.7 L333.2 395.9 L333.5 395.6 L333.8 395.3 L334.0 395.3 L334.2 394.8 L334.5 394.8 L334.8 394.5 L335.0 393.8 L335.3 393.5 L335.5 392.9 L335.8 392.2 L336.0 391.0 L336.2 390.3 L336.5 389.0 L336.8 387.6 L337.0 385.9 L337.3 384.1 L337.5 382.0 L337.8 379.9 L338.0 378.1 L338.2 376.4 L338.5 375.7 L338.8 375.4 L339.0 376.0 L339.3 376.9 L339.5 378.4 L339.8 380.0 L340.0 381.5 L340.2 383.3 L340.5 384.9 L340.8 386.3 L341.0 387.9 L341.3 389.3 L341.5 390.2 L341.8 391.0 L342.0 392.0 L342.2 392.6 L342.5 393.4 L342.8 393.6 L343.0 394.0 L343.3 394.3 L343.5 394.6 L343.8 394.7 L344.0 394.9 L344.2 395.1 L344.5 395.2 L344.8 395.6 L345.0 395.3 L345.3 395.5 L345.5 395.5 L345.8 395.5 L346.0 395.9 L346.2 395.4 L346.5 395.9 L346.8 395.5 L347.0 395.7 L347.3 396.0 L347.5 395.4 L347.8 395.5 L348.0 395.8 L348.2 395.6 L348.5 395.5 L348.8 395.5 L349.0 395.3 L349.3 395.3 L349.5 395.4 L349.8 395.1 L350.0 395.0 L350.2 395.0 L350.5 395.0 L350.8 394.5 L351.0 394.4 L351.3 394.1 L351.5 393.9 L351.8 393.7 L352.0 393.4 L352.2 393.0 L352.5 392.6 L352.8 392.4 L353.0 392.2 L353.3 391.8 L353.5 391.1 L353.8 390.6 L354.0 390.1 L354.2 389.3 L354.5 388.4 L354.8 387.4 L355.0 386.5 L355.3 384.9 L355.5 383.3 L355.8 381.3 L356.0 379.3 L356.2 376.6 L356.5 373.7 L356.8 369.5 L357.0 365.2 L357.2 359.8 L357.5 353.8 L357.7 346.3 L358.0 339.0 L358.2 330.6 L358.5 322.7 L358.8 315.7 L359.0 310.8 L359.2 308.5 L359.5 308.7 L359.7 311.9 L360.0 316.4 L360.2 321.8 L360.5 328.0 L360.8 334.8 L361.0 341.2 L361.2 347.7 L361.5 354.2 L361.7 359.6 L362.0 364.8 L362.2 369.2 L362.5 373.1 L362.8 376.4 L363.0 379.1 L363.2 381.3 L363.5 383.3 L363.7 385.0 L364.0 386.3 L364.2 387.5 L364.5 388.5 L364.8 389.3 L365.0 390.2 L365.2 390.7 L365.5 391.5 L365.7 392.0 L366.0 392.3 L366.2 392.8 L366.5 393.2 L366.8 393.6 L367.0 393.9 L367.2 394.2 L367.5 394.3 L367.8 394.9 L368.0 395.0 L368.2 395.1 L368.5 395.4 L368.8 395.5 L369.0 395.6 L369.2 395.7 L369.5 396.2 L369.8 396.1 L370.0 396.2 L370.3 396.2 L370.5 396.4 L370.8 396.7 L371.0 396.6 L371.3 396.7 L371.5 396.8 L371.8 396.8 L372.0 397.0 L372.3 396.9 L372.5 397.0 L372.8 396.9 L373.0 397.4 L373.3 397.1 L373.5 397.2 L373.8 397.4 L374.0 397.2 L374.3 397.3 L374.5 397.2 L374.8 397.4 L375.0 397.4 L375.3 397.5 L375.5 397.5 L375.8 397.4 L376.0 397.5 L376.3 397.6 L376.5 397.5 L376.8 397.8 L377.0 397.7 L377.3 397.7 L377.5 397.6 L377.8 397.8 L378.0 397.6 L378.3 397.8 L378.5 397.8 L378.8 397.7 L379.0 397.7 L379.2 397.8 L379.5 398.1 L379.8 397.9 L380.0 397.9 L380.3 398.1 L380.5 398.0 L380.8 398.1 L381.0 397.8 L381.2 397.9 L381.5 398.4 L381.8 398.0 L382.0 398.0 L382.3 398.1 L382.5 398.2 L382.8 397.9 L383.0 398.1 L383.2 398.1 L383.5 398.2 L383.8 398.1 L384.0 398.1 L384.3 398.0 L384.5 397.9 L384.8 398.3 L385.0 398.0 L385.2 398.1 L385.5 398.4 L385.8 398.2 L386.0 398.3 L386.3 398.2 L386.5 398.3 L386.8 398.2 L387.0 398.2 L387.2 398.4 L387.5 398.2 L387.8 398.1 L388.0 398.2 L388.3 398.4 L388.5 398.2 L388.8 398.4 L389.0 398.4 L389.2 398.6 L389.5 398.2 L389.8 398.4 L390.0 398.1 L390.3 398.3 L390.5 398.4 L390.8 398.4 L391.0 398.4 L391.2 398.4 L391.5 398.3 L391.8 398.3 L392.0 398.4 L392.3 398.5 L392.5 398.5 L392.8 398.5 L393.0 398.6 L393.2 398.2 L393.5 398.4 L393.8 398.4 L394.0 398.3 L394.3 398.6 L394.5 398.5 L394.8 398.4 L395.0 398.5 L395.2 398.6 L395.5 398.4 L395.8 398.4 L396.0 398.6 L396.3 398.5 L396.5 398.6 L396.8 398.5 L397.0 398.6 L397.2 398.4 L397.5 398.4 L397.8 398.5 L398.0 398.2 L398.3 398.5 L398.5 398.6 L398.8 398.5 L399.0 398.5 L399.2 398.6 L399.5 398.5 L399.8 398.6 L400.0 398.8 L400.2 398.6 L400.5 398.6 L400.7 398.6 L401.0 398.6 L401.2 398.6 L401.5 398.6 L401.8 398.7 L402.0 398.4 L402.2 398.5 L402.5 398.6 L402.7 398.5 L403.0 398.6 L403.2 398.5 L403.5 398.6 L403.8 398.7 L404.0 398.8 L404.2 398.6 L404.5 398.5 L404.7 398.6 L405.0 398.7 L405.2 398.8 L405.5 398.3 L405.8 398.6 L406.0 398.4 L406.2 398.7 L406.5 398.7 L406.7 398.7 L407.0 398.7 L407.2 398.7 L407.5 398.5 L407.8 398.7 L408.0 398.8 L408.2 398.6 L408.5 398.6 L408.8 398.5 L409.0 398.8 L409.2 398.6 L409.5 398.5 L409.8 398.6 L410.0 398.5 L410.2 398.6 L410.5 398.8 L410.8 398.7 L411.0 398.8 L411.3 398.8 L411.5 398.5 L411.8 398.7 L412.0 398.8 L412.3 398.9 L412.5 398.5 L412.8 398.5 L413.0 398.7 L413.3 398.6 L413.5 398.5 L413.8 398.7 L414.0 398.6 L414.3 398.4 L414.5 398.7 L414.8 398.7 L415.0 398.7 L415.3 398.8 L415.5 398.7 L415.8 398.6 L416.0 398.6 L416.3 398.5 L416.5 398.6 L416.8 398.8 L417.0 398.8 L417.3 398.9 L417.5 398.7 L417.8 398.5 L418.0 398.8 L418.3 398.8 L418.5 398.5 L418.8 398.5 L419.0 398.7 L419.3 398.8 L419.5 398.5 L419.8 398.6 L420.0 398.6 L420.3 398.5 L420.5 398.5 L420.8 398.7 L421.0 398.6 L421.3 398.6 L421.5 398.3 L421.8 398.9 L422.0 398.5 L422.2 398.6 L422.5 398.5 L422.8 398.7 L423.0 398.5 L423.3 398.7 L423.5 398.6 L423.8 398.7 L424.0 398.5 L424.2 398.5 L424.5 398.6 L424.8 398.9 L425.0 398.4 L425.3 398.6 L425.5 398.5 L425.8 398.6 L426.0 398.6 L426.2 398.5 L426.5 398.5 L426.8 398.5 L427.0 398.4 L427.3 398.4 L427.5 398.1 L427.8 398.3 L428.0 398.1 L428.2 398.1 L428.5 398.2 L428.8 398.0 L429.0 397.9 L429.3 397.9 L429.5 397.3 L429.8 397.5 L430.0 397.2 L430.2 397.0 L430.5 396.7 L430.8 396.8 L431.0 396.7 L431.3 396.6 L431.5 396.5 L431.8 396.6 L432.0 396.7 L432.2 397.0 L432.5 397.0 L432.8 397.0 L433.0 397.2 L433.3 397.3 L433.5 397.5 L433.8 397.5 L434.0 397.8 L434.2 397.8 L434.5 397.9 L434.8 398.1 L435.0 398.1 L435.3 398.2 L435.5 398.1 L435.8 398.5 L436.0 398.4 L436.2 398.4 L436.5 398.6 L436.8 398.6 L437.0 398.5 L437.3 398.8 L437.5 398.5 L437.8 398.7 L438.0 398.9 L438.2 398.6 L438.5 398.7 L438.8 398.6 L439.0 398.8 L439.3 398.7 L439.5 398.6 L439.8 398.9 L440.0 398.8 L440.2 398.6 L440.5 398.9 L440.8 398.8 L441.0 399.1 L441.3 399.0 L441.5 398.7 L441.7 398.7 L442.0 398.6 L442.2 398.8 L442.5 398.8 L442.8 398.9 L443.0 398.8 L443.2 398.6 L443.5 398.7 L443.7 398.9 L444.0 398.9 L444.2 398.8 L444.5 398.8 L444.8 398.8 L445.0 398.8 L445.2 398.6 L445.5 398.9 L445.7 398.7 L446.0 398.8 L446.2 398.5 L446.5 398.8 L446.8 399.0 L447.0 398.5 L447.2 399.0 L447.5 398.8 L447.7 398.7 L448.0 398.6 L448.2 398.9 L448.5 398.8 L448.8 398.9 L449.0 398.8 L449.2 398.7 L449.5 398.9 L449.8 398.7 L450.0 398.9 L450.2 398.6 L450.5 398.7 L450.8 398.6 L451.0 398.9 L451.2 398.6 L451.5 398.6 L451.8 398.9 L452.0 398.8 L452.2 399.0 L452.5 399.0 L452.8 398.9 L453.0 398.9 L453.3 398.5 L453.5 398.7 L453.8 398.7 L454.0 398.7 L454.3 398.6 L454.5 398.6 L454.8 398.7 L455.0 398.9 L455.3 398.8 L455.5 398.7 L455.8 398.7 L456.0 398.8 L456.3 398.7 L456.5 398.7 L456.8 398.5 L457.0 398.8 L457.3 398.8 L457.5 398.8 L457.8 398.8 L458.0 398.8 L458.3 399.0 L458.5 398.7 L458.8 398.5 L459.0 398.6 L459.3 398.8 L459.5 398.8 L459.8 398.8 L460.0 398.8 L460.3 398.7 L460.5 398.5 L460.8 398.6 L461.0 398.4 L461.3 398.6 L461.5 398.5 L461.8 398.6 L462.0 398.6 L462.3 398.4 L462.5 398.7 L462.8 398.7 L463.0 398.4 L463.2 398.6 L463.5 398.6 L463.8 398.5 L464.0 398.6 L464.3 398.5 L464.5 398.6 L464.8 398.5 L465.0 398.5 L465.2 398.5 L465.5 398.6 L465.8 398.5 L466.0 398.4 L466.3 398.3 L466.5 398.4 L466.8 398.3 L467.0 398.4 L467.2 398.4 L467.5 398.3 L467.8 398.3 L468.0 398.3 L468.3 398.5 L468.5 398.4 L468.8 398.2 L469.0 398.3 L469.2 398.1 L469.5 398.1 L469.8 398.1 L470.0 398.0 L470.3 397.9 L470.5 397.7 L470.8 398.0 L471.0 398.1 L471.2 397.8 L471.5 398.0 L471.8 397.8 L472.0 397.9 L472.3 397.7 L472.5 397.7 L472.8 397.7 L473.0 397.3 L473.2 397.6 L473.5 397.5 L473.8 397.2 L474.0 397.5 L474.3 397.4 L474.5 397.3 L474.8 397.3 L475.0 397.1 L475.2 396.9 L475.5 396.9 L475.8 396.8 L476.0 397.1 L476.3 396.9 L476.5 396.5 L476.8 396.4 L477.0 396.4 L477.2 396.3 L477.5 396.0 L477.8 395.8 L478.0 396.0 L478.3 395.7 L478.5 395.2 L478.8 395.0 L479.0 394.9 L479.2 394.7 L479.5 394.5 L479.8 394.1 L480.0 393.7 L480.3 393.5 L480.5 393.2 L480.8 392.7 L481.0 392.2 L481.2 391.8 L481.5 391.2 L481.8 390.4 L482.0 389.8 L482.3 388.8 L482.5 388.1 L482.8 387.0 L483.0 385.5 L483.2 384.1 L483.5 382.5 L483.8 380.0 L484.0 377.9 L484.3 375.4 L484.5 371.7 L484.7 368.2 L485.0 363.8 L485.2 359.1 L485.5 353.5 L485.8 347.7 L486.0 341.5 L486.2 335.0 L486.5 328.5 L486.7 322.4 L487.0 317.3 L487.2 313.6 L487.5 311.6 L487.8 311.2 L488.0 312.9 L488.2 316.2 L488.5 319.9 L488.7 324.1 L489.0 328.9 L489.2 334.1 L489.5 339.2 L489.8 344.9 L490.0 350.0 L490.2 355.1 L490.5 360.2 L490.8 364.1 L491.0 368.4 L491.2 371.7 L491.5 375.0 L491.8 377.8 L492.0 380.1 L492.2 382.2 L492.5 383.9 L492.8 385.5 L493.0 386.7 L493.2 387.9 L493.5 388.8 L493.8 389.9 L494.0 390.4 L494.3 391.3 L494.5 391.8 L494.8 392.3 L495.0 393.0 L495.3 393.3 L495.5 393.4 L495.8 394.0 L496.0 393.9 L496.3 394.6 L496.5 394.8 L496.8 394.9 L497.0 395.3 L497.3 395.5 L497.5 396.0 L497.8 395.8 L498.0 396.3 L498.3 396.4 L498.5 396.3 L498.8 396.4 L499.0 396.8 L499.3 396.7 L499.5 396.9 L499.8 396.9 L500.0 396.9 L500.3 397.1 L500.5 397.1 L500.8 397.1 L501.0 397.4 L501.3 397.7 L501.5 397.7 L501.8 397.6 L502.0 397.7 L502.3 397.8 L502.5 398.0 L502.8 397.9 L503.0 397.8 L503.3 397.9 L503.5 398.1 L503.8 398.4 L504.0 398.0 L504.3 397.8 L504.5 398.3 L504.8 398.2 L505.0 398.2 L505.3 398.4 L505.5 398.3 L505.8 398.2 L506.0 398.1 L506.2 398.4 L506.5 398.3 L506.8 398.5 L507.0 398.3 L507.3 398.4 L507.5 398.3 L507.8 398.5 L508.0 398.5 L508.2 398.7 L508.5 398.8 L508.8 398.6 L509.0 398.5 L509.3 398.9 L509.5 398.7 L509.8 398.8 L510.0 398.8 L510.2 398.9 L510.5 398.9 L510.8 398.9 L511.0 398.9 L511.3 398.7 L511.5 398.7 L511.8 398.8 L512.0 398.8 L512.2 398.9 L512.5 398.9 L512.8 398.9 L513.0 398.8 L513.2 398.7 L513.5 399.0 L513.8 399.0 L514.0 398.8 L514.2 399.0 L514.5 399.0 L514.8 399.0 L515.0 398.7 L515.2 398.8 L515.5 398.9 L515.8 399.2 L516.0 398.9 L516.2 399.0 L516.5 398.9 L516.8 399.0 L517.0 399.1 L517.2 398.8 L517.5 398.7 L517.8 399.1 L518.0 399.1 L518.2 399.0 L518.5 399.2 L518.8 399.2 L519.0 398.8 L519.3 399.1 L519.5 399.2 L519.8 399.0 L520.0 399.1 L520.2 399.2 L520.5 399.1 L520.8 399.0 L521.0 399.0 L521.3 399.0 L521.5 399.2 L521.8 398.9 L522.0 399.3 L522.2 398.9 L522.5 399.1 L522.8 399.0 L523.0 399.1 L523.3 399.3 L523.5 399.3 L523.8 399.3 L524.0 399.1 L524.2 399.2 L524.5 399.2 L524.8 399.2 L525.0 399.1 L525.3 399.3 L525.5 399.2 L525.8 399.3 L526.0 399.2 L526.2 399.2 L526.5 399.1 L526.8 399.1 L527.0 399.0 L527.2 399.1 L527.5 399.1 L527.8 399.3 L528.0 399.0 L528.2 399.6 L528.5 399.1 L528.8 399.3 L529.0 399.3 L529.2 398.8 L529.5 399.1 L529.8 399.3 L530.0 398.8 L530.2 399.2 L530.5 399.0 L530.8 399.0 L531.0 399.1 L531.2 398.8 L531.5 399.1 L531.8 399.0 L532.0 398.9 L532.2 399.1 L532.5 399.5 L532.8 399.0 L533.0 399.0 L533.2 398.9 L533.5 398.8 L533.8 398.9 L534.0 399.1 L534.2 398.9 L534.5 398.9 L534.8 398.7 L535.0 399.1 L535.2 398.5 L535.5 398.7 L535.8 398.7 L536.0 398.6 L536.2 398.3 L536.5 398.3 L536.8 398.3 L537.0 398.3 L537.2 398.0 L537.5 397.9 L537.8 398.0 L538.0 397.9 L538.2 397.5 L538.5 397.3 L538.8 397.1 L539.0 397.2 L539.2 396.7 L539.5 396.3 L539.8 396.0 L540.0 395.7 L540.2 395.0 L540.5 394.1 L540.8 393.6 L541.0 392.8 L541.2 392.0 L541.5 391.0 L541.8 390.2 L542.0 389.2 L542.2 388.6 L542.5 387.8 L542.8 387.0 L543.0 386.6 L543.2 386.7 L543.5 386.9 L543.8 387.2 L544.0 387.5 L544.2 387.6 L544.5 388.6 L544.8 389.2 L545.0 390.0 L545.2 390.6 L545.5 391.4 L545.8 392.1 L546.0 393.3 L546.2 393.7 L546.5 394.2 L546.8 394.8 L547.0 395.3 L547.2 395.8 L547.5 396.2 L547.8 396.6 L548.0 397.0 L548.2 397.3 L548.5 397.5 L548.8 397.8 L549.0 397.9 L549.2 397.9 L549.5 397.9 L549.8 398.2 L550.0 398.4 L550.2 398.5 L550.5 398.7 L550.8 398.5 L551.0 398.6 L551.2 398.9 L551.5 399.0 L551.8 398.8 L552.0 399.0 L552.2 399.1 L552.5 399.0 L552.8 399.0 L553.0 398.8 L553.2 399.3 L553.5 399.2 L553.8 399.2 L554.0 399.1 L554.2 399.0 L554.5 399.2 L554.8 399.2 L555.0 399.4 L555.2 399.1 L555.5 399.5 L555.8 399.3 L556.0 399.5 L556.2 399.2 L556.5 399.4 L556.8 399.6 L557.0 399.4 L557.2 399.2 L557.5 399.4 L557.8 399.5 L558.0 399.3 L558.2 399.3 L558.5 399.5 L558.8 399.4 L559.0 399.6 L559.2 399.4 L559.5 399.3 L559.8 399.4 L560.0 399.7 L560.2 399.4 L560.5 399.5 L560.8 399.6 L561.0 399.4 L561.2 399.7 L561.5 399.6 L561.8 399.6 L562.0 399.4 L562.2 399.4 L562.5 399.2 L562.8 399.6 L563.0 399.6 L563.2 399.7 L563.5 399.8 L563.8 399.6 L564.0 399.6 L564.2 399.7 L564.5 399.8 L564.8 399.5 L565.0 399.7 L565.2 399.6 L565.5 399.6 L565.8 399.8 L566.0 399.6 L566.2 399.5 L566.5 399.8 L566.8 399.7 L567.0 399.7 L567.2 399.7 L567.5 399.8 L567.8 399.7 L568.0 399.8 L568.2 399.8 L568.5 399.9 L568.8 399.9 L569.0 399.8 L569.2 399.7 L569.5 399.7 L569.8 399.7 L570.0 400.1 L570.2 399.7 L570.5 399.8 L570.8 399.9 L571.0 399.6 L571.2 399.6 L571.5 399.7 L571.8 399.6 L572.0 399.6 L572.2 399.7 L572.5 399.9 L572.8 399.9 L573.0 399.8 L573.2 399.8 L573.5 399.6 L573.8 399.9 L574.0 399.8 L574.2 399.7 L574.5 399.8 L574.8 399.8 L575.0 399.7 L575.2 399.7 L575.5 399.7 L575.8 399.7 L576.0 399.9 L576.2 399.9 L576.5 399.9 L576.8 399.8 L577.0 399.8 L577.2 400.1 L577.5 399.6 L577.8 400.0 L578.0 399.9 L578.2 399.8 L578.5 399.8 L578.8 399.8 L579.0 399.7 L579.2 399.7 L579.5 399.8 L579.8 399.6 L580.0 400.0 L580.2 400.0 L580.5 399.4 L580.8 399.7 L581.0 399.9 L581.2 399.9 L581.5 399.9 L581.8 399.9 L582.0 400.0 L582.2 400.0 L582.5 400.1 L582.8 399.9 L583.0 400.0 L583.2 399.7 L583.5 399.9 L583.8 399.7 L584.0 400.1 L584.2 400.2 L584.5 400.0 L584.8 399.7 L585.0 399.9 L585.2 399.9 L585.5 399.9 L585.8 400.0 L586.0 400.0 L586.2 399.6 L586.5 400.1 L586.8 399.8 L587.0 399.8 L587.2 400.1 L587.5 399.9 L587.8 399.7 L588.0 399.8 L588.2 399.9 L588.5 400.0 L588.8 400.1 L589.0 399.9 L589.2 399.9 L589.5 400.1 L589.8 399.9 L590.0 400.1 L590.2 400.0 L590.5 400.0 L590.8 399.9 L591.0 400.0 L591.3 399.9 L591.5 399.9 L591.8 399.9 L592.0 399.9 L592.3 400.0 L592.5 400.0 L592.8 399.9 L593.0 399.9 L593.3 399.9 L593.5 400.2 L593.8 400.0 L594.0 399.9 L594.3 399.9 L594.5 400.1 L594.8 400.0 L595.0 400.0 L595.3 399.9 L595.5 400.0 L595.8 400.0 L596.0 400.0 L596.3 399.8 L596.5 399.9 L596.8 399.7 L597.0 400.1 L597.3 400.1 L597.5 400.2 L597.8 400.0 L598.0 400.2 L598.3 400.0 L598.5 400.0 L598.8 399.8 L599.0 399.9 L599.3 399.9 L599.5 400.1 L599.8 400.2 L600.0 400.0 L600.3 400.1 L600.5 400.1 L600.8 399.9 L601.0 399.8 L601.3 399.9 L601.5 399.8 L601.8 400.0 L602.0 400.0 L602.2 400.0 L602.5 400.0 L602.8 400.1 L603.0 399.9 L603.2 400.1 L603.5 399.8 L603.8 400.0 L604.0 400.1 L604.2 399.9 L604.5 399.8 L604.8 400.1 L605.0 399.9 L605.2 400.1 L605.5 400.1 L605.8 400.0 L606.0 400.0 L606.2 400.1 L606.5 400.1 L606.8 399.9 L607.0 400.0 L607.2 400.1 L607.5 400.0 L607.8 400.0 L608.0 400.0 L608.2 400.0 L608.5 399.9 L608.8 399.8 L609.0 400.2 L609.2 399.9 L609.5 400.0 L609.8 399.8 L610.0 400.0 L610.2 399.9 L610.5 400.4 L610.8 399.9 L611.0 399.9 L611.2 400.1 L611.5 400.2 L611.8 399.7 L612.0 400.0 L612.2 400.1 L612.5 399.9 L612.8 400.1 L613.0 399.9 L613.2 399.9 L613.5 400.0 L613.8 400.0 L614.0 399.8 L614.2 400.3 L614.5 400.0 L614.8 399.9 L615.0 400.1 L615.2 400.0 L615.5 400.2 L615.8 400.0 L616.0 400.1 L616.2 400.0 L616.5 400.0 L616.8 400.0 L617.0 400.0 L617.2 400.2 L617.5 399.9 L617.8 399.9 L618.0 400.0 L618.3 400.1 L618.5 400.1 L618.8 400.1 L619.0 399.8 L619.3 400.0 L619.5 400.0 L619.8 400.0 L620.0 400.0 L620.3 399.8 L620.5 400.0 L620.8 400.0 L621.0 399.8 L621.3 400.0 L621.5 400.2 L621.8 400.0 L622.0 400.1 L622.3 400.0 L622.5 399.9 L622.8 399.9 L623.0 400.0 L623.3 400.2 L623.5 400.1 L623.8 399.9 L624.0 400.1 L624.3 400.0 L624.5 399.9 L624.8 400.1 L625.0 399.9 L625.2 399.8 L625.5 400.2 L625.8 399.8 L626.0 400.1 L626.2 399.8 L626.5 400.0 L626.8 400.0 L627.0 399.9 L627.2 399.7 L627.5 400.0 L627.8 400.0 L628.0 399.9 L628.2 400.0 L628.5 400.1 L628.8 399.9 L629.0 400.0 L629.2 399.8 L629.5 400.0 L629.8 400.1 L630.0 400.3 L630.3 400.1 L630.5 400.0 L630.8 400.2 L631.0 399.9 L631.3 400.1 L631.5 399.9 L631.8 399.9 L632.0 400.1 L632.3 400.0 L632.5 400.2 L632.8 399.8 L633.0 400.0 L633.3 399.9 L633.5 400.0 L633.8 399.7 L634.0 400.1 L634.3 400.0 L634.5 399.9 L634.8 399.8 L635.0 399.9 L635.3 400.2 L635.5 400.0 L635.8 399.9 L636.0 400.0 L636.3 400.0 L636.5 400.0 L636.8 400.1 L637.0 400.0 L637.3 400.1 L637.5 399.8 L637.8 400.0 L638.0 399.9 L638.3 400.0 L638.5 400.0 L638.8 399.9 L639.0 399.9 L639.3 400.1 L639.5 399.9 L639.8 399.8 L640.0 400.0 L640.3 400.1 L640.5 399.9 L640.8 400.0 L641.0 399.9 L641.3 399.9 L641.5 400.1 L641.8 400.1 L642.0 400.0 L642.3 399.9 L642.5 399.8 L642.8 400.0 L643.0 400.0 L643.3 400.1 L643.5 400.2 L643.8 400.0 L644.0 400.1 L644.3 399.8 L644.5 400.1 L644.8 400.1 L645.0 400.1 L645.2 400.0 L645.5 400.0 L645.8 400.1 L646.0 399.9 L646.2 400.0 L646.5 400.1 L646.8 399.9 L647.0 399.8 L647.2 400.0 L647.5 400.0 L647.8 400.0 L648.0 400.0 L648.2 399.8 L648.5 400.0 L648.8 400.1 L649.0 399.9 L649.2 399.9 L649.5 399.8 L649.8 400.0 L650.0 400.2 L650.2 399.8 L650.5 400.0 L650.8 400.0 L651.0 399.9 L651.2 399.9 L651.5 399.8 L651.8 399.8 L652.0 399.9 L652.2 400.0 L652.5 399.9 L652.8 400.0 L653.0 399.9 L653.2 399.8 L653.5 400.1 L653.8 400.1 L654.0 399.8 L654.2 400.1 L654.5 400.0 L654.8 399.9 L655.0 400.1 L655.2 399.6 L655.5 399.7 L655.8 400.0 L656.0 399.9 L656.2 399.8 L656.5 400.1 L656.8 399.9 L657.0 399.7 L657.2 399.8 L657.5 400.0 L657.8 400.1 L658.0 399.6 L658.2 399.9 L658.5 399.8 L658.8 399.6 L659.0 399.8 L659.2 399.6 L659.5 399.8 L659.8 400.0 L660.0 399.9 L660.2 399.9 L660.5 399.9 L660.8 399.9 L661.0 399.9 L661.2 399.7 L661.5 399.8 L661.8 399.9 L662.0 399.7 L662.2 399.7 L662.5 399.9 L662.8 400.0 L663.0 399.7 L663.2 399.7 L663.5 399.8 L663.8 399.8 L664.0 399.7 L664.2 399.8 L664.5 399.8 L664.8 399.7 L665.0 400.1 L665.2 399.9 L665.5 399.8 L665.8 399.8 L666.0 400.1 L666.2 399.8 L666.5 399.6 L666.8 399.7 L667.0 399.6 L667.2 399.5 L667.5 399.6 L667.8 399.6 L668.0 399.6 L668.2 399.5 L668.5 399.6 L668.8 399.3 L669.0 399.6 L669.2 399.5 L669.5 399.5 L669.8 399.1 L670.0 399.6 L670.2 399.1 L670.5 399.2 L670.8 399.3 L671.0 399.1 L671.3 399.1 L671.5 398.8 L671.8 399.0 L672.0 399.0 L672.3 399.0 L672.5 398.8 L672.8 398.8 L673.0 398.7 L673.3 398.5 L673.5 398.3 L673.8 398.5 L674.0 398.0 L674.3 398.1 L674.5 397.7 L674.8 397.6 L675.0 397.0 L675.3 396.9 L675.5 396.5 L675.8 396.0 L676.0 395.6 L676.3 395.0 L676.5 394.6 L676.8 394.0 L677.0 393.6 L677.3 392.9 L677.5 392.1 L677.8 391.7 L678.0 391.2 L678.3 390.6 L678.5 390.6 L678.8 390.2 L679.0 390.1 L679.3 389.9 L679.5 390.1 L679.8 390.5 L680.0 390.5 L680.3 391.1 L680.5 391.4 L680.8 391.8 L681.0 392.3 L681.3 392.6 L681.5 393.2 L681.8 393.5 L682.0 394.0 L682.3 394.8 L682.5 395.0 L682.8 395.3 L683.0 396.1 L683.3 396.2 L683.5 396.2 L683.8 397.0 L684.0 397.4 L684.3 397.6 L684.5 398.0 L684.8 397.9 L685.0 398.2 L685.3 398.1 L685.5 398.4 L685.8 398.7 L686.0 398.7 L686.3 398.8 L686.5 398.6 L686.8 398.8 L687.0 398.8 L687.2 399.1 L687.5 399.0 L687.8 399.2 L688.0 399.0 L688.2 399.4 L688.5 399.1 L688.8 399.3 L689.0 399.6 L689.2 399.3 L689.5 399.2 L689.8 399.4 L690.0 399.5 L690.2 399.5 L690.5 399.2 L690.8 399.5 L691.0 399.2 L691.2 399.7 L691.5 399.5 L691.8 399.4 L692.0 399.6 L692.2 399.6 L692.5 399.4 L692.8 399.7 L693.0 399.5 L693.2 399.3 L693.5 399.7 L693.8 399.7 L694.0 399.7 L694.2 399.6 L694.5 399.4 L694.8 399.7 L695.0 399.8 L695.2 399.7 L695.5 399.8 L695.8 399.4 L696.0 399.7 L696.2 399.7 L696.5 399.4 L696.8 399.3 L697.0 399.5 L697.2 399.6 L697.5 399.6 L697.8 399.5 L698.0 399.5 L698.2 399.5 L698.5 399.5 L698.8 399.6 L699.0 399.6 L699.2 399.5 L699.5 399.5 L699.8 399.4 L700.0 399.6 L700.2 399.4 L700.5 399.7 L700.8 399.4 L701.0 399.5 L701.2 399.3 L701.5 399.4 L701.8 399.4 L702.0 399.4 L702.2 399.3 L702.5 399.2 L702.8 399.3 L703.0 399.3 L703.2 399.4 L703.5 399.4 L703.8 399.2 L704.0 399.0 L704.2 399.2 L704.5 398.9 L704.8 399.0 L705.0 399.2 L705.2 399.1 L705.5 398.9 L705.8 398.9 L706.0 398.9 L706.2 398.6 L706.5 398.9 L706.8 398.7 L707.0 398.9 L707.2 398.5 L707.5 398.6 L707.8 398.3 L708.0 398.4 L708.2 398.1 L708.5 398.2 L708.8 397.8 L709.0 397.6 L709.2 397.5 L709.5 397.3 L709.8 397.1 L710.0 396.9 L710.2 396.5 L710.5 395.6 L710.8 395.5 L711.0 394.8 L711.2 394.5 L711.5 394.0 L711.8 393.1 L712.0 392.4 L712.2 391.9 L712.5 391.0 L712.8 390.4 L713.0 389.4 L713.3 388.6 L713.5 387.9 L713.8 386.8 L714.0 386.2 L714.3 385.6 L714.5 385.3 L714.8 385.2 L715.0 385.2 L715.3 385.1 L715.5 385.3 L715.8 385.7 L716.0 386.0 L716.3 386.8 L716.5 387.5 L716.7 387.7 L717.0 388.3 L717.2 389.5 L717.5 389.8 L717.8 390.7 L718.0 391.2 L718.3 392.1 L718.5 392.8 L718.8 393.3 L719.0 394.0 L719.3 394.5 L719.5 395.0 L719.8 395.7 L720.0 396.0 L720.3 396.1 L720.5 396.5 L720.7 396.8 L721.0 397.1 L721.2 397.4 L721.5 397.5 L721.8 397.9 L722.0 398.0 L722.3 398.1 L722.5 398.2 L722.8 398.4 L723.0 398.3 L723.3 398.7 L723.5 398.7 L723.8 398.7 L724.0 398.8 L724.3 399.0 L724.5 399.0 L724.7 398.9 L725.0 398.9 L725.2 398.8 L725.5 399.1 L725.8 399.0 L726.0 399.1 L726.3 399.4 L726.5 398.9 L726.8 399.2 L727.0 399.4 L727.3 399.3 L727.5 399.4 L727.8 399.1 L728.0 399.1 L728.3 399.4 L728.5 399.3 L728.8 399.5 L729.0 399.3 L729.2 399.3 L729.5 399.4 L729.8 399.3 L730.0 399.4 L730.3 399.3 L730.5 399.3 L730.8 399.3 L731.0 399.4 L731.2 399.2 L731.5 399.1 L731.8 399.4 L732.0 399.3 L732.2 399.2 L732.5 399.3 L732.8 399.1 L733.0 399.5 L733.2 399.0 L733.5 399.4 L733.8 399.1 L734.0 399.2 L734.3 399.1 L734.5 399.0 L734.8 399.1 L735.0 399.0 L735.2 398.8 L735.5 398.6 L735.8 398.9 L736.0 398.7 L736.2 398.4 L736.5 398.2 L736.8 398.1 L737.0 397.9 L737.2 397.9 L737.5 397.4 L737.8 397.4 L738.0 397.0 L738.3 397.1 L738.5 397.0 L738.8 396.5 L739.0 396.4 L739.2 396.4 L739.5 396.1 L739.8 395.9 L740.0 396.1 L740.2 396.1 L740.5 396.0 L740.8 396.3 L741.0 396.3 L741.2 396.1 L741.5 396.5 L741.8 396.6 L742.0 397.0 L742.3 397.0 L742.5 397.1 L742.8 397.4 L743.0 397.5 L743.2 397.5 L743.5 397.8 L743.8 397.9 L744.0 398.3 L744.2 398.6 L744.5 398.3 L744.8 398.4 L745.0 398.6 L745.2 398.7 L745.5 398.8 L745.8 399.0 L746.0 399.2 L746.3 398.9 L746.5 399.0 L746.8 399.0 L747.0 399.4 L747.2 399.5 L747.5 399.2 L747.8 399.2 L748.0 399.4 L748.2 399.6 L748.5 399.6 L748.8 399.5 L749.0 399.6 L749.2 399.6 L749.5 399.5 L749.8 399.8 L750.0 399.6 L750.3 399.5 L750.5 399.6 L750.8 399.4 L751.0 399.6 L751.2 399.8 L751.5 399.5 L751.7 399.8 L752.0 399.9 L752.2 399.7 L752.5 399.5 L752.8 399.6 L753.0 399.6 L753.2 399.5 L753.5 399.5 L753.8 399.7 L754.0 399.7 L754.3 399.8 L754.5 399.6 L754.8 400.0 L755.0 399.9 L755.3 399.8 L755.5 399.6 L755.7 400.0 L756.0 399.7 L756.2 400.0 L756.5 399.9 L756.8 399.6 L757.0 399.7 L757.3 400.0 L757.5 399.9 L757.8 399.7 L758.0 399.8 L758.3 399.8 L758.5 399.7 L758.8 399.7 L759.0 399.7 L759.3 399.7 L759.5 399.8 L759.7 399.6 L760.0 399.9 L760.2 399.8 L760.5 399.9 L760.8 399.9 L761.0 399.9 L761.3 399.8 L761.5 399.9 L761.8 399.7 L762.0 399.8 L762.3 399.6 L762.5 399.7 L762.8 399.9 L763.0 399.8 L763.3 399.8 L763.5 399.6 L763.7 399.9 L764.0 399.7 L764.2 399.8 L764.5 399.8 L764.8 399.9 L765.0 399.7 L765.3 399.6 L765.5 399.5 L765.8 399.7 L766.0 399.6 L766.3 399.8 L766.5 399.9 L766.8 399.5 L767.0 399.6 L767.3 399.8 L767.5 399.9 L767.8 399.8 L768.0 399.8 L768.2 399.8 L768.5 399.8 L768.8 400.0 L769.0 399.8 L769.3 399.6 L769.5 399.7 L769.8 399.8 L770.0 399.6 L770.3 399.7 L770.5 399.7 L770.8 399.6 L771.0 399.8 L771.3 399.7 L771.5 399.6 L771.8 399.6 L772.0 399.7 L772.2 400.0 L772.5 399.7 L772.8 399.9 L773.0 399.8 L773.3 399.4 L773.5 399.7 L773.8 399.6 L774.0 399.5 L774.2 399.5 L774.5 399.9 L774.8 399.5 L775.0 399.6 L775.2 399.8 L775.5 399.8 L775.8 399.4 L776.0 399.6 L776.2 399.6 L776.5 399.6 L776.8 399.7 L777.0 399.6 L777.3 399.6 L777.5 399.8 L777.8 399.4 L778.0 399.6 L778.2 399.7 L778.5 399.4 L778.8 399.5 L779.0 399.4 L779.2 399.6 L779.5 399.5 L779.8 399.7 L780.0 399.7 L780.2 399.5 L780.5 399.5 L780.8 399.5 L781.0 399.5 L781.3 399.3 L781.5 399.6 L781.8 399.5 L782.0 399.5 L782.2 399.2 L782.5 399.5 L782.8 399.7 L783.0 399.5 L783.2 399.2 L783.5 399.3 L783.8 399.3 L784.0 399.3 L784.2 399.2 L784.5 399.3 L784.8 399.1 L785.0 399.2 L785.3 399.0 L785.5 399.1 L785.8 399.2 L786.0 399.0 L786.2 399.1 L786.5 398.8 L786.8 398.8 L787.0 398.8 L787.2 398.9 L787.5 398.5 L787.8 398.7 L788.0 398.3 L788.2 398.3 L788.5 398.3 L788.8 398.2 L789.0 397.8 L789.3 397.5 L789.5 397.6 L789.8 397.1 L790.0 397.1 L790.2 396.6 L790.5 396.3 L790.8 396.3 L791.0 395.8 L791.2 395.2 L791.5 394.5 L791.8 394.2 L792.0 393.6 L792.2 393.0 L792.5 392.5 L792.8 391.5 L793.0 391.1 L793.3 390.5 L793.5 389.8 L793.8 389.6 L794.0 388.7 L794.2 388.5 L794.5 388.2 L794.7 387.7 L795.0 387.8 L795.2 387.9 L795.5 388.3 L795.8 388.5 L796.0 388.8 L796.3 389.1 L796.5 389.2 L796.8 390.0 L797.0 390.3 L797.3 391.0 L797.5 391.5 L797.8 392.2 L798.0 392.5 L798.3 393.0 L798.5 393.3 L798.7 393.9 L799.0 394.2 L799.2 394.9 L799.5 395.1 L799.8 395.6 L800.0 395.9 L800.3 396.3 L800.5 396.7 L800.8 396.9 L801.0 397.2 L801.3 397.3 L801.5 397.8 L801.8 397.7 L802.0 398.1 L802.3 398.4 L802.5 397.9 L802.7 398.2 L803.0 398.5 L803.2 398.7 L803.5 398.6 L803.8 398.8 L804.0 398.7 L804.3 398.9 L804.5 398.8 L804.8 399.1 L805.0 398.6 L805.3 398.8 L805.5 399.3 L805.8 399.1 L806.0 399.0 L806.3 399.5 L806.5 399.3 L806.7 399.4 L807.0 399.2 L807.2 399.3 L807.5 399.4 L807.8 399.1 L808.0 399.4 L808.3 399.3 L808.5 399.5 L808.8 399.5 L809.0 399.3 L809.3 399.3 L809.5 399.4 L809.8 399.5 L810.0 399.4 L810.3 399.4 L810.5 399.5 L810.8 399.5 L811.0 399.6 L811.2 399.5 L811.5 399.4 L811.8 399.2 L812.0 399.6 L812.3 399.4 L812.5 399.5 L812.8 399.5 L813.0 399.3 L813.3 399.5 L813.5 399.2 L813.8 399.5 L814.0 399.4 L814.3 399.8 L814.5 399.6 L814.8 399.5 L815.0 399.6 L815.2 399.6 L815.5 399.4 L815.8 399.5 L816.0 399.5 L816.3 399.9 L816.5 399.6 L816.8 399.3 L817.0 399.7 L817.2 399.9 L817.5 399.4 L817.8 400.0 L818.0 399.5 L818.2 399.7 L818.5 399.5 L818.8 399.5 L819.0 399.4 L819.2 399.4 L819.5 399.3 L819.8 399.7 L820.0 399.4 L820.3 399.6 L820.5 399.6 L820.8 399.5 L821.0 399.6 L821.2 399.5 L821.5 399.5 L821.8 399.5 L822.0 399.5 L822.2 399.4 L822.5 399.4 L822.8 399.4 L823.0 399.5 L823.2 399.7 L823.5 399.7 L823.8 399.6 L824.0 399.6 L824.3 399.5 L824.5 399.7 L824.8 399.5 L825.0 399.6 L825.2 399.5 L825.5 399.5 L825.8 399.7 L826.0 399.3 L826.2 399.5 L826.5 399.4 L826.8 399.6 L827.0 399.7 L827.2 399.4 L827.5 399.1 L827.8 399.5 L828.0 399.5 L828.3 399.2 L828.5 399.4 L828.8 399.4 L829.0 399.1 L829.2 399.5 L829.5 399.4 L829.8 399.4 L830.0 399.2 L830.2 399.2 L830.5 399.2 L830.8 399.4 L831.0 399.2 L831.2 399.5 L831.5 399.3 L831.8 399.0 L832.0 399.5 L832.3 399.2 L832.5 399.1 L832.8 399.2 L833.0 398.9 L833.2 399.2 L833.5 398.8 L833.8 399.0 L834.0 399.3 L834.2 399.2 L834.5 399.0 L834.8 398.9 L835.0 399.1 L835.2 398.9 L835.5 398.9 L835.8 399.0 L836.0 398.7 L836.3 398.9 L836.5 398.5 L836.8 398.9 L837.0 398.4 L837.3 398.5 L837.5 398.4 L837.7 398.6 L838.0 398.5 L838.2 398.3 L838.5 398.3 L838.8 398.2 L839.0 398.0 L839.3 397.6 L839.5 397.4 L839.8 397.2 L840.0 397.3 L840.3 397.1 L840.5 396.9 L840.8 396.6 L841.0 396.3 L841.3 395.8 L841.5 395.4 L841.7 394.9 L842.0 394.8 L842.2 394.3 L842.5 393.4 L842.8 392.9 L843.0 392.4 L843.3 391.8 L843.5 390.8 L843.8 390.1 L844.0 389.5 L844.3 388.3 L844.5 387.6 L844.8 386.8 L845.0 386.0 L845.3 385.6 L845.5 384.8 L845.7 384.2 L846.0 383.7 L846.2 383.6 L846.5 383.5 L846.8 383.3 L847.0 383.5 L847.3 383.6 L847.5 384.2 L847.8 384.7 L848.0 385.2 L848.3 385.7 L848.5 386.3 L848.8 386.7 L849.0 387.4 L849.3 388.2 L849.5 388.8 L849.8 389.3 L850.0 390.1 L850.2 390.8 L850.5 391.4 L850.8 391.9 L851.0 392.4 L851.3 393.1 L851.5 393.8 L851.8 394.1 L852.0 394.4 L852.3 395.0 L852.5 395.2 L852.8 395.7 L853.0 395.9 L853.3 396.4 L853.5 396.5 L853.8 396.9 L854.0 397.3 L854.2 397.1 L854.5 397.2 L854.8 397.5 L855.0 397.5 L855.3 397.7 L855.5 397.7 L855.8 397.9 L856.0 397.9 L856.3 397.7 L856.5 398.0 L856.8 398.1 L857.0 398.2 L857.3 398.0 L857.5 398.0 L857.8 398.3 L858.0 398.1 L858.2 398.2 L858.5 398.2 L858.8 398.2 L859.0 398.1 L859.3 398.0 L859.5 398.2 L859.8 398.0 L860.0 397.9 L860.2 398.2 L860.5 398.0 L860.8 397.7 L861.0 397.7 L861.2 397.6 L861.5 397.4 L861.8 397.2 L862.0 397.4 L862.2 397.2 L862.5 396.9 L862.8 396.7 L863.0 396.5 L863.3 396.3 L863.5 395.8 L863.8 395.5 L864.0 395.2 L864.2 395.0 L864.5 394.5 L864.8 393.8 L865.0 393.5 L865.2 393.3 L865.5 392.5 L865.8 392.1 L866.0 391.5 L866.2 391.2 L866.5 390.6 L866.8 390.1 L867.0 389.6 L867.3 389.4 L867.5 389.3 L867.8 389.1 L868.0 388.7 L868.2 389.1 L868.5 388.9 L868.8 388.9 L869.0 389.3 L869.2 389.4 L869.5 389.7 L869.8 390.0 L870.0 390.4 L870.2 390.7 L870.5 390.8 L870.8 391.5 L871.0 391.7 L871.3 392.3 L871.5 392.6 L871.8 392.9 L872.0 393.2 L872.2 393.7 L872.5 393.8 L872.8 394.0 L873.0 394.4 L873.2 394.2 L873.5 394.7 L873.8 395.0 L874.0 395.0 L874.2 395.3 L874.5 395.2 L874.8 395.2 L875.0 395.0 L875.3 395.1 L875.5 394.7 L875.8 394.6 L876.0 394.5 L876.2 394.2 L876.5 394.1 L876.8 393.4 L877.0 392.7 L877.2 392.6 L877.5 392.2 L877.8 391.4 L878.0 391.1 L878.3 390.5 L878.5 389.5 L878.8 388.9 L879.0 388.1 L879.3 387.8 L879.5 387.2 L879.8 386.7 L880.0 386.0 L880.3 385.7 L880.5 385.3 L880.7 385.2 L881.0 385.2 L881.2 385.2 L881.5 385.6 L881.8 385.9 L882.0 386.3 L882.3 386.6 L882.5 386.9 L882.8 387.5 L883.0 388.0 L883.3 388.4 L883.5 389.0 L883.8 389.5 L884.0 390.0 L884.3 390.6 L884.5 391.0 L884.7 391.9 L885.0 392.0 L885.2 392.8 L885.5 393.1 L885.8 393.9 L886.0 394.3 L886.3 394.5 L886.5 394.9 L886.8 395.2 L887.0 395.7 L887.3 396.0 L887.5 396.6 L887.8 396.3 L888.0 396.9 L888.3 396.9 L888.5 397.1 L888.7 397.4 L889.0 397.5 L889.2 397.6 L889.5 397.6 L889.8 397.8 L890.0 397.9 L890.3 398.1 L890.5 397.8 L890.8 398.0 L891.0 397.9 L891.3 398.0 L891.5 398.1 L891.8 398.3 L892.0 398.5 L892.3 398.4 L892.5 398.1 L892.8 398.3 L893.0 398.1 L893.2 398.3 L893.5 398.4 L893.8 398.3 L894.0 398.4 L894.3 398.2 L894.5 398.0 L894.8 397.9 L895.0 398.1 L895.3 398.2 L895.5 398.2 L895.8 398.0 L896.0 398.0 L896.3 397.9 L896.5 397.9 L896.8 397.7 L897.0 397.4 L897.2 397.6 L897.5 397.3 L897.8 397.2 L898.0 396.7 L898.3 396.7 L898.5 396.2 L898.8 395.9 L899.0 395.8 L899.3 395.4 L899.5 395.2 L899.8 394.9 L900.0 394.2 L900.3 394.0 L900.5 393.1 L900.8 392.7 L901.0 391.9 L901.2 391.4 L901.5 390.7 L901.8 390.1 L902.0 389.6 L902.3 388.6 L902.5 388.2 L902.8 387.5 L903.0 387.1 L903.2 386.7 L903.5 386.2 L903.8 386.0 L904.0 385.7 L904.2 385.9 L904.5 385.8 L904.8 386.1 L905.0 386.1 L905.2 386.8 L905.5 386.8 L905.8 387.5 L906.0 387.7 L906.3 388.3 L906.5 388.7 L906.8 389.3 L907.0 389.8 L907.2 390.5 L907.5 390.9 L907.8 391.4 L908.0 392.1 L908.2 392.3 L908.5 393.1 L908.8 393.4 L909.0 393.7 L909.2 394.4 L909.5 394.8 L909.8 395.4 L910.0 395.5 L910.3 395.9 L910.5 396.2 L910.8 396.3 L911.0 396.8 L911.2 396.9 L911.5 397.4 L911.8 397.7 L912.0 397.6 L912.2 397.6 L912.5 397.9 L912.8 398.1 L913.0 398.3 L913.2 398.2 L913.5 398.2 L913.8 398.4 L914.0 398.4 L914.3 398.8 L914.5 398.6 L914.8 398.6 L915.0 398.8 L915.2 398.7 L915.5 398.8 L915.8 398.9 L916.0 398.9 L916.2 398.9 L916.5 399.2 L916.8 399.1 L917.0 398.9 L917.2 399.0 L917.5 399.2 L917.8 399.0 L918.0 399.2 L918.3 399.2 L918.5 399.3 L918.8 399.2 L919.0 399.2 L919.3 399.1 L919.5 399.3 L919.8 399.2 L920.0 399.5 L920.2 399.3 L920.5 399.3 L920.8 399.4 L921.0 399.3 L921.3 399.4 L921.5 399.4 L921.8 399.3 L922.0 399.3 L922.3 399.3 L922.5 399.6 L922.8 399.3 L923.0 399.4 L923.3 399.4 L923.5 399.5 L923.7 399.7 L924.0 399.3 L924.2 399.5 L924.5 399.5 L924.8 399.4 L925.0 399.5 L925.3 399.3 L925.5 399.6 L925.8 399.5 L926.0 399.4 L926.3 399.7 L926.5 399.6 L926.8 399.7 L927.0 399.3 L927.3 399.5 L927.5 399.5 L927.7 399.6 L928.0 399.7 L928.2 399.3 L928.5 399.6 L928.8 399.5 L929.0 399.7 L929.3 399.6 L929.5 399.4 L929.8 399.5 L930.0 399.4 L930.3 399.5 L930.5 399.6 L930.8 399.5 L931.0 399.6 L931.3 399.4 L931.5 399.9 L931.7 399.8 L932.0 399.7 L932.2 399.4 L932.5 399.3 L932.8 399.5 L933.0 399.6 L933.3 399.9 L933.5 399.8 L933.8 399.5 L934.0 399.8 L934.3 399.8 L934.5 399.6 L934.8 399.8 L935.0 399.7 L935.3 399.5 L935.5 399.5 L935.8 399.6 L936.0 399.8 L936.2 399.5 L936.5 399.4 L936.8 399.7 L937.0 399.3 L937.3 399.9 L937.5 399.6 L937.8 399.7 L938.0 399.9 L938.3 399.5 L938.5 399.5 L938.8 400.0 L939.0 399.6 L939.3 399.6 L939.5 399.7 L939.8 399.8 L940.0 399.8 L940.2 399.7 L940.5 399.6 L940.8 399.7 L941.0 399.7 L941.3 399.8 L941.5 399.7 L941.8 399.9 L942.0 399.6 L942.3 399.7 L942.5 399.9 L942.8 399.8 L943.0 399.7 L943.2 399.6 L943.5 399.6 L943.8 399.7 L944.0 399.7 L944.2 399.6 L944.5 399.5 L944.8 399.6 L945.0 399.8 L945.3 399.8 L945.5 399.5 L945.8 399.6 L946.0 399.5" fill="none" stroke="#2464c2" stroke-width="2.4" stroke-linejoin="round"/><path d="M79.0 287.6 L79.2 288.2 L79.5 287.7 L79.7 287.6 L80.0 287.6 L80.2 287.5 L80.5 287.4 L80.7 287.7 L81.0 287.7 L81.2 287.9 L81.5 287.5 L81.7 287.7 L82.0 287.9 L82.2 287.4 L82.5 287.8 L82.7 287.5 L83.0 287.8 L83.2 287.9 L83.5 287.7 L83.7 287.7 L84.0 287.6 L84.2 287.7 L84.5 287.8 L84.7 287.7 L85.0 287.7 L85.2 287.7 L85.5 287.8 L85.7 287.5 L86.0 287.7 L86.2 287.6 L86.5 287.8 L86.8 287.8 L87.0 287.7 L87.2 287.9 L87.5 287.6 L87.8 287.6 L88.0 287.6 L88.2 287.7 L88.5 287.7 L88.8 287.7 L89.0 287.5 L89.2 287.7 L89.5 287.6 L89.8 287.8 L90.0 287.7 L90.2 287.8 L90.5 287.7 L90.8 287.4 L91.0 287.7 L91.2 287.5 L91.5 287.8 L91.8 287.9 L92.0 287.7 L92.2 287.7 L92.5 287.5 L92.8 287.4 L93.0 287.6 L93.3 287.7 L93.5 287.5 L93.8 287.7 L94.0 287.7 L94.3 287.8 L94.5 287.9 L94.8 287.8 L95.0 287.6 L95.3 287.7 L95.5 287.8 L95.8 287.5 L96.0 287.9 L96.3 287.8 L96.5 287.7 L96.8 287.6 L97.0 288.2 L97.3 287.8 L97.5 287.8 L97.8 287.9 L98.0 287.8 L98.3 287.7 L98.5 287.8 L98.8 287.6 L99.0 287.8 L99.3 287.5 L99.5 287.7 L99.8 287.8 L100.0 287.5 L100.2 287.9 L100.5 287.5 L100.8 287.8 L101.0 287.6 L101.2 287.7 L101.5 287.6 L101.7 288.0 L102.0 287.8 L102.2 287.9 L102.5 287.8 L102.7 287.8 L103.0 287.7 L103.2 287.7 L103.5 287.8 L103.7 287.7 L104.0 287.7 L104.2 287.5 L104.5 287.6 L104.7 287.8 L105.0 287.6 L105.2 287.7 L105.5 287.7 L105.7 287.6 L106.0 287.6 L106.2 287.6 L106.5 287.6 L106.8 287.7 L107.0 287.8 L107.2 287.5 L107.5 287.4 L107.8 287.8 L108.0 287.6 L108.2 287.7 L108.5 288.0 L108.8 287.9 L109.0 287.8 L109.2 287.8 L109.5 287.7 L109.8 287.8 L110.0 287.6 L110.2 287.6 L110.5 287.6 L110.8 287.9 L111.0 287.9 L111.2 287.6 L111.5 287.8 L111.8 287.7 L112.0 287.8 L112.2 287.6 L112.5 287.8 L112.8 287.7 L113.0 287.6 L113.2 287.7 L113.5 287.7 L113.8 287.6 L114.0 287.5 L114.2 287.9 L114.5 287.6 L114.8 287.4 L115.0 287.4 L115.3 287.3 L115.5 287.6 L115.8 287.9 L116.0 287.5 L116.3 287.6 L116.5 287.4 L116.8 287.8 L117.0 287.7 L117.3 287.7 L117.5 287.9 L117.8 287.9 L118.0 287.8 L118.3 287.6 L118.5 287.5 L118.8 287.5 L119.0 287.5 L119.3 287.9 L119.5 287.7 L119.8 287.7 L120.0 287.7 L120.3 288.0 L120.5 287.6 L120.7 287.8 L121.0 287.7 L121.3 287.7 L121.5 287.4 L121.7 287.8 L122.0 287.6 L122.3 287.6 L122.5 287.7 L122.7 287.7 L123.0 287.8 L123.2 287.6 L123.5 287.7 L123.7 287.7 L124.0 287.7 L124.2 287.8 L124.5 287.7 L124.7 287.8 L125.0 287.6 L125.2 287.5 L125.5 287.7 L125.7 287.8 L126.0 287.6 L126.2 287.6 L126.5 287.6 L126.8 287.7 L127.0 287.7 L127.2 287.7 L127.5 287.5 L127.8 287.9 L128.0 287.8 L128.2 287.6 L128.5 287.9 L128.8 287.7 L129.0 287.9 L129.2 287.5 L129.5 287.9 L129.8 287.7 L130.0 287.4 L130.2 287.8 L130.5 287.6 L130.8 287.6 L131.0 287.7 L131.2 287.4 L131.5 287.8 L131.8 287.7 L132.0 287.6 L132.2 287.9 L132.5 287.7 L132.8 287.6 L133.0 287.6 L133.2 287.7 L133.5 287.8 L133.8 287.6 L134.0 287.5 L134.2 287.8 L134.5 287.7 L134.8 287.7 L135.0 288.0 L135.2 287.5 L135.5 287.7 L135.8 287.4 L136.0 287.6 L136.2 287.8 L136.5 287.8 L136.8 287.5 L137.0 287.8 L137.2 287.8 L137.5 287.7 L137.8 288.0 L138.0 287.7 L138.3 287.6 L138.5 287.7 L138.8 287.4 L139.0 287.9 L139.3 287.8 L139.5 287.6 L139.8 287.8 L140.0 287.8 L140.3 287.9 L140.5 287.6 L140.8 287.5 L141.0 287.4 L141.2 287.6 L141.5 287.5 L141.8 287.7 L142.0 287.7 L142.2 287.6 L142.5 287.6 L142.8 287.8 L143.0 287.7 L143.2 287.7 L143.5 287.8 L143.8 287.5 L144.0 287.6 L144.2 288.0 L144.5 287.7 L144.8 287.5 L145.0 287.6 L145.2 287.6 L145.5 287.5 L145.8 287.6 L146.0 287.7 L146.2 287.7 L146.5 287.8 L146.8 287.4 L147.0 287.5 L147.2 287.8 L147.5 287.6 L147.8 287.8 L148.0 287.7 L148.2 287.5 L148.5 287.8 L148.8 287.5 L149.0 287.7 L149.2 287.8 L149.5 288.0 L149.8 287.7 L150.0 287.8 L150.2 287.7 L150.5 287.8 L150.8 287.3 L151.0 287.6 L151.2 287.7 L151.5 287.7 L151.8 287.6 L152.0 287.8 L152.2 287.8 L152.5 287.7 L152.8 287.6 L153.0 287.6 L153.2 287.7 L153.5 287.8 L153.8 287.9 L154.0 287.6 L154.2 287.6 L154.5 287.6 L154.8 287.8 L155.0 287.7 L155.2 287.7 L155.5 287.7 L155.8 287.7 L156.0 287.7 L156.2 287.5 L156.5 287.6 L156.8 287.7 L157.0 287.7 L157.2 287.6 L157.5 287.6 L157.8 287.9 L158.0 287.6 L158.2 287.7 L158.5 287.6 L158.8 287.6 L159.0 287.5 L159.2 287.6 L159.5 287.6 L159.8 287.8 L160.0 287.5 L160.2 287.6 L160.5 287.8 L160.8 287.7 L161.0 287.7 L161.3 287.8 L161.5 287.5 L161.7 287.6 L162.0 287.6 L162.3 287.9 L162.5 287.7 L162.7 287.8 L163.0 287.9 L163.3 287.6 L163.5 287.7 L163.8 287.7 L164.0 287.7 L164.3 287.9 L164.5 287.8 L164.8 287.8 L165.0 287.7 L165.3 287.6 L165.5 287.6 L165.8 287.6 L166.0 287.5 L166.3 287.7 L166.5 287.8 L166.8 287.7 L167.0 287.6 L167.2 287.7 L167.5 287.7 L167.8 287.7 L168.0 287.9 L168.2 287.6 L168.5 287.7 L168.8 287.8 L169.0 287.7 L169.2 287.7 L169.5 287.6 L169.8 287.6 L170.0 287.8 L170.2 287.9 L170.5 287.6 L170.8 287.8 L171.0 287.8 L171.2 287.8 L171.5 287.7 L171.8 287.8 L172.0 287.8 L172.2 287.5 L172.5 287.7 L172.8 287.5 L173.0 287.4 L173.2 287.6 L173.5 287.5 L173.8 287.8 L174.0 287.8 L174.2 287.7 L174.5 287.7 L174.8 287.7 L175.0 287.7 L175.2 287.7 L175.5 287.7 L175.8 287.6 L176.0 287.6 L176.2 287.6 L176.5 287.8 L176.8 287.6 L177.0 287.9 L177.2 287.7 L177.5 287.9 L177.8 287.5 L178.0 287.6 L178.2 287.8 L178.5 287.8 L178.8 287.7 L179.0 288.0 L179.2 287.7 L179.5 287.7 L179.8 287.6 L180.0 287.9 L180.2 287.8 L180.5 287.8 L180.8 287.5 L181.0 287.8 L181.3 287.6 L181.5 287.8 L181.8 287.8 L182.0 287.6 L182.3 287.7 L182.5 287.8 L182.8 287.7 L183.0 287.7 L183.2 287.6 L183.5 287.6 L183.8 287.5 L184.0 287.8 L184.2 287.7 L184.5 287.5 L184.8 287.7 L185.0 287.5 L185.2 287.3 L185.5 287.9 L185.8 287.9 L186.0 287.5 L186.2 287.6 L186.5 287.7 L186.8 287.7 L187.0 287.6 L187.2 287.6 L187.5 287.7 L187.8 287.6 L188.0 287.7 L188.2 287.7 L188.5 287.6 L188.8 287.7 L189.0 287.5 L189.2 287.9 L189.5 287.5 L189.8 287.7 L190.0 287.8 L190.2 287.8 L190.5 287.7 L190.8 287.9 L191.0 287.6 L191.2 287.7 L191.5 287.7 L191.8 287.6 L192.0 287.6 L192.2 287.9 L192.5 287.6 L192.8 287.6 L193.0 287.7 L193.2 287.7 L193.5 287.7 L193.8 287.7 L194.0 287.8 L194.2 287.7 L194.5 287.8 L194.8 287.9 L195.0 287.6 L195.2 287.9 L195.5 287.7 L195.8 287.8 L196.0 287.7 L196.2 287.7 L196.5 287.5 L196.8 287.9 L197.0 287.6 L197.2 287.6 L197.5 287.8 L197.8 287.7 L198.0 288.0 L198.2 287.9 L198.5 287.8 L198.8 287.7 L199.0 287.8 L199.2 287.5 L199.5 287.7 L199.8 287.7 L200.0 287.7 L200.2 287.7 L200.5 287.5 L200.8 287.8 L201.0 287.9 L201.2 287.5 L201.5 287.7 L201.7 287.9 L202.0 287.8 L202.3 287.6 L202.5 287.6 L202.7 287.8 L203.0 287.9 L203.3 287.6 L203.5 287.7 L203.7 287.6 L204.0 287.7 L204.3 287.8 L204.5 287.7 L204.8 287.6 L205.0 288.0 L205.3 287.7 L205.5 287.7 L205.8 287.9 L206.0 287.7 L206.3 287.7 L206.5 287.8 L206.8 287.6 L207.0 287.8 L207.3 287.8 L207.5 287.8 L207.7 287.7 L208.0 287.7 L208.3 287.5 L208.5 287.7 L208.7 287.7 L209.0 287.8 L209.3 287.7 L209.5 287.7 L209.7 287.6 L210.0 287.7 L210.3 287.7 L210.5 287.9 L210.8 287.7 L211.0 287.6 L211.3 287.7 L211.5 287.6 L211.8 287.7 L212.0 287.4 L212.3 287.5 L212.5 287.5 L212.8 287.8 L213.0 287.7 L213.2 287.7 L213.5 287.8 L213.8 287.6 L214.0 287.8 L214.2 287.7 L214.5 287.6 L214.8 287.9 L215.0 287.5 L215.2 287.5 L215.5 287.7 L215.8 287.7 L216.0 287.7 L216.2 287.4 L216.5 287.7 L216.8 287.7 L217.0 288.0 L217.2 287.9 L217.5 287.7 L217.8 287.5 L218.0 287.7 L218.2 287.5 L218.5 287.7 L218.8 287.7 L219.0 287.6 L219.2 287.7 L219.5 287.6 L219.8 287.6 L220.0 287.9 L220.3 287.7 L220.5 287.6 L220.8 287.6 L221.0 287.7 L221.3 287.7 L221.5 287.8 L221.8 287.9 L222.0 287.7 L222.3 287.5 L222.5 287.9 L222.8 287.8 L223.0 287.8 L223.2 287.8 L223.5 287.5 L223.8 287.6 L224.0 287.6 L224.2 287.8 L224.5 287.5 L224.8 287.6 L225.0 287.8 L225.2 287.7 L225.5 287.6 L225.8 287.9 L226.0 287.5 L226.2 287.7 L226.5 287.6 L226.8 287.7 L227.0 287.6 L227.2 287.5 L227.5 287.6 L227.8 287.4 L228.0 287.7 L228.2 287.5 L228.5 287.7 L228.8 287.5 L229.0 287.5 L229.2 287.6 L229.5 287.7 L229.8 287.3 L230.0 287.6 L230.2 287.6 L230.5 287.4 L230.8 287.4 L231.0 287.6 L231.2 287.4 L231.5 287.4 L231.8 287.7 L232.0 287.4 L232.2 287.4 L232.5 287.2 L232.8 287.3 L233.0 287.3 L233.2 287.6 L233.5 287.6 L233.8 287.2 L234.0 287.6 L234.2 287.5 L234.5 287.3 L234.8 287.4 L235.0 287.3 L235.2 287.2 L235.5 287.0 L235.8 287.1 L236.0 287.2 L236.2 287.1 L236.5 287.0 L236.8 287.2 L237.0 286.9 L237.2 287.1 L237.5 286.9 L237.8 286.9 L238.0 286.7 L238.2 286.8 L238.5 286.6 L238.8 286.4 L239.0 286.6 L239.2 286.5 L239.5 286.5 L239.8 286.3 L240.0 286.0 L240.3 285.9 L240.5 285.4 L240.8 285.4 L241.0 285.5 L241.3 285.2 L241.5 284.8 L241.8 284.3 L242.0 283.9 L242.3 283.3 L242.5 282.2 L242.8 281.4 L243.0 280.6 L243.3 279.2 L243.5 277.4 L243.8 275.3 L244.0 272.9 L244.3 270.3 L244.5 267.6 L244.7 265.2 L245.0 264.1 L245.3 263.8 L245.5 264.6 L245.7 266.4 L246.0 268.1 L246.3 270.1 L246.5 272.4 L246.7 274.3 L247.0 276.6 L247.3 278.3 L247.5 279.7 L247.7 281.0 L248.0 282.1 L248.3 282.7 L248.5 283.3 L248.8 284.3 L249.0 284.5 L249.3 285.0 L249.5 285.1 L249.8 285.5 L250.0 285.6 L250.3 285.9 L250.5 286.0 L250.8 286.1 L251.0 286.5 L251.3 286.4 L251.5 286.2 L251.8 286.6 L252.0 286.6 L252.3 286.6 L252.5 286.7 L252.8 286.8 L253.0 286.9 L253.3 286.9 L253.5 286.8 L253.8 287.0 L254.0 287.2 L254.3 286.9 L254.5 287.2 L254.8 287.2 L255.0 287.2 L255.3 287.3 L255.5 287.2 L255.8 287.2 L256.0 287.2 L256.2 287.4 L256.5 287.5 L256.8 287.3 L257.0 287.5 L257.3 287.1 L257.5 287.3 L257.8 287.3 L258.0 287.6 L258.2 287.3 L258.5 287.5 L258.8 287.2 L259.0 287.5 L259.3 287.5 L259.5 287.5 L259.8 287.1 L260.0 287.5 L260.2 287.6 L260.5 287.7 L260.8 287.5 L261.0 287.3 L261.3 287.5 L261.5 287.6 L261.8 287.4 L262.0 287.6 L262.2 287.4 L262.5 287.5 L262.8 287.6 L263.0 287.4 L263.3 287.9 L263.5 287.5 L263.8 287.6 L264.0 287.4 L264.2 287.5 L264.5 287.5 L264.8 287.3 L265.0 287.3 L265.3 287.6 L265.5 287.5 L265.8 287.2 L266.0 287.2 L266.2 287.5 L266.5 287.5 L266.8 287.6 L267.0 287.4 L267.2 287.6 L267.5 287.5 L267.8 287.4 L268.0 287.5 L268.2 287.6 L268.5 287.6 L268.8 287.6 L269.0 287.4 L269.2 287.5 L269.5 287.3 L269.8 287.4 L270.0 287.4 L270.2 287.4 L270.5 287.6 L270.8 287.5 L271.0 287.6 L271.2 287.5 L271.5 287.6 L271.8 287.5 L272.0 287.6 L272.2 287.5 L272.5 287.5 L272.8 287.4 L273.0 287.2 L273.2 287.2 L273.5 287.6 L273.8 287.4 L274.0 287.4 L274.2 287.3 L274.5 287.3 L274.8 287.7 L275.0 287.2 L275.2 287.3 L275.5 287.3 L275.8 287.1 L276.0 287.1 L276.2 287.1 L276.5 287.2 L276.8 287.1 L277.0 287.3 L277.2 287.0 L277.5 287.1 L277.8 287.3 L278.0 287.1 L278.2 286.8 L278.5 286.6 L278.8 287.0 L279.0 286.9 L279.2 286.7 L279.5 286.9 L279.8 286.6 L280.0 286.6 L280.2 286.4 L280.5 286.5 L280.8 286.3 L281.0 286.2 L281.2 286.3 L281.5 286.0 L281.8 285.6 L282.0 285.7 L282.2 285.5 L282.5 285.1 L282.8 284.8 L283.0 284.5 L283.2 284.1 L283.5 283.6 L283.8 283.1 L284.0 282.2 L284.2 281.6 L284.5 280.1 L284.8 278.8 L285.0 277.6 L285.2 275.9 L285.5 273.6 L285.8 271.6 L286.0 269.8 L286.2 269.0 L286.5 268.4 L286.8 268.6 L287.0 269.7 L287.2 271.1 L287.5 272.5 L287.8 274.2 L288.0 275.7 L288.2 277.1 L288.5 278.5 L288.8 279.9 L289.0 281.0 L289.2 281.9 L289.5 282.7 L289.8 283.2 L290.0 283.8 L290.2 284.3 L290.5 284.4 L290.8 284.6 L291.0 285.2 L291.2 285.3 L291.5 285.3 L291.8 285.5 L292.0 285.6 L292.2 285.5 L292.5 285.8 L292.8 285.7 L293.0 285.9 L293.2 285.9 L293.5 286.1 L293.8 286.0 L294.0 286.1 L294.3 286.0 L294.5 286.0 L294.8 285.8 L295.0 286.1 L295.3 286.0 L295.5 285.9 L295.8 285.9 L296.0 285.8 L296.3 285.7 L296.5 285.8 L296.8 285.8 L297.0 285.5 L297.3 285.3 L297.5 285.3 L297.8 285.5 L298.0 285.0 L298.3 285.1 L298.5 284.7 L298.8 284.7 L299.0 284.3 L299.2 283.9 L299.5 283.8 L299.8 283.7 L300.0 283.1 L300.3 282.7 L300.5 282.1 L300.8 281.5 L301.0 280.9 L301.2 280.1 L301.5 279.3 L301.8 277.8 L302.0 276.3 L302.3 274.4 L302.5 272.2 L302.8 269.5 L303.0 266.7 L303.2 262.7 L303.5 258.9 L303.8 254.2 L304.0 249.3 L304.3 244.8 L304.5 241.6 L304.8 239.9 L305.0 240.2 L305.2 241.6 L305.5 244.4 L305.8 247.8 L306.0 251.4 L306.3 255.2 L306.5 258.9 L306.8 262.7 L307.0 266.3 L307.2 269.3 L307.5 272.1 L307.8 274.5 L308.0 276.2 L308.3 277.6 L308.5 279.1 L308.8 279.9 L309.0 280.7 L309.2 281.8 L309.5 282.0 L309.8 282.6 L310.0 283.1 L310.3 283.7 L310.5 283.8 L310.8 284.3 L311.0 284.4 L311.2 284.5 L311.5 284.9 L311.8 285.1 L312.0 285.1 L312.3 285.3 L312.5 285.5 L312.8 285.8 L313.0 285.9 L313.2 285.9 L313.5 286.1 L313.8 286.0 L314.0 286.2 L314.2 286.2 L314.5 286.1 L314.7 286.3 L315.0 286.5 L315.2 286.5 L315.5 286.7 L315.8 286.4 L316.0 286.6 L316.2 286.7 L316.5 286.6 L316.7 286.8 L317.0 286.7 L317.2 286.6 L317.5 287.0 L317.8 286.7 L318.0 287.0 L318.2 286.8 L318.5 286.8 L318.7 286.8 L319.0 286.8 L319.2 286.8 L319.5 287.0 L319.8 286.7 L320.0 287.2 L320.2 287.1 L320.5 287.2 L320.8 286.9 L321.0 286.7 L321.2 286.9 L321.5 287.0 L321.8 287.1 L322.0 287.0 L322.2 287.0 L322.5 287.1 L322.8 286.8 L323.0 287.3 L323.2 286.9 L323.5 287.1 L323.8 287.2 L324.0 286.9 L324.2 287.0 L324.5 287.2 L324.8 287.0 L325.0 287.1 L325.2 287.0 L325.5 287.0 L325.8 287.1 L326.0 286.9 L326.2 286.9 L326.5 287.1 L326.8 287.0 L327.0 287.0 L327.2 286.7 L327.5 286.9 L327.8 287.0 L328.0 286.9 L328.2 286.8 L328.5 286.7 L328.8 286.6 L329.0 286.8 L329.2 286.8 L329.5 286.6 L329.8 286.7 L330.0 286.5 L330.2 286.6 L330.5 286.3 L330.8 286.4 L331.0 286.1 L331.2 286.3 L331.5 286.2 L331.8 285.9 L332.0 285.8 L332.2 285.8 L332.5 285.5 L332.8 285.4 L333.0 285.3 L333.2 285.3 L333.5 285.2 L333.8 284.8 L334.0 284.5 L334.2 284.3 L334.5 283.8 L334.8 283.5 L335.0 283.1 L335.3 282.5 L335.5 281.7 L335.8 280.8 L336.0 280.1 L336.2 278.6 L336.5 277.3 L336.8 275.5 L337.0 273.6 L337.3 271.5 L337.5 269.0 L337.8 266.7 L338.0 264.4 L338.2 262.5 L338.5 261.3 L338.8 261.6 L339.0 262.0 L339.3 263.5 L339.5 264.9 L339.8 266.5 L340.0 268.6 L340.2 270.4 L340.5 272.4 L340.8 274.1 L341.0 276.0 L341.3 277.6 L341.5 278.6 L341.8 280.0 L342.0 280.6 L342.2 281.5 L342.5 281.9 L342.8 282.4 L343.0 283.3 L343.3 283.6 L343.5 283.9 L343.8 283.8 L344.0 284.2 L344.2 284.4 L344.5 284.5 L344.8 284.7 L345.0 284.6 L345.3 284.8 L345.5 284.7 L345.8 284.9 L346.0 285.0 L346.2 284.9 L346.5 285.0 L346.8 285.0 L347.0 285.0 L347.3 285.1 L347.5 285.0 L347.8 285.0 L348.0 284.7 L348.2 284.8 L348.5 284.9 L348.8 284.6 L349.0 284.6 L349.3 284.4 L349.5 284.6 L349.8 284.2 L350.0 284.1 L350.2 284.1 L350.5 284.0 L350.8 283.8 L351.0 283.6 L351.3 283.3 L351.5 283.0 L351.8 282.7 L352.0 282.4 L352.2 282.1 L352.5 281.8 L352.8 281.4 L353.0 281.0 L353.3 280.5 L353.5 279.9 L353.8 279.1 L354.0 278.4 L354.2 277.6 L354.5 276.5 L354.8 275.7 L355.0 274.2 L355.3 272.7 L355.5 271.0 L355.8 269.1 L356.0 266.5 L356.2 263.6 L356.5 259.9 L356.8 255.5 L357.0 250.6 L357.2 244.6 L357.5 237.6 L357.7 229.6 L358.0 220.9 L358.2 211.7 L358.5 202.9 L358.8 195.2 L359.0 189.8 L359.2 187.2 L359.5 187.7 L359.7 190.9 L360.0 195.9 L360.2 202.4 L360.5 209.1 L360.8 216.5 L361.0 223.7 L361.2 231.1 L361.5 238.2 L361.7 244.5 L362.0 250.3 L362.2 255.1 L362.5 259.6 L362.8 263.1 L363.0 266.3 L363.2 268.8 L363.5 270.7 L363.7 272.9 L364.0 274.5 L364.2 275.5 L364.5 276.7 L364.8 277.8 L365.0 278.7 L365.2 279.2 L365.5 280.3 L365.7 280.8 L366.0 281.1 L366.2 281.5 L366.5 282.2 L366.8 282.7 L367.0 282.9 L367.2 283.3 L367.5 283.3 L367.8 283.7 L368.0 283.7 L368.2 284.4 L368.5 284.4 L368.8 284.3 L369.0 284.5 L369.2 284.9 L369.5 285.0 L369.8 285.1 L370.0 285.4 L370.3 285.7 L370.5 285.6 L370.8 285.4 L371.0 285.7 L371.3 285.6 L371.5 285.8 L371.8 286.0 L372.0 286.0 L372.3 286.0 L372.5 286.2 L372.8 286.2 L373.0 286.4 L373.3 286.4 L373.5 286.5 L373.8 286.5 L374.0 286.6 L374.3 286.6 L374.5 286.6 L374.8 286.6 L375.0 286.7 L375.3 286.5 L375.5 287.1 L375.8 286.7 L376.0 286.9 L376.3 286.8 L376.5 286.9 L376.8 287.0 L377.0 286.9 L377.3 287.0 L377.5 286.9 L377.8 287.0 L378.0 286.9 L378.3 287.4 L378.5 287.0 L378.8 287.0 L379.0 287.2 L379.2 287.4 L379.5 287.0 L379.8 287.0 L380.0 287.3 L380.3 287.3 L380.5 287.1 L380.8 287.1 L381.0 287.2 L381.2 287.4 L381.5 287.4 L381.8 287.5 L382.0 287.4 L382.3 287.4 L382.5 287.5 L382.8 287.4 L383.0 287.5 L383.2 287.3 L383.5 287.4 L383.8 287.5 L384.0 287.5 L384.3 287.4 L384.5 287.6 L384.8 287.6 L385.0 287.5 L385.2 287.4 L385.5 287.7 L385.8 287.9 L386.0 287.5 L386.3 287.4 L386.5 287.5 L386.8 287.5 L387.0 287.4 L387.2 287.4 L387.5 287.7 L387.8 287.7 L388.0 287.8 L388.3 287.7 L388.5 287.6 L388.8 287.8 L389.0 287.6 L389.2 287.6 L389.5 287.5 L389.8 287.8 L390.0 287.8 L390.3 287.6 L390.5 287.6 L390.8 287.7 L391.0 287.7 L391.2 287.8 L391.5 287.7 L391.8 287.8 L392.0 287.5 L392.3 287.7 L392.5 287.5 L392.8 288.0 L393.0 287.9 L393.2 287.8 L393.5 287.9 L393.8 288.0 L394.0 287.9 L394.3 287.5 L394.5 287.7 L394.8 287.5 L395.0 287.7 L395.2 287.6 L395.5 287.8 L395.8 287.8 L396.0 287.7 L396.3 287.7 L396.5 287.8 L396.8 287.8 L397.0 287.8 L397.2 287.5 L397.5 287.7 L397.8 287.9 L398.0 287.8 L398.3 287.6 L398.5 287.8 L398.8 287.9 L399.0 287.7 L399.2 287.9 L399.5 287.7 L399.8 287.8 L400.0 287.8 L400.2 288.1 L400.5 287.8 L400.7 287.8 L401.0 287.9 L401.2 287.8 L401.5 287.9 L401.8 287.6 L402.0 287.9 L402.2 287.8 L402.5 287.7 L402.7 288.0 L403.0 287.8 L403.2 287.8 L403.5 287.7 L403.8 287.7 L404.0 287.8 L404.2 287.7 L404.5 287.9 L404.7 288.0 L405.0 287.8 L405.2 287.7 L405.5 287.8 L405.8 287.7 L406.0 287.9 L406.2 287.9 L406.5 287.8 L406.7 287.9 L407.0 288.0 L407.2 288.1 L407.5 287.8 L407.8 288.0 L408.0 287.9 L408.2 287.8 L408.5 288.1 L408.8 287.9 L409.0 287.9 L409.2 287.9 L409.5 287.9 L409.8 287.8 L410.0 288.1 L410.2 288.0 L410.5 287.9 L410.8 288.0 L411.0 288.1 L411.3 287.9 L411.5 288.0 L411.8 287.9 L412.0 288.0 L412.3 287.9 L412.5 288.2 L412.8 287.9 L413.0 288.0 L413.3 288.0 L413.5 287.9 L413.8 288.0 L414.0 287.9 L414.3 287.9 L414.5 287.9 L414.8 287.8 L415.0 288.1 L415.3 288.0 L415.5 288.0 L415.8 287.7 L416.0 288.0 L416.3 287.8 L416.5 287.9 L416.8 288.1 L417.0 288.0 L417.3 287.9 L417.5 288.1 L417.8 288.0 L418.0 288.2 L418.3 287.7 L418.5 288.0 L418.8 287.9 L419.0 287.8 L419.3 287.9 L419.5 287.8 L419.8 287.6 L420.0 287.8 L420.3 287.9 L420.5 288.2 L420.8 287.8 L421.0 287.8 L421.3 287.6 L421.5 287.9 L421.8 287.9 L422.0 287.9 L422.2 287.7 L422.5 287.8 L422.8 287.6 L423.0 287.9 L423.3 287.7 L423.5 287.5 L423.8 288.0 L424.0 287.9 L424.2 287.9 L424.5 287.9 L424.8 287.7 L425.0 288.0 L425.3 287.7 L425.5 288.0 L425.8 287.8 L426.0 287.5 L426.2 287.9 L426.5 288.0 L426.8 287.7 L427.0 287.8 L427.3 287.6 L427.5 287.5 L427.8 287.2 L428.0 287.7 L428.2 287.4 L428.5 287.4 L428.8 287.1 L429.0 287.0 L429.3 287.2 L429.5 286.8 L429.8 286.7 L430.0 286.4 L430.2 286.4 L430.5 286.4 L430.8 286.1 L431.0 286.0 L431.3 285.8 L431.5 286.1 L431.8 285.9 L432.0 286.0 L432.2 286.4 L432.5 286.2 L432.8 286.2 L433.0 286.4 L433.3 286.6 L433.5 287.0 L433.8 286.9 L434.0 287.0 L434.2 287.3 L434.5 287.4 L434.8 287.2 L435.0 287.6 L435.3 287.6 L435.5 287.6 L435.8 287.3 L436.0 287.7 L436.2 287.9 L436.5 287.7 L436.8 288.0 L437.0 287.8 L437.3 287.7 L437.5 287.9 L437.8 287.9 L438.0 287.9 L438.2 287.8 L438.5 288.0 L438.8 287.8 L439.0 287.9 L439.3 287.7 L439.5 287.8 L439.8 287.9 L440.0 287.8 L440.2 287.8 L440.5 287.9 L440.8 288.0 L441.0 288.0 L441.3 288.0 L441.5 288.1 L441.7 288.0 L442.0 287.9 L442.2 287.7 L442.5 287.9 L442.8 287.8 L443.0 287.7 L443.2 288.2 L443.5 287.7 L443.7 288.0 L444.0 288.0 L444.2 287.9 L444.5 288.3 L444.8 288.0 L445.0 287.9 L445.2 288.2 L445.5 287.9 L445.7 287.8 L446.0 287.8 L446.2 287.9 L446.5 288.0 L446.8 288.0 L447.0 287.8 L447.2 288.0 L447.5 288.3 L447.7 287.9 L448.0 287.9 L448.2 288.1 L448.5 288.1 L448.8 287.9 L449.0 287.8 L449.2 287.8 L449.5 288.1 L449.8 288.1 L450.0 287.7 L450.2 287.7 L450.5 287.8 L450.8 287.8 L451.0 288.0 L451.2 288.0 L451.5 288.2 L451.8 288.1 L452.0 288.0 L452.2 288.1 L452.5 287.8 L452.8 287.8 L453.0 288.0 L453.3 288.1 L453.5 287.7 L453.8 288.1 L454.0 288.1 L454.3 287.9 L454.5 288.0 L454.8 287.9 L455.0 288.0 L455.3 288.1 L455.5 287.8 L455.8 288.1 L456.0 288.1 L456.3 288.1 L456.5 287.7 L456.8 287.7 L457.0 288.0 L457.3 287.9 L457.5 287.8 L457.8 287.8 L458.0 287.8 L458.3 287.9 L458.5 287.8 L458.8 287.8 L459.0 288.0 L459.3 287.8 L459.5 288.1 L459.8 287.6 L460.0 288.2 L460.3 287.7 L460.5 288.0 L460.8 288.0 L461.0 287.9 L461.3 288.0 L461.5 287.9 L461.8 287.7 L462.0 287.9 L462.3 288.0 L462.5 287.8 L462.8 287.6 L463.0 287.8 L463.2 287.9 L463.5 287.9 L463.8 288.0 L464.0 287.9 L464.3 287.9 L464.5 287.6 L464.8 288.1 L465.0 287.8 L465.2 287.9 L465.5 287.8 L465.8 287.8 L466.0 287.8 L466.3 288.0 L466.5 288.0 L466.8 287.9 L467.0 288.0 L467.2 287.7 L467.5 287.8 L467.8 287.7 L468.0 287.9 L468.3 287.7 L468.5 287.8 L468.8 287.9 L469.0 287.4 L469.2 288.0 L469.5 287.7 L469.8 287.6 L470.0 287.4 L470.3 287.6 L470.5 287.3 L470.8 287.6 L471.0 287.6 L471.2 287.8 L471.5 287.5 L471.8 287.7 L472.0 287.7 L472.3 287.8 L472.5 287.4 L472.8 287.6 L473.0 287.2 L473.2 287.3 L473.5 287.3 L473.8 287.4 L474.0 287.2 L474.3 287.2 L474.5 287.4 L474.8 287.2 L475.0 287.2 L475.2 287.0 L475.5 287.3 L475.8 287.3 L476.0 287.1 L476.3 287.0 L476.5 287.2 L476.8 287.0 L477.0 286.7 L477.2 286.6 L477.5 286.6 L477.8 286.9 L478.0 286.5 L478.3 286.9 L478.5 286.4 L478.8 286.3 L479.0 286.4 L479.2 286.1 L479.5 286.0 L479.8 285.7 L480.0 285.5 L480.3 285.4 L480.5 285.4 L480.8 285.1 L481.0 284.7 L481.2 284.8 L481.5 284.5 L481.8 284.2 L482.0 283.8 L482.3 283.2 L482.5 283.3 L482.8 282.5 L483.0 282.0 L483.2 281.5 L483.5 280.6 L483.8 279.6 L484.0 278.5 L484.3 277.2 L484.5 275.9 L484.7 274.1 L485.0 272.1 L485.2 270.0 L485.5 267.5 L485.8 264.9 L486.0 262.0 L486.2 259.1 L486.5 256.0 L486.7 253.3 L487.0 250.9 L487.2 249.1 L487.5 248.2 L487.8 248.2 L488.0 249.0 L488.2 250.4 L488.5 251.9 L488.7 253.9 L489.0 256.1 L489.2 258.7 L489.5 260.9 L489.8 263.3 L490.0 265.9 L490.2 267.9 L490.5 270.3 L490.8 272.3 L491.0 274.1 L491.2 275.6 L491.5 277.3 L491.8 278.6 L492.0 279.3 L492.2 280.4 L492.5 281.3 L492.8 282.2 L493.0 282.4 L493.2 282.9 L493.5 283.4 L493.8 284.1 L494.0 284.2 L494.3 284.5 L494.5 285.0 L494.8 284.7 L495.0 284.9 L495.3 285.5 L495.5 285.7 L495.8 285.5 L496.0 285.9 L496.3 286.0 L496.5 286.2 L496.8 286.1 L497.0 286.3 L497.3 286.3 L497.5 286.5 L497.8 286.6 L498.0 286.9 L498.3 286.8 L498.5 286.6 L498.8 286.9 L499.0 287.1 L499.3 287.0 L499.5 287.2 L499.8 287.1 L500.0 287.2 L500.3 287.0 L500.5 287.3 L500.8 287.1 L501.0 287.4 L501.3 287.1 L501.5 287.1 L501.8 287.4 L502.0 287.4 L502.3 287.4 L502.5 287.5 L502.8 287.5 L503.0 287.4 L503.3 287.5 L503.5 287.6 L503.8 287.6 L504.0 287.8 L504.3 287.5 L504.5 287.6 L504.8 287.7 L505.0 287.6 L505.3 287.5 L505.5 287.6 L505.8 287.8 L506.0 287.7 L506.2 287.8 L506.5 287.6 L506.8 287.8 L507.0 287.7 L507.3 287.6 L507.5 287.8 L507.8 287.8 L508.0 288.0 L508.2 287.6 L508.5 287.9 L508.8 288.0 L509.0 288.0 L509.3 287.8 L509.5 287.7 L509.8 287.8 L510.0 287.9 L510.2 287.9 L510.5 287.9 L510.8 287.9 L511.0 287.7 L511.3 287.7 L511.5 287.7 L511.8 287.7 L512.0 287.9 L512.2 287.9 L512.5 288.2 L512.8 288.0 L513.0 287.9 L513.2 288.1 L513.5 287.8 L513.8 288.0 L514.0 288.1 L514.2 288.0 L514.5 288.0 L514.8 287.9 L515.0 287.8 L515.2 287.9 L515.5 287.9 L515.8 288.0 L516.0 287.9 L516.2 288.0 L516.5 287.7 L516.8 288.1 L517.0 287.8 L517.2 287.7 L517.5 287.8 L517.8 287.9 L518.0 288.1 L518.2 288.1 L518.5 287.8 L518.8 288.0 L519.0 287.9 L519.3 287.8 L519.5 287.8 L519.8 287.7 L520.0 287.8 L520.2 287.6 L520.5 287.9 L520.8 287.8 L521.0 287.9 L521.3 287.9 L521.5 288.1 L521.8 287.9 L522.0 288.0 L522.2 288.1 L522.5 288.1 L522.8 288.0 L523.0 287.9 L523.3 287.8 L523.5 287.8 L523.8 287.9 L524.0 287.9 L524.2 287.9 L524.5 288.1 L524.8 287.9 L525.0 288.2 L525.3 288.1 L525.5 287.9 L525.8 288.0 L526.0 287.5 L526.2 288.1 L526.5 288.0 L526.8 288.0 L527.0 287.7 L527.2 288.2 L527.5 287.8 L527.8 287.9 L528.0 288.0 L528.2 287.8 L528.5 287.7 L528.8 287.9 L529.0 287.7 L529.2 287.9 L529.5 287.8 L529.8 287.9 L530.0 287.6 L530.2 287.9 L530.5 287.8 L530.8 288.0 L531.0 287.6 L531.2 288.0 L531.5 287.8 L531.8 287.8 L532.0 287.6 L532.2 287.7 L532.5 287.7 L532.8 287.5 L533.0 287.4 L533.2 287.4 L533.5 287.7 L533.8 287.5 L534.0 287.5 L534.2 287.4 L534.5 287.4 L534.8 287.3 L535.0 287.2 L535.2 287.4 L535.5 287.2 L535.8 287.1 L536.0 286.8 L536.2 287.0 L536.5 286.7 L536.8 286.7 L537.0 286.7 L537.2 286.3 L537.5 286.3 L537.8 286.3 L538.0 286.1 L538.2 285.7 L538.5 285.6 L538.8 285.3 L539.0 284.7 L539.2 284.2 L539.5 283.8 L539.8 283.6 L540.0 282.9 L540.2 282.0 L540.5 281.4 L540.8 280.5 L541.0 279.6 L541.2 278.6 L541.5 277.8 L541.8 276.2 L542.0 275.2 L542.2 274.0 L542.5 273.1 L542.8 272.3 L543.0 272.0 L543.2 271.7 L543.5 272.0 L543.8 272.3 L544.0 272.7 L544.2 273.8 L544.5 274.1 L544.8 275.2 L545.0 276.3 L545.2 276.8 L545.5 278.0 L545.8 279.0 L546.0 279.7 L546.2 280.3 L546.5 281.6 L546.8 282.1 L547.0 282.7 L547.2 283.5 L547.5 283.8 L547.8 284.5 L548.0 284.7 L548.2 285.2 L548.5 285.3 L548.8 285.6 L549.0 285.8 L549.2 286.0 L549.5 286.3 L549.8 286.4 L550.0 286.6 L550.2 286.9 L550.5 286.8 L550.8 286.7 L551.0 287.0 L551.2 287.1 L551.5 287.3 L551.8 287.4 L552.0 287.4 L552.2 287.3 L552.5 287.5 L552.8 287.2 L553.0 287.7 L553.2 287.6 L553.5 287.6 L553.8 287.5 L554.0 287.6 L554.2 287.6 L554.5 287.8 L554.8 287.5 L555.0 287.9 L555.2 287.8 L555.5 288.0 L555.8 287.8 L556.0 287.8 L556.2 287.9 L556.5 287.9 L556.8 287.9 L557.0 287.7 L557.2 287.8 L557.5 287.8 L557.8 287.9 L558.0 287.8 L558.2 287.8 L558.5 287.9 L558.8 288.1 L559.0 288.0 L559.2 288.1 L559.5 288.1 L559.8 288.1 L560.0 288.0 L560.2 288.0 L560.5 287.8 L560.8 288.0 L561.0 288.1 L561.2 287.9 L561.5 288.2 L561.8 288.3 L562.0 288.0 L562.2 288.2 L562.5 287.9 L562.8 288.0 L563.0 288.1 L563.2 288.1 L563.5 288.1 L563.8 288.0 L564.0 288.4 L564.2 288.2 L564.5 288.2 L564.8 288.2 L565.0 288.2 L565.2 288.1 L565.5 288.1 L565.8 287.9 L566.0 288.4 L566.2 288.0 L566.5 287.9 L566.8 288.1 L567.0 288.0 L567.2 288.4 L567.5 288.2 L567.8 288.4 L568.0 288.4 L568.2 288.3 L568.5 288.3 L568.8 288.1 L569.0 288.2 L569.2 288.1 L569.5 288.2 L569.8 288.1 L570.0 288.4 L570.2 288.3 L570.5 288.2 L570.8 288.0 L571.0 288.3 L571.2 288.3 L571.5 288.2 L571.8 288.1 L572.0 288.3 L572.2 288.4 L572.5 288.0 L572.8 288.3 L573.0 288.0 L573.2 288.2 L573.5 288.5 L573.8 288.2 L574.0 288.3 L574.2 288.2 L574.5 288.2 L574.8 288.6 L575.0 288.4 L575.2 288.2 L575.5 288.2 L575.8 288.3 L576.0 288.5 L576.2 288.3 L576.5 288.4 L576.8 288.2 L577.0 288.1 L577.2 288.4 L577.5 288.2 L577.8 288.2 L578.0 288.2 L578.2 288.2 L578.5 288.2 L578.8 288.1 L579.0 288.4 L579.2 288.3 L579.5 288.4 L579.8 288.2 L580.0 288.3 L580.2 288.3 L580.5 288.4 L580.8 288.4 L581.0 288.3 L581.2 288.2 L581.5 288.1 L581.8 288.2 L582.0 288.2 L582.2 288.2 L582.5 288.1 L582.8 288.5 L583.0 288.3 L583.2 288.0 L583.5 288.1 L583.8 288.1 L584.0 288.3 L584.2 288.4 L584.5 288.2 L584.8 288.4 L585.0 288.3 L585.2 288.4 L585.5 288.5 L585.8 288.3 L586.0 288.4 L586.2 288.3 L586.5 288.2 L586.8 288.1 L587.0 288.3 L587.2 288.3 L587.5 288.3 L587.8 288.3 L588.0 288.3 L588.2 288.2 L588.5 288.2 L588.8 288.5 L589.0 288.3 L589.2 288.5 L589.5 288.2 L589.8 288.1 L590.0 288.3 L590.2 288.4 L590.5 288.2 L590.8 288.4 L591.0 288.4 L591.3 288.5 L591.5 288.3 L591.8 288.3 L592.0 288.1 L592.3 288.3 L592.5 288.4 L592.8 288.5 L593.0 288.2 L593.3 288.2 L593.5 288.2 L593.8 288.4 L594.0 288.0 L594.3 288.2 L594.5 288.6 L594.8 288.4 L595.0 288.1 L595.3 288.3 L595.5 288.4 L595.8 288.4 L596.0 288.3 L596.3 288.2 L596.5 288.4 L596.8 288.3 L597.0 288.4 L597.3 288.4 L597.5 288.3 L597.8 288.5 L598.0 288.3 L598.3 288.4 L598.5 288.3 L598.8 288.3 L599.0 288.3 L599.3 288.2 L599.5 288.4 L599.8 288.5 L600.0 288.6 L600.3 288.5 L600.5 288.3 L600.8 288.5 L601.0 288.4 L601.3 288.6 L601.5 288.2 L601.8 288.5 L602.0 288.3 L602.2 288.5 L602.5 288.3 L602.8 288.5 L603.0 288.3 L603.2 288.1 L603.5 288.2 L603.8 288.3 L604.0 288.3 L604.2 288.0 L604.5 288.2 L604.8 288.2 L605.0 288.3 L605.2 288.4 L605.5 288.2 L605.8 288.1 L606.0 288.4 L606.2 288.3 L606.5 288.5 L606.8 288.3 L607.0 288.4 L607.2 288.2 L607.5 288.4 L607.8 288.4 L608.0 288.4 L608.2 288.2 L608.5 288.3 L608.8 288.2 L609.0 288.3 L609.2 288.4 L609.5 288.7 L609.8 288.3 L610.0 288.4 L610.2 288.4 L610.5 288.5 L610.8 288.4 L611.0 288.5 L611.2 288.4 L611.5 288.7 L611.8 288.5 L612.0 288.1 L612.2 288.4 L612.5 288.3 L612.8 288.0 L613.0 288.2 L613.2 288.3 L613.5 288.2 L613.8 288.4 L614.0 288.1 L614.2 288.4 L614.5 288.4 L614.8 288.4 L615.0 288.3 L615.2 288.3 L615.5 288.3 L615.8 288.5 L616.0 288.4 L616.2 288.6 L616.5 288.3 L616.8 288.5 L617.0 288.3 L617.2 288.3 L617.5 288.2 L617.8 288.4 L618.0 288.3 L618.3 288.4 L618.5 288.5 L618.8 288.3 L619.0 288.4 L619.3 288.5 L619.5 288.3 L619.8 288.3 L620.0 288.4 L620.3 288.4 L620.5 288.4 L620.8 288.4 L621.0 288.2 L621.3 288.4 L621.5 288.5 L621.8 288.3 L622.0 288.4 L622.3 288.3 L622.5 288.4 L622.8 288.6 L623.0 288.4 L623.3 288.2 L623.5 288.4 L623.8 288.4 L624.0 288.5 L624.3 288.2 L624.5 288.2 L624.8 288.3 L625.0 288.1 L625.2 288.5 L625.5 288.1 L625.8 288.2 L626.0 288.1 L626.2 288.2 L626.5 288.4 L626.8 288.4 L627.0 288.5 L627.2 288.4 L627.5 288.1 L627.8 288.4 L628.0 288.1 L628.2 288.3 L628.5 288.3 L628.8 288.3 L629.0 288.4 L629.2 288.2 L629.5 288.6 L629.8 288.4 L630.0 288.5 L630.3 288.4 L630.5 288.4 L630.8 288.3 L631.0 288.6 L631.3 288.2 L631.5 288.4 L631.8 288.3 L632.0 288.3 L632.3 288.4 L632.5 288.2 L632.8 288.4 L633.0 288.4 L633.3 288.3 L633.5 288.4 L633.8 288.2 L634.0 288.1 L634.3 288.2 L634.5 288.3 L634.8 288.6 L635.0 288.3 L635.3 288.5 L635.5 288.4 L635.8 288.6 L636.0 288.3 L636.3 288.4 L636.5 288.3 L636.8 288.2 L637.0 288.2 L637.3 288.2 L637.5 288.5 L637.8 288.4 L638.0 288.3 L638.3 288.3 L638.5 288.2 L638.8 288.3 L639.0 288.3 L639.3 288.4 L639.5 288.4 L639.8 288.1 L640.0 288.3 L640.3 288.5 L640.5 288.2 L640.8 288.3 L641.0 288.3 L641.3 288.5 L641.5 288.4 L641.8 288.3 L642.0 288.4 L642.3 288.4 L642.5 288.4 L642.8 288.5 L643.0 288.4 L643.3 288.2 L643.5 288.2 L643.8 288.3 L644.0 288.3 L644.3 288.4 L644.5 288.3 L644.8 288.5 L645.0 288.4 L645.2 288.5 L645.5 288.2 L645.8 288.2 L646.0 288.4 L646.2 288.3 L646.5 288.4 L646.8 288.3 L647.0 288.2 L647.2 288.5 L647.5 288.4 L647.8 288.1 L648.0 288.2 L648.2 288.3 L648.5 288.4 L648.8 288.3 L649.0 288.1 L649.2 288.4 L649.5 288.3 L649.8 288.4 L650.0 288.3 L650.2 288.4 L650.5 288.4 L650.8 288.4 L651.0 288.2 L651.2 288.4 L651.5 288.3 L651.8 288.1 L652.0 288.2 L652.2 288.2 L652.5 288.3 L652.8 288.3 L653.0 288.1 L653.2 288.3 L653.5 288.2 L653.8 288.1 L654.0 288.4 L654.2 288.1 L654.5 288.1 L654.8 288.3 L655.0 288.4 L655.2 288.2 L655.5 288.4 L655.8 288.4 L656.0 288.2 L656.2 288.5 L656.5 288.2 L656.8 288.2 L657.0 287.9 L657.2 288.3 L657.5 288.1 L657.8 288.3 L658.0 288.0 L658.2 288.4 L658.5 288.4 L658.8 288.4 L659.0 287.8 L659.2 288.3 L659.5 288.2 L659.8 287.8 L660.0 288.1 L660.2 288.2 L660.5 288.3 L660.8 288.1 L661.0 288.2 L661.2 288.1 L661.5 288.2 L661.8 288.1 L662.0 288.2 L662.2 288.2 L662.5 287.9 L662.8 288.3 L663.0 288.0 L663.2 288.1 L663.5 288.2 L663.8 288.1 L664.0 288.1 L664.2 288.2 L664.5 288.1 L664.8 288.0 L665.0 287.9 L665.2 288.1 L665.5 288.1 L665.8 288.0 L666.0 288.0 L666.2 288.1 L666.5 288.0 L666.8 287.8 L667.0 288.0 L667.2 288.0 L667.5 288.0 L667.8 287.8 L668.0 287.8 L668.2 287.9 L668.5 287.7 L668.8 287.8 L669.0 287.9 L669.2 287.8 L669.5 287.9 L669.8 287.7 L670.0 287.8 L670.2 287.7 L670.5 287.9 L670.8 287.5 L671.0 287.4 L671.3 287.6 L671.5 287.3 L671.8 287.2 L672.0 287.2 L672.3 287.2 L672.5 286.8 L672.8 286.9 L673.0 286.7 L673.3 286.6 L673.5 286.5 L673.8 286.3 L674.0 286.2 L674.3 285.9 L674.5 285.6 L674.8 285.3 L675.0 285.1 L675.3 284.6 L675.5 284.3 L675.8 283.6 L676.0 283.1 L676.3 282.8 L676.5 281.9 L676.8 281.4 L677.0 280.6 L677.3 279.8 L677.5 278.9 L677.8 278.5 L678.0 277.7 L678.3 277.2 L678.5 276.6 L678.8 276.7 L679.0 276.4 L679.3 276.4 L679.5 276.6 L679.8 276.8 L680.0 277.2 L680.3 277.7 L680.5 278.0 L680.8 278.2 L681.0 279.2 L681.3 279.7 L681.5 280.2 L681.8 281.0 L682.0 281.2 L682.3 281.6 L682.5 282.7 L682.8 283.1 L683.0 283.3 L683.3 283.9 L683.5 284.5 L683.8 284.6 L684.0 285.2 L684.3 285.7 L684.5 285.9 L684.8 285.9 L685.0 286.2 L685.3 286.2 L685.5 286.5 L685.8 286.6 L686.0 286.7 L686.3 286.8 L686.5 287.3 L686.8 287.1 L687.0 287.1 L687.2 287.2 L687.5 287.5 L687.8 287.6 L688.0 287.4 L688.2 287.5 L688.5 287.7 L688.8 287.5 L689.0 287.5 L689.2 287.5 L689.5 287.7 L689.8 287.6 L690.0 287.6 L690.2 287.7 L690.5 287.9 L690.8 287.9 L691.0 287.8 L691.2 288.1 L691.5 287.8 L691.8 287.9 L692.0 287.7 L692.2 288.0 L692.5 287.9 L692.8 287.7 L693.0 287.8 L693.2 288.2 L693.5 288.0 L693.8 288.0 L694.0 288.1 L694.2 287.8 L694.5 287.9 L694.8 287.8 L695.0 287.9 L695.2 288.0 L695.5 288.1 L695.8 288.1 L696.0 288.1 L696.2 288.4 L696.5 288.0 L696.8 288.0 L697.0 288.1 L697.2 287.9 L697.5 288.0 L697.8 288.1 L698.0 287.9 L698.2 288.1 L698.5 288.2 L698.8 287.9 L699.0 287.7 L699.2 288.1 L699.5 287.9 L699.8 288.1 L700.0 288.0 L700.2 288.1 L700.5 288.2 L700.8 288.1 L701.0 288.0 L701.2 287.9 L701.5 287.7 L701.8 287.7 L702.0 287.9 L702.2 288.0 L702.5 287.9 L702.8 287.9 L703.0 287.8 L703.2 287.8 L703.5 287.8 L703.8 288.0 L704.0 287.7 L704.2 288.0 L704.5 287.8 L704.8 288.0 L705.0 287.9 L705.2 288.0 L705.5 288.0 L705.8 287.8 L706.0 287.7 L706.2 287.8 L706.5 287.7 L706.8 287.9 L707.0 287.7 L707.2 287.7 L707.5 287.7 L707.8 287.6 L708.0 287.7 L708.2 287.3 L708.5 287.5 L708.8 287.5 L709.0 287.3 L709.2 287.2 L709.5 287.3 L709.8 287.0 L710.0 286.7 L710.2 286.6 L710.5 286.8 L710.8 286.3 L711.0 286.4 L711.2 286.2 L711.5 285.8 L711.8 285.6 L712.0 285.1 L712.2 284.9 L712.5 284.5 L712.8 284.3 L713.0 283.7 L713.3 283.5 L713.5 283.2 L713.8 282.9 L714.0 282.3 L714.3 282.1 L714.5 282.1 L714.8 282.1 L715.0 282.1 L715.3 282.1 L715.5 282.5 L715.8 282.5 L716.0 282.6 L716.3 282.7 L716.5 283.1 L716.7 283.4 L717.0 283.7 L717.2 283.8 L717.5 284.2 L717.8 284.6 L718.0 284.6 L718.3 284.7 L718.5 285.4 L718.8 285.6 L719.0 285.7 L719.3 286.0 L719.5 286.6 L719.8 286.4 L720.0 286.4 L720.3 286.7 L720.5 286.9 L720.7 286.9 L721.0 287.1 L721.2 287.3 L721.5 287.3 L721.8 287.4 L722.0 287.5 L722.3 287.4 L722.5 287.6 L722.8 287.5 L723.0 287.8 L723.3 287.6 L723.5 287.7 L723.8 287.5 L724.0 287.7 L724.3 287.7 L724.5 288.0 L724.7 287.8 L725.0 287.9 L725.2 287.7 L725.5 287.7 L725.8 287.9 L726.0 287.8 L726.3 288.1 L726.5 287.9 L726.8 288.0 L727.0 288.0 L727.3 288.0 L727.5 288.1 L727.8 287.9 L728.0 288.0 L728.3 288.2 L728.5 288.0 L728.8 288.0 L729.0 288.0 L729.2 288.0 L729.5 288.1 L729.8 288.0 L730.0 287.8 L730.3 288.0 L730.5 288.0 L730.8 288.1 L731.0 288.0 L731.2 288.2 L731.5 287.9 L731.8 287.9 L732.0 288.1 L732.2 287.9 L732.5 288.0 L732.8 288.0 L733.0 287.7 L733.2 288.0 L733.5 288.1 L733.8 287.9 L734.0 287.7 L734.3 288.0 L734.5 287.7 L734.8 287.8 L735.0 287.8 L735.2 287.6 L735.5 287.5 L735.8 287.6 L736.0 287.5 L736.2 287.4 L736.5 287.3 L736.8 287.4 L737.0 287.2 L737.2 287.1 L737.5 286.9 L737.8 286.9 L738.0 286.8 L738.3 286.7 L738.5 286.4 L738.8 286.4 L739.0 286.3 L739.2 286.3 L739.5 286.4 L739.8 286.3 L740.0 286.2 L740.2 286.2 L740.5 286.1 L740.8 286.3 L741.0 286.2 L741.2 286.3 L741.5 286.3 L741.8 286.5 L742.0 286.6 L742.3 286.9 L742.5 286.8 L742.8 286.8 L743.0 287.1 L743.2 287.0 L743.5 287.3 L743.8 287.3 L744.0 287.7 L744.2 287.3 L744.5 287.5 L744.8 287.5 L745.0 287.7 L745.2 287.8 L745.5 287.6 L745.8 287.7 L746.0 287.9 L746.3 288.0 L746.5 287.8 L746.8 287.7 L747.0 288.1 L747.2 288.1 L747.5 288.1 L747.8 287.9 L748.0 288.0 L748.2 288.1 L748.5 288.1 L748.8 288.1 L749.0 288.1 L749.2 288.2 L749.5 288.0 L749.8 288.0 L750.0 288.1 L750.3 288.1 L750.5 288.1 L750.8 288.1 L751.0 288.1 L751.2 288.3 L751.5 288.2 L751.7 288.1 L752.0 288.3 L752.2 288.1 L752.5 288.2 L752.8 288.2 L753.0 288.1 L753.2 288.1 L753.5 288.2 L753.8 288.0 L754.0 288.1 L754.3 288.2 L754.5 288.2 L754.8 288.2 L755.0 288.5 L755.3 288.3 L755.5 288.2 L755.7 288.2 L756.0 288.2 L756.2 288.2 L756.5 288.2 L756.8 288.4 L757.0 288.1 L757.3 288.3 L757.5 288.3 L757.8 288.1 L758.0 288.3 L758.3 288.3 L758.5 288.1 L758.8 288.5 L759.0 288.3 L759.3 288.2 L759.5 288.1 L759.7 288.1 L760.0 288.2 L760.2 288.2 L760.5 288.0 L760.8 288.1 L761.0 288.1 L761.3 288.1 L761.5 288.2 L761.8 288.1 L762.0 288.3 L762.3 288.3 L762.5 288.2 L762.8 287.9 L763.0 288.2 L763.3 288.3 L763.5 288.2 L763.7 288.2 L764.0 288.2 L764.2 288.0 L764.5 287.9 L764.8 288.3 L765.0 288.1 L765.3 288.2 L765.5 288.1 L765.8 288.2 L766.0 288.4 L766.3 288.0 L766.5 288.2 L766.8 288.0 L767.0 288.2 L767.3 288.2 L767.5 288.3 L767.8 288.2 L768.0 288.0 L768.2 288.2 L768.5 288.3 L768.8 288.3 L769.0 288.4 L769.3 288.2 L769.5 288.0 L769.8 288.1 L770.0 288.2 L770.3 288.3 L770.5 288.0 L770.8 288.3 L771.0 288.2 L771.3 288.0 L771.5 288.2 L771.8 288.0 L772.0 288.1 L772.2 288.1 L772.5 288.2 L772.8 288.0 L773.0 288.2 L773.3 287.9 L773.5 288.1 L773.8 288.0 L774.0 288.3 L774.2 288.2 L774.5 288.0 L774.8 288.0 L775.0 288.1 L775.2 288.0 L775.5 288.4 L775.8 287.7 L776.0 288.1 L776.2 287.8 L776.5 288.2 L776.8 288.0 L777.0 288.2 L777.3 288.0 L777.5 288.2 L777.8 288.1 L778.0 288.2 L778.2 288.0 L778.5 287.6 L778.8 287.9 L779.0 287.8 L779.2 288.1 L779.5 288.0 L779.8 288.0 L780.0 288.0 L780.2 288.0 L780.5 287.9 L780.8 288.2 L781.0 287.9 L781.3 287.9 L781.5 287.7 L781.8 287.8 L782.0 287.8 L782.2 287.8 L782.5 287.8 L782.8 287.8 L783.0 287.6 L783.2 287.8 L783.5 287.5 L783.8 287.6 L784.0 287.6 L784.2 287.8 L784.5 287.7 L784.8 287.6 L785.0 287.4 L785.3 287.5 L785.5 287.6 L785.8 287.6 L786.0 287.2 L786.2 287.3 L786.5 287.3 L786.8 287.3 L787.0 287.2 L787.2 287.2 L787.5 286.8 L787.8 287.1 L788.0 286.7 L788.2 286.7 L788.5 286.6 L788.8 286.6 L789.0 286.4 L789.3 286.2 L789.5 286.0 L789.8 285.6 L790.0 285.4 L790.2 285.2 L790.5 284.5 L790.8 284.1 L791.0 283.7 L791.2 283.5 L791.5 283.0 L791.8 282.2 L792.0 281.7 L792.2 281.2 L792.5 280.6 L792.8 279.6 L793.0 279.1 L793.3 278.5 L793.5 277.9 L793.8 277.3 L794.0 276.8 L794.2 276.4 L794.5 275.8 L794.7 276.3 L795.0 275.9 L795.2 276.0 L795.5 276.0 L795.8 276.4 L796.0 276.9 L796.3 277.3 L796.5 277.5 L796.8 277.8 L797.0 278.4 L797.3 278.9 L797.5 279.5 L797.8 279.8 L798.0 280.5 L798.3 281.0 L798.5 281.5 L798.7 282.2 L799.0 282.4 L799.2 282.9 L799.5 283.4 L799.8 284.0 L800.0 284.2 L800.3 284.6 L800.5 285.1 L800.8 285.3 L801.0 285.5 L801.3 285.8 L801.5 286.0 L801.8 286.3 L802.0 286.4 L802.3 286.4 L802.5 286.6 L802.7 286.7 L803.0 286.9 L803.2 287.0 L803.5 287.0 L803.8 287.1 L804.0 287.3 L804.3 287.4 L804.5 287.4 L804.8 287.6 L805.0 287.4 L805.3 287.6 L805.5 287.5 L805.8 287.4 L806.0 287.6 L806.3 287.7 L806.5 287.7 L806.7 287.7 L807.0 287.6 L807.2 287.6 L807.5 287.7 L807.8 287.8 L808.0 287.9 L808.3 287.4 L808.5 287.9 L808.8 288.0 L809.0 288.0 L809.3 287.9 L809.5 287.9 L809.8 287.8 L810.0 287.9 L810.3 288.0 L810.5 287.8 L810.8 287.8 L811.0 287.9 L811.2 287.8 L811.5 287.9 L811.8 287.8 L812.0 288.0 L812.3 288.0 L812.5 287.9 L812.8 287.9 L813.0 287.9 L813.3 287.7 L813.5 287.9 L813.8 288.0 L814.0 288.2 L814.3 287.9 L814.5 288.0 L814.8 288.2 L815.0 288.2 L815.2 288.0 L815.5 288.2 L815.8 288.2 L816.0 288.1 L816.3 287.9 L816.5 287.9 L816.8 288.1 L817.0 288.3 L817.2 288.0 L817.5 288.2 L817.8 288.3 L818.0 287.9 L818.2 288.0 L818.5 288.3 L818.8 288.2 L819.0 288.1 L819.2 288.1 L819.5 288.1 L819.8 288.0 L820.0 288.4 L820.3 287.9 L820.5 287.8 L820.8 288.1 L821.0 288.3 L821.2 288.0 L821.5 288.1 L821.8 287.9 L822.0 288.1 L822.2 287.9 L822.5 287.9 L822.8 287.9 L823.0 288.0 L823.2 288.3 L823.5 288.1 L823.8 288.1 L824.0 288.3 L824.3 288.0 L824.5 287.9 L824.8 288.1 L825.0 287.9 L825.2 288.1 L825.5 288.2 L825.8 287.9 L826.0 288.0 L826.2 288.3 L826.5 287.9 L826.8 288.0 L827.0 288.1 L827.2 288.0 L827.5 287.9 L827.8 288.2 L828.0 288.0 L828.3 288.1 L828.5 288.0 L828.8 288.0 L829.0 287.9 L829.2 288.1 L829.5 288.0 L829.8 288.2 L830.0 287.9 L830.2 287.9 L830.5 288.1 L830.8 288.0 L831.0 287.9 L831.2 288.0 L831.5 287.8 L831.8 288.0 L832.0 287.6 L832.3 288.0 L832.5 288.1 L832.8 288.1 L833.0 288.0 L833.2 287.9 L833.5 288.0 L833.8 287.9 L834.0 287.9 L834.2 287.9 L834.5 287.5 L834.8 288.0 L835.0 287.9 L835.2 287.9 L835.5 287.7 L835.8 287.9 L836.0 287.8 L836.3 287.5 L836.5 287.5 L836.8 287.7 L837.0 287.6 L837.3 287.7 L837.5 287.6 L837.7 287.8 L838.0 287.4 L838.2 287.4 L838.5 287.4 L838.8 287.3 L839.0 287.4 L839.3 287.4 L839.5 287.1 L839.8 287.3 L840.0 287.3 L840.3 287.2 L840.5 287.2 L840.8 287.0 L841.0 286.7 L841.3 286.8 L841.5 286.5 L841.7 286.5 L842.0 286.0 L842.2 285.6 L842.5 285.4 L842.8 285.4 L843.0 285.1 L843.3 284.7 L843.5 284.6 L843.8 284.0 L844.0 283.7 L844.3 283.6 L844.5 283.1 L844.8 282.8 L845.0 282.6 L845.3 282.3 L845.5 281.8 L845.7 281.7 L846.0 281.3 L846.2 281.4 L846.5 281.4 L846.8 281.1 L847.0 281.6 L847.3 281.7 L847.5 281.7 L847.8 281.9 L848.0 282.2 L848.3 282.2 L848.5 282.6 L848.8 282.8 L849.0 282.8 L849.3 283.1 L849.5 283.4 L849.8 283.9 L850.0 284.0 L850.2 284.4 L850.5 284.5 L850.8 284.7 L851.0 285.3 L851.3 285.6 L851.5 285.5 L851.8 285.7 L852.0 286.0 L852.3 285.9 L852.5 286.2 L852.8 286.1 L853.0 286.5 L853.3 286.6 L853.5 286.6 L853.8 286.7 L854.0 286.6 L854.2 286.8 L854.5 287.1 L854.8 286.9 L855.0 287.2 L855.3 287.0 L855.5 287.1 L855.8 287.1 L856.0 287.1 L856.3 287.2 L856.5 286.9 L856.8 287.2 L857.0 287.2 L857.3 287.1 L857.5 287.1 L857.8 287.1 L858.0 287.2 L858.2 287.1 L858.5 286.9 L858.8 287.0 L859.0 287.1 L859.3 287.0 L859.5 286.9 L859.8 286.9 L860.0 286.7 L860.2 286.7 L860.5 286.4 L860.8 286.5 L861.0 286.6 L861.2 286.3 L861.5 286.1 L861.8 286.2 L862.0 285.9 L862.2 285.7 L862.5 285.5 L862.8 285.3 L863.0 284.9 L863.3 284.5 L863.5 284.5 L863.8 283.9 L864.0 283.4 L864.2 283.1 L864.5 282.8 L864.8 282.0 L865.0 281.8 L865.2 281.1 L865.5 280.8 L865.8 280.0 L866.0 279.3 L866.2 279.0 L866.5 278.4 L866.8 277.7 L867.0 277.3 L867.3 276.9 L867.5 276.7 L867.8 276.3 L868.0 276.3 L868.2 276.0 L868.5 276.5 L868.8 276.3 L869.0 276.6 L869.2 277.1 L869.5 277.3 L869.8 277.7 L870.0 278.0 L870.2 278.4 L870.5 278.7 L870.8 279.3 L871.0 279.8 L871.3 280.3 L871.5 280.6 L871.8 281.2 L872.0 281.5 L872.2 281.9 L872.5 282.2 L872.8 282.5 L873.0 282.8 L873.2 282.8 L873.5 283.5 L873.8 283.6 L874.0 284.1 L874.2 283.7 L874.5 284.2 L874.8 284.0 L875.0 284.2 L875.3 284.1 L875.5 284.2 L875.8 284.0 L876.0 284.0 L876.2 283.8 L876.5 283.6 L876.8 283.5 L877.0 283.1 L877.2 282.7 L877.5 282.5 L877.8 282.0 L878.0 281.7 L878.3 281.1 L878.5 280.7 L878.8 279.9 L879.0 279.9 L879.3 279.3 L879.5 279.1 L879.8 278.9 L880.0 278.2 L880.3 278.2 L880.5 277.9 L880.7 277.9 L881.0 277.7 L881.2 277.9 L881.5 278.0 L881.8 278.4 L882.0 278.7 L882.3 278.8 L882.5 279.0 L882.8 279.7 L883.0 279.7 L883.3 280.1 L883.5 280.5 L883.8 280.9 L884.0 281.4 L884.3 281.6 L884.5 282.1 L884.7 282.7 L885.0 283.0 L885.2 283.3 L885.5 283.6 L885.8 283.9 L886.0 284.4 L886.3 284.5 L886.5 284.9 L886.8 285.0 L887.0 285.3 L887.3 285.6 L887.5 285.8 L887.8 285.9 L888.0 286.1 L888.3 286.3 L888.5 286.3 L888.7 286.4 L889.0 286.6 L889.2 286.8 L889.5 286.9 L889.8 286.9 L890.0 286.9 L890.3 287.0 L890.5 287.3 L890.8 287.2 L891.0 287.0 L891.3 287.2 L891.5 287.2 L891.8 287.2 L892.0 287.1 L892.3 287.3 L892.5 287.1 L892.8 287.3 L893.0 287.5 L893.2 287.5 L893.5 287.3 L893.8 287.2 L894.0 287.3 L894.3 287.1 L894.5 287.2 L894.8 287.3 L895.0 287.2 L895.3 287.4 L895.5 287.3 L895.8 287.2 L896.0 287.5 L896.3 287.3 L896.5 287.2 L896.8 287.4 L897.0 287.3 L897.2 287.0 L897.5 287.0 L897.8 286.9 L898.0 286.7 L898.3 287.0 L898.5 286.8 L898.8 286.4 L899.0 286.4 L899.3 286.0 L899.5 286.2 L899.8 285.9 L900.0 285.6 L900.3 285.6 L900.5 285.2 L900.8 284.9 L901.0 284.8 L901.2 284.4 L901.5 284.2 L901.8 283.8 L902.0 283.6 L902.3 283.3 L902.5 283.1 L902.8 282.6 L903.0 282.7 L903.2 282.3 L903.5 282.3 L903.8 281.9 L904.0 281.9 L904.2 281.9 L904.5 282.1 L904.8 282.0 L905.0 282.2 L905.2 282.1 L905.5 282.4 L905.8 282.6 L906.0 282.8 L906.3 282.8 L906.5 283.3 L906.8 283.3 L907.0 283.9 L907.2 283.9 L907.5 284.5 L907.8 284.5 L908.0 284.7 L908.2 284.8 L908.5 285.1 L908.8 285.4 L909.0 285.3 L909.2 285.9 L909.5 285.8 L909.8 286.1 L910.0 286.0 L910.3 286.5 L910.5 286.7 L910.8 286.8 L911.0 286.9 L911.2 286.9 L911.5 287.1 L911.8 287.3 L912.0 287.2 L912.2 287.4 L912.5 287.5 L912.8 287.4 L913.0 287.5 L913.2 287.6 L913.5 287.5 L913.8 287.9 L914.0 287.6 L914.3 287.9 L914.5 287.9 L914.8 287.5 L915.0 287.8 L915.2 287.9 L915.5 287.9 L915.8 287.7 L916.0 287.9 L916.2 287.7 L916.5 287.8 L916.8 287.9 L917.0 287.9 L917.2 288.1 L917.5 288.0 L917.8 288.1 L918.0 287.8 L918.3 287.8 L918.5 287.9 L918.8 288.2 L919.0 287.8 L919.3 287.8 L919.5 288.0 L919.8 288.2 L920.0 287.8 L920.2 288.0 L920.5 287.9 L920.8 288.2 L921.0 288.1 L921.3 288.1 L921.5 288.1 L921.8 288.0 L922.0 288.1 L922.3 288.0 L922.5 288.0 L922.8 288.0 L923.0 288.1 L923.3 288.0 L923.5 288.2 L923.7 287.8 L924.0 288.2 L924.2 288.2 L924.5 288.3 L924.8 288.1 L925.0 287.9 L925.3 288.0 L925.5 288.3 L925.8 288.1 L926.0 288.1 L926.3 288.1 L926.5 288.1 L926.8 288.1 L927.0 287.9 L927.3 288.1 L927.5 288.3 L927.7 288.3 L928.0 288.1 L928.2 288.1 L928.5 288.3 L928.8 288.1 L929.0 288.0 L929.3 288.2 L929.5 288.3 L929.8 288.4 L930.0 288.1 L930.3 288.2 L930.5 288.1 L930.8 288.3 L931.0 288.2 L931.3 288.2 L931.5 288.1 L931.7 288.1 L932.0 288.1 L932.2 287.7 L932.5 288.3 L932.8 288.2 L933.0 288.2 L933.3 288.1 L933.5 288.2 L933.8 288.2 L934.0 288.0 L934.3 288.2 L934.5 288.2 L934.8 288.2 L935.0 288.0 L935.3 288.2 L935.5 288.0 L935.8 288.2 L936.0 288.4 L936.2 288.3 L936.5 288.2 L936.8 288.1 L937.0 288.1 L937.3 288.3 L937.5 288.1 L937.8 288.1 L938.0 287.9 L938.3 288.1 L938.5 288.1 L938.8 288.1 L939.0 288.4 L939.3 288.0 L939.5 288.0 L939.8 288.3 L940.0 288.1 L940.2 288.2 L940.5 288.2 L940.8 288.2 L941.0 288.1 L941.3 288.3 L941.5 288.4 L941.8 288.1 L942.0 288.2 L942.3 288.3 L942.5 288.2 L942.8 288.1 L943.0 288.2 L943.2 288.3 L943.5 288.1 L943.8 288.3 L944.0 288.3 L944.2 288.1 L944.5 288.3 L944.8 288.3 L945.0 288.4 L945.3 288.3 L945.5 288.0 L945.8 288.3 L946.0 288.3" fill="none" stroke="#4aa472" stroke-width="2.4" stroke-linejoin="round"/><path d="M79.0 175.3 L79.2 175.1 L79.5 175.3 L79.7 175.2 L80.0 175.0 L80.2 175.4 L80.5 175.1 L80.7 175.1 L81.0 175.2 L81.2 175.1 L81.5 175.2 L81.7 175.2 L82.0 175.2 L82.2 175.3 L82.5 175.2 L82.7 175.3 L83.0 175.3 L83.2 175.1 L83.5 175.3 L83.7 175.3 L84.0 175.2 L84.2 175.3 L84.5 175.4 L84.7 175.3 L85.0 175.0 L85.2 175.3 L85.5 175.2 L85.7 175.2 L86.0 175.2 L86.2 175.2 L86.5 175.4 L86.8 175.2 L87.0 175.2 L87.2 175.3 L87.5 175.3 L87.8 175.3 L88.0 175.3 L88.2 175.2 L88.5 175.2 L88.8 174.9 L89.0 175.0 L89.2 175.3 L89.5 175.2 L89.8 175.4 L90.0 175.4 L90.2 175.0 L90.5 175.2 L90.8 175.6 L91.0 175.1 L91.2 175.2 L91.5 175.2 L91.8 175.2 L92.0 175.2 L92.2 175.2 L92.5 175.3 L92.8 175.1 L93.0 175.3 L93.3 175.1 L93.5 175.3 L93.8 175.2 L94.0 175.1 L94.3 175.2 L94.5 175.1 L94.8 175.1 L95.0 175.3 L95.3 175.0 L95.5 175.3 L95.8 175.3 L96.0 175.1 L96.3 175.3 L96.5 175.3 L96.8 175.0 L97.0 175.3 L97.3 175.3 L97.5 175.1 L97.8 175.3 L98.0 175.3 L98.3 175.1 L98.5 174.9 L98.8 175.2 L99.0 175.1 L99.3 175.0 L99.5 175.1 L99.8 174.9 L100.0 175.2 L100.2 175.4 L100.5 174.8 L100.8 175.3 L101.0 175.1 L101.2 175.1 L101.5 175.1 L101.7 175.3 L102.0 175.2 L102.2 175.1 L102.5 175.0 L102.7 175.1 L103.0 175.3 L103.2 175.0 L103.5 175.2 L103.7 175.2 L104.0 174.9 L104.2 175.3 L104.5 175.2 L104.7 175.5 L105.0 175.4 L105.2 175.2 L105.5 175.2 L105.7 175.1 L106.0 175.0 L106.2 175.3 L106.5 175.2 L106.8 175.1 L107.0 175.2 L107.2 175.3 L107.5 175.3 L107.8 175.2 L108.0 175.2 L108.2 175.2 L108.5 175.5 L108.8 174.9 L109.0 175.0 L109.2 175.3 L109.5 175.2 L109.8 175.3 L110.0 175.4 L110.2 175.4 L110.5 175.1 L110.8 175.3 L111.0 175.2 L111.2 175.3 L111.5 175.2 L111.8 175.3 L112.0 175.1 L112.2 175.2 L112.5 175.1 L112.8 175.2 L113.0 175.1 L113.2 175.1 L113.5 175.3 L113.8 175.2 L114.0 175.3 L114.2 175.1 L114.5 174.9 L114.8 175.1 L115.0 175.2 L115.3 175.3 L115.5 175.3 L115.8 175.3 L116.0 175.4 L116.3 175.3 L116.5 175.2 L116.8 175.1 L117.0 175.3 L117.3 175.1 L117.5 175.1 L117.8 175.3 L118.0 175.2 L118.3 175.3 L118.5 175.1 L118.8 175.3 L119.0 175.2 L119.3 175.2 L119.5 175.1 L119.8 175.1 L120.0 175.0 L120.3 175.4 L120.5 175.0 L120.7 175.3 L121.0 175.2 L121.3 175.1 L121.5 175.1 L121.7 175.2 L122.0 175.3 L122.3 175.3 L122.5 175.2 L122.7 175.0 L123.0 175.0 L123.2 175.4 L123.5 175.1 L123.7 175.0 L124.0 175.3 L124.2 175.0 L124.5 175.3 L124.7 175.3 L125.0 175.2 L125.2 175.3 L125.5 175.0 L125.7 175.0 L126.0 175.2 L126.2 175.2 L126.5 175.2 L126.8 175.3 L127.0 175.1 L127.2 174.9 L127.5 175.2 L127.8 175.2 L128.0 175.3 L128.2 175.5 L128.5 175.2 L128.8 175.3 L129.0 175.1 L129.2 175.3 L129.5 175.2 L129.8 175.2 L130.0 175.3 L130.2 175.0 L130.5 175.3 L130.8 175.3 L131.0 175.4 L131.2 175.0 L131.5 175.2 L131.8 175.5 L132.0 175.1 L132.2 175.1 L132.5 175.4 L132.8 175.5 L133.0 175.2 L133.2 175.1 L133.5 175.1 L133.8 175.1 L134.0 175.1 L134.2 175.1 L134.5 175.2 L134.8 175.2 L135.0 175.3 L135.2 175.2 L135.5 175.0 L135.8 175.3 L136.0 175.2 L136.2 175.1 L136.5 175.2 L136.8 175.2 L137.0 175.2 L137.2 175.2 L137.5 175.3 L137.8 175.3 L138.0 175.2 L138.3 175.2 L138.5 175.0 L138.8 175.2 L139.0 175.3 L139.3 175.3 L139.5 175.2 L139.8 175.2 L140.0 175.1 L140.3 175.2 L140.5 175.1 L140.8 175.2 L141.0 175.2 L141.2 175.1 L141.5 175.2 L141.8 175.2 L142.0 175.3 L142.2 175.1 L142.5 175.3 L142.8 175.4 L143.0 175.2 L143.2 175.3 L143.5 175.1 L143.8 175.1 L144.0 174.9 L144.2 175.2 L144.5 175.0 L144.8 175.2 L145.0 174.9 L145.2 175.1 L145.5 175.2 L145.8 175.2 L146.0 175.0 L146.2 175.1 L146.5 175.5 L146.8 175.3 L147.0 175.2 L147.2 174.8 L147.5 175.1 L147.8 175.3 L148.0 175.2 L148.2 175.2 L148.5 175.3 L148.8 175.2 L149.0 175.3 L149.2 175.0 L149.5 175.5 L149.8 175.2 L150.0 175.1 L150.2 175.4 L150.5 175.3 L150.8 175.3 L151.0 175.1 L151.2 175.2 L151.5 175.3 L151.8 175.0 L152.0 175.2 L152.2 175.2 L152.5 175.2 L152.8 175.1 L153.0 175.0 L153.2 175.2 L153.5 175.2 L153.8 175.3 L154.0 175.2 L154.2 175.1 L154.5 175.0 L154.8 175.2 L155.0 175.1 L155.2 175.4 L155.5 175.5 L155.8 175.4 L156.0 175.1 L156.2 175.0 L156.5 175.2 L156.8 175.1 L157.0 175.4 L157.2 175.2 L157.5 175.1 L157.8 175.2 L158.0 175.3 L158.2 175.1 L158.5 175.3 L158.8 175.0 L159.0 175.2 L159.2 175.1 L159.5 175.2 L159.8 175.2 L160.0 175.3 L160.2 175.3 L160.5 175.1 L160.8 175.0 L161.0 175.1 L161.3 175.1 L161.5 175.2 L161.7 175.1 L162.0 175.3 L162.3 175.3 L162.5 175.2 L162.7 175.1 L163.0 175.2 L163.3 175.2 L163.5 175.2 L163.8 175.0 L164.0 175.1 L164.3 175.0 L164.5 175.2 L164.8 175.3 L165.0 175.1 L165.3 175.2 L165.5 175.1 L165.8 175.1 L166.0 175.4 L166.3 175.3 L166.5 175.3 L166.8 175.1 L167.0 175.3 L167.2 175.2 L167.5 175.3 L167.8 175.1 L168.0 175.2 L168.2 175.2 L168.5 175.0 L168.8 175.4 L169.0 175.3 L169.2 175.1 L169.5 175.0 L169.8 175.1 L170.0 175.1 L170.2 175.1 L170.5 175.0 L170.8 175.1 L171.0 175.2 L171.2 175.3 L171.5 175.0 L171.8 175.2 L172.0 175.1 L172.2 175.1 L172.5 175.2 L172.8 175.1 L173.0 175.3 L173.2 175.3 L173.5 175.2 L173.8 175.1 L174.0 175.4 L174.2 175.4 L174.5 175.3 L174.8 175.2 L175.0 175.3 L175.2 175.4 L175.5 175.1 L175.8 175.4 L176.0 175.2 L176.2 175.3 L176.5 175.1 L176.8 175.2 L177.0 175.2 L177.2 175.2 L177.5 175.3 L177.8 175.1 L178.0 175.2 L178.2 175.3 L178.5 175.2 L178.8 175.5 L179.0 175.0 L179.2 175.5 L179.5 175.1 L179.8 175.3 L180.0 175.4 L180.2 175.3 L180.5 175.0 L180.8 175.2 L181.0 175.2 L181.3 175.3 L181.5 175.3 L181.8 175.4 L182.0 175.4 L182.3 175.1 L182.5 175.3 L182.8 175.0 L183.0 175.2 L183.2 175.1 L183.5 175.0 L183.8 175.3 L184.0 175.2 L184.2 175.3 L184.5 175.0 L184.8 175.1 L185.0 175.2 L185.2 175.1 L185.5 175.2 L185.8 175.1 L186.0 175.2 L186.2 175.1 L186.5 175.4 L186.8 175.2 L187.0 175.1 L187.2 175.3 L187.5 175.3 L187.8 175.3 L188.0 175.3 L188.2 175.2 L188.5 175.2 L188.8 174.9 L189.0 175.0 L189.2 175.1 L189.5 175.3 L189.8 175.4 L190.0 175.2 L190.2 175.2 L190.5 175.4 L190.8 175.2 L191.0 175.3 L191.2 175.3 L191.5 175.1 L191.8 175.3 L192.0 175.3 L192.2 175.1 L192.5 175.1 L192.8 175.1 L193.0 175.4 L193.2 175.5 L193.5 175.3 L193.8 175.4 L194.0 175.1 L194.2 175.4 L194.5 175.5 L194.8 175.4 L195.0 175.1 L195.2 175.4 L195.5 175.2 L195.8 175.4 L196.0 175.1 L196.2 175.2 L196.5 175.2 L196.8 175.3 L197.0 175.2 L197.2 175.4 L197.5 175.3 L197.8 175.3 L198.0 175.2 L198.2 175.2 L198.5 175.2 L198.8 175.3 L199.0 175.3 L199.2 175.3 L199.5 175.2 L199.8 175.2 L200.0 175.1 L200.2 175.0 L200.5 175.3 L200.8 175.3 L201.0 175.1 L201.2 175.5 L201.5 175.1 L201.7 175.4 L202.0 175.3 L202.3 175.3 L202.5 175.4 L202.7 175.4 L203.0 175.2 L203.3 175.1 L203.5 175.1 L203.7 175.3 L204.0 175.4 L204.3 175.4 L204.5 175.2 L204.8 175.3 L205.0 175.3 L205.3 175.5 L205.5 175.1 L205.8 175.3 L206.0 175.3 L206.3 175.1 L206.5 175.1 L206.8 175.4 L207.0 175.3 L207.3 175.2 L207.5 175.3 L207.7 175.4 L208.0 175.3 L208.3 175.5 L208.5 175.2 L208.7 175.1 L209.0 175.2 L209.3 175.1 L209.5 175.2 L209.7 175.4 L210.0 175.5 L210.3 175.3 L210.5 175.3 L210.8 175.1 L211.0 175.1 L211.3 175.3 L211.5 175.3 L211.8 175.2 L212.0 175.2 L212.3 175.4 L212.5 175.4 L212.8 175.3 L213.0 175.3 L213.2 175.4 L213.5 175.3 L213.8 175.3 L214.0 175.0 L214.2 175.0 L214.5 175.0 L214.8 175.0 L215.0 175.2 L215.2 175.3 L215.5 175.1 L215.8 175.3 L216.0 175.3 L216.2 175.2 L216.5 175.1 L216.8 175.4 L217.0 175.4 L217.2 175.2 L217.5 175.5 L217.8 175.3 L218.0 175.1 L218.2 175.2 L218.5 175.0 L218.8 175.2 L219.0 175.0 L219.2 175.4 L219.5 175.3 L219.8 175.1 L220.0 175.3 L220.3 175.0 L220.5 175.3 L220.8 175.3 L221.0 175.3 L221.3 175.1 L221.5 175.2 L221.8 175.2 L222.0 175.3 L222.3 175.4 L222.5 175.5 L222.8 175.5 L223.0 175.2 L223.2 175.2 L223.5 175.3 L223.8 175.3 L224.0 175.0 L224.2 175.2 L224.5 175.5 L224.8 175.1 L225.0 175.2 L225.2 175.2 L225.5 175.3 L225.8 175.2 L226.0 175.2 L226.2 175.1 L226.5 175.3 L226.8 175.3 L227.0 175.2 L227.2 175.3 L227.5 175.4 L227.8 175.1 L228.0 175.1 L228.2 175.1 L228.5 175.1 L228.8 174.9 L229.0 175.2 L229.2 175.4 L229.5 175.2 L229.8 175.4 L230.0 174.9 L230.2 175.2 L230.5 175.4 L230.8 175.5 L231.0 175.2 L231.2 175.2 L231.5 175.3 L231.8 175.1 L232.0 175.2 L232.2 175.0 L232.5 175.3 L232.8 175.3 L233.0 175.5 L233.2 175.3 L233.5 175.2 L233.8 175.2 L234.0 175.1 L234.2 175.3 L234.5 175.2 L234.8 175.3 L235.0 175.4 L235.2 175.0 L235.5 175.3 L235.8 175.4 L236.0 175.1 L236.2 175.5 L236.5 175.2 L236.8 175.6 L237.0 175.4 L237.2 175.4 L237.5 175.3 L237.8 175.4 L238.0 175.1 L238.2 175.2 L238.5 175.0 L238.8 175.3 L239.0 175.2 L239.2 175.4 L239.5 175.3 L239.8 175.1 L240.0 175.4 L240.3 175.3 L240.5 175.3 L240.8 175.3 L241.0 175.3 L241.3 175.3 L241.5 175.4 L241.8 175.1 L242.0 175.1 L242.3 175.2 L242.5 175.4 L242.8 175.2 L243.0 175.5 L243.3 174.9 L243.5 175.2 L243.8 175.2 L244.0 175.3 L244.3 175.4 L244.5 175.2 L244.7 175.1 L245.0 175.4 L245.3 175.5 L245.5 174.9 L245.7 175.3 L246.0 175.3 L246.3 175.1 L246.5 175.2 L246.7 175.3 L247.0 175.3 L247.3 175.2 L247.5 175.1 L247.7 175.3 L248.0 175.2 L248.3 175.3 L248.5 175.2 L248.8 175.3 L249.0 175.4 L249.3 175.3 L249.5 175.3 L249.8 175.1 L250.0 175.3 L250.3 175.3 L250.5 175.2 L250.8 175.2 L251.0 174.9 L251.3 175.3 L251.5 175.2 L251.8 175.0 L252.0 175.3 L252.3 175.2 L252.5 175.3 L252.8 175.2 L253.0 175.3 L253.3 175.3 L253.5 175.2 L253.8 175.3 L254.0 175.4 L254.3 175.0 L254.5 175.2 L254.8 175.2 L255.0 175.1 L255.3 175.4 L255.5 175.4 L255.8 175.1 L256.0 175.1 L256.2 175.3 L256.5 175.2 L256.8 175.2 L257.0 175.0 L257.3 175.2 L257.5 175.4 L257.8 175.2 L258.0 175.2 L258.2 175.5 L258.5 175.3 L258.8 175.4 L259.0 175.3 L259.3 175.4 L259.5 175.0 L259.8 175.1 L260.0 175.0 L260.2 175.5 L260.5 175.2 L260.8 175.2 L261.0 175.1 L261.3 175.1 L261.5 174.9 L261.8 175.5 L262.0 175.2 L262.2 175.2 L262.5 175.0 L262.8 175.2 L263.0 175.3 L263.3 175.2 L263.5 175.3 L263.8 175.1 L264.0 175.2 L264.2 175.3 L264.5 175.3 L264.8 175.2 L265.0 175.2 L265.3 175.1 L265.5 175.3 L265.8 175.1 L266.0 175.1 L266.2 175.3 L266.5 175.0 L266.8 175.1 L267.0 175.3 L267.2 175.3 L267.5 175.1 L267.8 175.2 L268.0 175.2 L268.2 175.1 L268.5 175.1 L268.8 175.2 L269.0 175.2 L269.2 175.2 L269.5 175.3 L269.8 175.2 L270.0 175.1 L270.2 175.1 L270.5 175.4 L270.8 175.0 L271.0 175.1 L271.2 175.0 L271.5 175.1 L271.8 174.9 L272.0 175.1 L272.2 175.2 L272.5 175.0 L272.8 174.9 L273.0 174.9 L273.2 175.0 L273.5 174.9 L273.8 174.9 L274.0 175.0 L274.2 174.9 L274.5 175.1 L274.8 175.2 L275.0 174.7 L275.2 174.8 L275.5 175.0 L275.8 174.8 L276.0 174.8 L276.2 174.9 L276.5 175.0 L276.8 175.0 L277.0 174.8 L277.2 174.8 L277.5 174.7 L277.8 174.7 L278.0 174.5 L278.2 174.4 L278.5 174.6 L278.8 174.7 L279.0 174.6 L279.2 174.2 L279.5 174.4 L279.8 174.3 L280.0 174.3 L280.2 174.1 L280.5 174.2 L280.8 174.0 L281.0 174.0 L281.2 173.9 L281.5 173.4 L281.8 173.4 L282.0 173.5 L282.2 173.1 L282.5 172.9 L282.8 172.6 L283.0 172.1 L283.2 171.7 L283.5 171.3 L283.8 170.7 L284.0 170.0 L284.2 168.7 L284.5 167.8 L284.8 166.1 L285.0 164.6 L285.2 162.8 L285.5 160.9 L285.8 158.8 L286.0 157.1 L286.2 155.7 L286.5 155.5 L286.8 155.8 L287.0 156.7 L287.2 157.9 L287.5 159.6 L287.8 161.2 L288.0 163.0 L288.2 164.5 L288.5 166.0 L288.8 167.4 L289.0 168.6 L289.2 169.6 L289.5 170.6 L289.8 170.9 L290.0 171.8 L290.2 171.6 L290.5 172.5 L290.8 172.6 L291.0 173.2 L291.2 173.1 L291.5 173.6 L291.8 173.5 L292.0 173.6 L292.2 174.0 L292.5 174.1 L292.8 174.0 L293.0 174.5 L293.2 174.2 L293.5 174.5 L293.8 174.2 L294.0 174.3 L294.3 174.5 L294.5 174.4 L294.8 174.6 L295.0 174.3 L295.3 174.7 L295.5 174.6 L295.8 174.6 L296.0 174.8 L296.3 174.7 L296.5 174.7 L296.8 174.9 L297.0 174.9 L297.3 174.9 L297.5 175.0 L297.8 174.9 L298.0 175.0 L298.3 174.9 L298.5 175.0 L298.8 175.0 L299.0 174.9 L299.2 174.8 L299.5 174.8 L299.8 174.9 L300.0 175.1 L300.3 175.0 L300.5 175.0 L300.8 175.1 L301.0 175.1 L301.2 175.2 L301.5 175.0 L301.8 175.1 L302.0 175.1 L302.3 174.9 L302.5 175.1 L302.8 174.9 L303.0 175.0 L303.2 175.1 L303.5 174.9 L303.8 175.0 L304.0 175.0 L304.3 175.1 L304.5 175.0 L304.8 175.1 L305.0 175.0 L305.2 175.0 L305.5 175.2 L305.8 175.1 L306.0 175.1 L306.3 175.1 L306.5 175.2 L306.8 175.3 L307.0 175.1 L307.2 175.0 L307.5 175.0 L307.8 175.3 L308.0 175.0 L308.3 174.9 L308.5 175.1 L308.8 175.2 L309.0 174.9 L309.2 175.1 L309.5 174.9 L309.8 175.0 L310.0 175.3 L310.3 175.1 L310.5 175.1 L310.8 175.1 L311.0 175.1 L311.2 175.1 L311.5 174.9 L311.8 174.9 L312.0 175.4 L312.3 175.0 L312.5 175.2 L312.8 175.0 L313.0 175.3 L313.2 175.2 L313.5 175.1 L313.8 175.3 L314.0 175.0 L314.2 175.0 L314.5 175.0 L314.7 175.0 L315.0 175.0 L315.2 174.9 L315.5 175.0 L315.8 175.3 L316.0 174.8 L316.2 174.9 L316.5 174.9 L316.7 175.0 L317.0 175.2 L317.2 175.1 L317.5 175.1 L317.8 175.0 L318.0 175.3 L318.2 174.9 L318.5 174.9 L318.7 175.0 L319.0 175.0 L319.2 175.0 L319.5 174.9 L319.8 174.8 L320.0 174.9 L320.2 174.9 L320.5 174.9 L320.8 174.8 L321.0 175.1 L321.2 175.0 L321.5 175.2 L321.8 174.8 L322.0 174.9 L322.2 174.9 L322.5 174.9 L322.8 174.8 L323.0 174.8 L323.2 174.6 L323.5 174.8 L323.8 174.9 L324.0 174.6 L324.2 174.7 L324.5 174.9 L324.8 174.9 L325.0 174.7 L325.2 174.8 L325.5 174.9 L325.8 174.9 L326.0 174.6 L326.2 174.6 L326.5 174.8 L326.8 174.6 L327.0 174.5 L327.2 174.5 L327.5 174.6 L327.8 174.5 L328.0 174.4 L328.2 174.4 L328.5 174.2 L328.8 174.6 L329.0 174.5 L329.2 174.5 L329.5 174.2 L329.8 174.2 L330.0 174.2 L330.2 174.2 L330.5 173.7 L330.8 174.0 L331.0 173.7 L331.2 173.7 L331.5 173.6 L331.8 173.8 L332.0 173.5 L332.2 173.3 L332.5 173.4 L332.8 173.0 L333.0 172.8 L333.2 172.6 L333.5 172.4 L333.8 172.2 L334.0 172.0 L334.2 171.6 L334.5 171.2 L334.8 170.9 L335.0 170.3 L335.3 169.7 L335.5 168.9 L335.8 167.8 L336.0 166.7 L336.2 165.4 L336.5 164.2 L336.8 162.3 L337.0 160.1 L337.3 157.6 L337.5 155.2 L337.8 152.5 L338.0 150.2 L338.2 148.1 L338.5 147.0 L338.8 147.1 L339.0 147.5 L339.3 148.9 L339.5 150.8 L339.8 152.3 L340.0 154.7 L340.2 156.7 L340.5 158.7 L340.8 160.8 L341.0 162.4 L341.3 163.9 L341.5 165.8 L341.8 166.7 L342.0 167.8 L342.2 168.7 L342.5 169.3 L342.8 169.9 L343.0 170.4 L343.3 170.9 L343.5 171.1 L343.8 171.4 L344.0 171.5 L344.2 171.6 L344.5 171.9 L344.8 172.0 L345.0 172.2 L345.3 172.4 L345.5 172.4 L345.8 172.3 L346.0 172.6 L346.2 172.4 L346.5 172.5 L346.8 172.5 L347.0 172.4 L347.3 172.3 L347.5 172.4 L347.8 172.3 L348.0 172.2 L348.2 172.3 L348.5 172.2 L348.8 172.1 L349.0 171.8 L349.3 171.9 L349.5 172.1 L349.8 171.8 L350.0 171.7 L350.2 171.4 L350.5 171.4 L350.8 171.0 L351.0 170.8 L351.3 170.7 L351.5 170.3 L351.8 170.2 L352.0 169.9 L352.2 169.8 L352.5 169.1 L352.8 168.8 L353.0 168.2 L353.3 167.7 L353.5 166.9 L353.8 166.5 L354.0 166.0 L354.2 165.1 L354.5 164.1 L354.8 163.2 L355.0 161.7 L355.3 159.9 L355.5 158.3 L355.8 156.1 L356.0 153.8 L356.2 150.4 L356.5 146.9 L356.8 142.6 L357.0 137.2 L357.2 131.2 L357.5 123.8 L357.7 116.0 L358.0 106.8 L358.2 97.7 L358.5 88.9 L358.8 80.8 L359.0 75.1 L359.2 72.5 L359.5 73.3 L359.7 76.4 L360.0 81.6 L360.2 87.7 L360.5 94.7 L360.8 102.0 L361.0 109.8 L361.2 117.3 L361.5 124.6 L361.7 131.2 L362.0 136.9 L362.2 142.0 L362.5 146.0 L362.8 150.0 L363.0 153.3 L363.2 156.0 L363.5 157.7 L363.7 159.7 L364.0 161.6 L364.2 162.8 L364.5 164.1 L364.8 165.1 L365.0 166.1 L365.2 166.5 L365.5 167.4 L365.7 168.2 L366.0 168.6 L366.2 168.9 L366.5 169.5 L366.8 169.9 L367.0 170.1 L367.2 170.6 L367.5 170.9 L367.8 171.1 L368.0 171.5 L368.2 171.4 L368.5 171.9 L368.8 171.9 L369.0 172.0 L369.2 172.2 L369.5 172.6 L369.8 172.5 L370.0 172.7 L370.3 172.8 L370.5 172.9 L370.8 173.2 L371.0 173.5 L371.3 173.4 L371.5 173.4 L371.8 173.5 L372.0 173.5 L372.3 173.5 L372.5 173.5 L372.8 173.9 L373.0 173.7 L373.3 173.8 L373.5 173.8 L373.8 174.0 L374.0 173.9 L374.3 174.1 L374.5 174.1 L374.8 174.3 L375.0 174.0 L375.3 174.3 L375.5 174.2 L375.8 174.2 L376.0 174.5 L376.3 174.5 L376.5 174.4 L376.8 174.5 L377.0 174.5 L377.3 174.6 L377.5 174.5 L377.8 174.6 L378.0 174.5 L378.3 174.6 L378.5 174.6 L378.8 174.6 L379.0 174.7 L379.2 174.8 L379.5 174.6 L379.8 174.7 L380.0 174.8 L380.3 174.7 L380.5 174.9 L380.8 174.9 L381.0 174.5 L381.2 174.7 L381.5 174.7 L381.8 175.0 L382.0 175.0 L382.3 174.7 L382.5 174.8 L382.8 174.9 L383.0 174.9 L383.2 175.0 L383.5 175.1 L383.8 175.0 L384.0 175.1 L384.3 175.1 L384.5 175.0 L384.8 174.9 L385.0 174.9 L385.2 175.1 L385.5 175.1 L385.8 175.2 L386.0 175.0 L386.3 175.0 L386.5 175.1 L386.8 175.2 L387.0 175.1 L387.2 175.1 L387.5 175.0 L387.8 175.2 L388.0 175.2 L388.3 175.0 L388.5 175.3 L388.8 175.0 L389.0 175.2 L389.2 175.1 L389.5 175.2 L389.8 175.0 L390.0 175.1 L390.3 175.2 L390.5 175.1 L390.8 175.1 L391.0 175.3 L391.2 175.3 L391.5 175.2 L391.8 175.2 L392.0 175.4 L392.3 175.2 L392.5 175.3 L392.8 175.3 L393.0 175.0 L393.2 175.0 L393.5 175.2 L393.8 175.3 L394.0 175.3 L394.3 175.2 L394.5 175.2 L394.8 175.3 L395.0 175.2 L395.2 175.0 L395.5 175.3 L395.8 175.3 L396.0 175.3 L396.3 175.4 L396.5 175.4 L396.8 175.3 L397.0 175.3 L397.2 175.0 L397.5 175.3 L397.8 175.3 L398.0 175.5 L398.3 175.5 L398.5 175.4 L398.8 175.5 L399.0 175.3 L399.2 175.3 L399.5 175.2 L399.8 175.3 L400.0 175.3 L400.2 175.5 L400.5 175.2 L400.7 175.4 L401.0 175.6 L401.2 175.2 L401.5 175.3 L401.8 175.3 L402.0 175.5 L402.2 175.6 L402.5 175.5 L402.7 175.3 L403.0 175.2 L403.2 175.3 L403.5 175.3 L403.8 175.4 L404.0 175.2 L404.2 175.5 L404.5 175.3 L404.7 175.4 L405.0 175.4 L405.2 175.2 L405.5 175.4 L405.8 175.4 L406.0 175.3 L406.2 175.5 L406.5 175.3 L406.7 175.7 L407.0 175.5 L407.2 175.3 L407.5 175.1 L407.8 175.5 L408.0 175.4 L408.2 175.4 L408.5 175.3 L408.8 175.2 L409.0 175.1 L409.2 175.7 L409.5 175.6 L409.8 175.3 L410.0 175.6 L410.2 175.2 L410.5 175.5 L410.8 175.5 L411.0 175.3 L411.3 175.3 L411.5 175.3 L411.8 175.4 L412.0 175.6 L412.3 175.5 L412.5 175.5 L412.8 175.5 L413.0 175.2 L413.3 175.7 L413.5 175.4 L413.8 175.2 L414.0 175.4 L414.3 175.3 L414.5 175.4 L414.8 175.4 L415.0 175.1 L415.3 175.6 L415.5 175.6 L415.8 175.3 L416.0 175.6 L416.3 175.6 L416.5 175.5 L416.8 175.6 L417.0 175.2 L417.3 175.5 L417.5 175.3 L417.8 175.7 L418.0 175.3 L418.3 175.3 L418.5 175.6 L418.8 175.5 L419.0 175.4 L419.3 175.4 L419.5 175.5 L419.8 175.6 L420.0 175.3 L420.3 175.3 L420.5 175.3 L420.8 175.4 L421.0 175.4 L421.3 175.2 L421.5 175.4 L421.8 175.2 L422.0 175.4 L422.2 175.4 L422.5 175.4 L422.8 175.6 L423.0 175.6 L423.3 175.5 L423.5 175.6 L423.8 175.3 L424.0 175.6 L424.2 175.4 L424.5 175.4 L424.8 175.4 L425.0 175.2 L425.3 175.3 L425.5 175.3 L425.8 175.4 L426.0 175.3 L426.2 175.2 L426.5 175.1 L426.8 175.2 L427.0 175.1 L427.3 175.0 L427.5 175.1 L427.8 175.1 L428.0 175.0 L428.2 174.8 L428.5 175.0 L428.8 175.0 L429.0 174.7 L429.3 174.6 L429.5 174.3 L429.8 174.6 L430.0 174.2 L430.2 174.3 L430.5 174.0 L430.8 173.9 L431.0 173.8 L431.3 173.5 L431.5 174.1 L431.8 173.6 L432.0 173.9 L432.2 173.8 L432.5 174.0 L432.8 174.3 L433.0 174.0 L433.3 174.4 L433.5 174.6 L433.8 174.6 L434.0 174.8 L434.2 174.7 L434.5 174.7 L434.8 174.8 L435.0 175.0 L435.3 175.2 L435.5 175.1 L435.8 175.4 L436.0 175.2 L436.2 175.3 L436.5 175.3 L436.8 175.1 L437.0 175.4 L437.3 175.2 L437.5 175.3 L437.8 175.7 L438.0 175.2 L438.2 175.4 L438.5 175.4 L438.8 175.4 L439.0 175.4 L439.3 175.3 L439.5 175.7 L439.8 175.2 L440.0 175.3 L440.2 175.6 L440.5 175.5 L440.8 175.3 L441.0 175.3 L441.3 175.4 L441.5 175.8 L441.7 175.5 L442.0 175.3 L442.2 175.5 L442.5 175.4 L442.8 175.7 L443.0 175.5 L443.2 175.6 L443.5 175.5 L443.7 175.7 L444.0 175.5 L444.2 175.5 L444.5 175.4 L444.8 175.4 L445.0 175.5 L445.2 175.4 L445.5 175.8 L445.7 175.5 L446.0 175.4 L446.2 175.6 L446.5 175.4 L446.8 175.6 L447.0 175.5 L447.2 175.4 L447.5 175.7 L447.7 175.5 L448.0 175.6 L448.2 175.5 L448.5 175.3 L448.8 175.3 L449.0 175.4 L449.2 175.5 L449.5 175.5 L449.8 175.6 L450.0 175.4 L450.2 175.5 L450.5 175.4 L450.8 175.4 L451.0 175.9 L451.2 175.7 L451.5 175.5 L451.8 175.8 L452.0 175.7 L452.2 175.6 L452.5 175.7 L452.8 175.5 L453.0 175.5 L453.3 175.4 L453.5 175.6 L453.8 175.4 L454.0 175.5 L454.3 175.6 L454.5 175.5 L454.8 175.6 L455.0 175.8 L455.3 175.4 L455.5 175.7 L455.8 175.4 L456.0 175.4 L456.3 175.6 L456.5 175.7 L456.8 175.4 L457.0 175.4 L457.3 175.5 L457.5 175.4 L457.8 175.6 L458.0 175.4 L458.3 175.5 L458.5 175.6 L458.8 175.5 L459.0 175.7 L459.3 175.4 L459.5 175.4 L459.8 175.8 L460.0 175.7 L460.3 175.5 L460.5 175.6 L460.8 175.6 L461.0 175.5 L461.3 175.6 L461.5 175.6 L461.8 175.7 L462.0 175.3 L462.3 175.6 L462.5 175.5 L462.8 175.4 L463.0 175.5 L463.2 175.5 L463.5 175.3 L463.8 175.4 L464.0 175.6 L464.3 175.3 L464.5 175.5 L464.8 175.2 L465.0 175.4 L465.2 175.6 L465.5 175.5 L465.8 175.5 L466.0 175.4 L466.3 175.6 L466.5 175.4 L466.8 175.6 L467.0 175.5 L467.2 175.4 L467.5 175.7 L467.8 175.4 L468.0 175.6 L468.3 175.5 L468.5 175.4 L468.8 175.6 L469.0 175.5 L469.2 175.4 L469.5 175.4 L469.8 175.4 L470.0 175.4 L470.3 175.3 L470.5 175.2 L470.8 175.0 L471.0 175.3 L471.2 175.2 L471.5 175.4 L471.8 175.2 L472.0 175.3 L472.3 175.3 L472.5 175.0 L472.8 174.8 L473.0 174.9 L473.2 174.7 L473.5 174.6 L473.8 174.7 L474.0 174.4 L474.3 174.4 L474.5 173.9 L474.8 174.0 L475.0 174.1 L475.2 173.7 L475.5 173.9 L475.8 173.9 L476.0 173.6 L476.3 174.2 L476.5 174.0 L476.8 174.1 L477.0 174.5 L477.2 174.1 L477.5 174.5 L477.8 174.5 L478.0 174.7 L478.3 174.7 L478.5 175.0 L478.8 174.8 L479.0 175.1 L479.2 175.2 L479.5 175.1 L479.8 175.2 L480.0 175.2 L480.3 175.4 L480.5 175.4 L480.8 175.3 L481.0 175.2 L481.2 175.4 L481.5 175.5 L481.8 175.4 L482.0 175.6 L482.3 175.2 L482.5 175.8 L482.8 175.4 L483.0 175.3 L483.2 175.3 L483.5 175.6 L483.8 175.6 L484.0 175.5 L484.3 175.5 L484.5 175.5 L484.7 175.5 L485.0 175.7 L485.2 175.6 L485.5 175.5 L485.8 175.3 L486.0 175.7 L486.2 175.5 L486.5 175.4 L486.7 175.7 L487.0 175.6 L487.2 175.3 L487.5 175.3 L487.8 175.5 L488.0 175.4 L488.2 175.5 L488.5 175.9 L488.7 175.9 L489.0 175.6 L489.2 175.7 L489.5 175.7 L489.8 175.6 L490.0 175.4 L490.2 175.7 L490.5 175.5 L490.8 175.6 L491.0 175.7 L491.2 175.5 L491.5 175.8 L491.8 175.6 L492.0 175.6 L492.2 175.5 L492.5 175.7 L492.8 175.7 L493.0 175.5 L493.2 175.7 L493.5 175.5 L493.8 175.4 L494.0 175.5 L494.3 175.7 L494.5 175.7 L494.8 175.7 L495.0 175.5 L495.3 175.5 L495.5 175.6 L495.8 175.7 L496.0 175.6 L496.3 175.5 L496.5 175.4 L496.8 175.7 L497.0 175.7 L497.3 175.5 L497.5 175.8 L497.8 175.6 L498.0 175.7 L498.3 175.8 L498.5 175.5 L498.8 175.5 L499.0 175.4 L499.3 175.6 L499.5 175.7 L499.8 175.7 L500.0 175.7 L500.3 175.6 L500.5 175.7 L500.8 175.5 L501.0 175.6 L501.3 175.7 L501.5 175.6 L501.8 175.8 L502.0 175.7 L502.3 175.8 L502.5 175.7 L502.8 175.6 L503.0 175.8 L503.3 175.7 L503.5 175.6 L503.8 175.6 L504.0 175.5 L504.3 175.6 L504.5 175.6 L504.8 175.6 L505.0 175.5 L505.3 175.7 L505.5 175.6 L505.8 175.4 L506.0 175.5 L506.2 175.5 L506.5 175.4 L506.8 175.6 L507.0 175.7 L507.3 175.4 L507.5 175.3 L507.8 175.6 L508.0 176.0 L508.2 175.5 L508.5 175.6 L508.8 175.5 L509.0 175.7 L509.3 175.8 L509.5 175.6 L509.8 175.7 L510.0 175.4 L510.2 175.6 L510.5 175.4 L510.8 175.6 L511.0 175.5 L511.3 175.6 L511.5 175.4 L511.8 175.6 L512.0 175.6 L512.2 175.5 L512.5 175.5 L512.8 175.4 L513.0 175.5 L513.2 175.6 L513.5 175.6 L513.8 175.6 L514.0 175.7 L514.2 175.5 L514.5 175.6 L514.8 175.7 L515.0 175.6 L515.2 175.6 L515.5 175.6 L515.8 175.8 L516.0 175.6 L516.2 175.5 L516.5 175.6 L516.8 175.8 L517.0 175.8 L517.2 175.6 L517.5 175.7 L517.8 175.6 L518.0 175.6 L518.2 175.6 L518.5 175.6 L518.8 175.6 L519.0 175.8 L519.3 175.5 L519.5 175.7 L519.8 175.8 L520.0 175.8 L520.2 175.6 L520.5 175.5 L520.8 175.3 L521.0 175.5 L521.3 175.9 L521.5 175.3 L521.8 175.3 L522.0 175.6 L522.2 175.6 L522.5 175.3 L522.8 175.5 L523.0 175.6 L523.3 175.3 L523.5 175.6 L523.8 175.3 L524.0 175.6 L524.2 175.5 L524.5 175.4 L524.8 175.3 L525.0 175.4 L525.3 175.5 L525.5 175.4 L525.8 175.4 L526.0 175.4 L526.2 175.6 L526.5 175.3 L526.8 175.4 L527.0 175.5 L527.2 175.4 L527.5 175.5 L527.8 175.6 L528.0 175.3 L528.2 175.4 L528.5 175.0 L528.8 175.3 L529.0 175.4 L529.2 175.2 L529.5 175.5 L529.8 175.1 L530.0 175.5 L530.2 175.2 L530.5 175.1 L530.8 175.2 L531.0 175.2 L531.2 175.1 L531.5 175.0 L531.8 175.1 L532.0 175.3 L532.2 175.2 L532.5 175.3 L532.8 175.0 L533.0 175.0 L533.2 175.0 L533.5 175.0 L533.8 175.0 L534.0 175.2 L534.2 175.0 L534.5 174.9 L534.8 175.0 L535.0 174.7 L535.2 174.5 L535.5 174.7 L535.8 174.6 L536.0 174.5 L536.2 174.6 L536.5 174.3 L536.8 174.2 L537.0 174.2 L537.2 174.1 L537.5 174.0 L537.8 173.7 L538.0 173.6 L538.2 173.0 L538.5 173.2 L538.8 172.6 L539.0 172.4 L539.2 172.4 L539.5 171.6 L539.8 170.9 L540.0 170.7 L540.2 169.8 L540.5 169.1 L540.8 168.2 L541.0 167.4 L541.2 166.4 L541.5 165.2 L541.8 164.3 L542.0 162.9 L542.2 162.1 L542.5 161.0 L542.8 160.5 L543.0 159.8 L543.2 159.7 L543.5 160.0 L543.8 160.0 L544.0 160.5 L544.2 161.4 L544.5 162.1 L544.8 162.9 L545.0 163.8 L545.2 165.0 L545.5 165.5 L545.8 166.5 L546.0 167.4 L546.2 168.1 L546.5 169.0 L546.8 169.8 L547.0 170.3 L547.2 171.1 L547.5 171.3 L547.8 171.9 L548.0 172.4 L548.2 173.1 L548.5 172.7 L548.8 173.3 L549.0 173.8 L549.2 173.6 L549.5 174.0 L549.8 174.0 L550.0 173.9 L550.2 174.3 L550.5 174.2 L550.8 174.4 L551.0 174.3 L551.2 174.7 L551.5 174.3 L551.8 174.7 L552.0 174.9 L552.2 174.9 L552.5 174.8 L552.8 174.9 L553.0 174.9 L553.2 175.3 L553.5 175.0 L553.8 175.1 L554.0 175.0 L554.2 175.1 L554.5 175.2 L554.8 175.1 L555.0 175.1 L555.2 175.1 L555.5 175.2 L555.8 175.3 L556.0 175.2 L556.2 175.3 L556.5 175.2 L556.8 175.5 L557.0 175.4 L557.2 175.3 L557.5 175.4 L557.8 175.4 L558.0 175.2 L558.2 175.4 L558.5 175.6 L558.8 175.5 L559.0 175.6 L559.2 175.4 L559.5 175.3 L559.8 175.4 L560.0 175.6 L560.2 175.3 L560.5 175.4 L560.8 175.6 L561.0 175.5 L561.2 175.5 L561.5 175.6 L561.8 175.5 L562.0 175.5 L562.2 175.6 L562.5 175.4 L562.8 175.5 L563.0 175.6 L563.2 175.4 L563.5 175.5 L563.8 175.4 L564.0 175.7 L564.2 175.7 L564.5 175.7 L564.8 175.7 L565.0 175.7 L565.2 175.7 L565.5 175.5 L565.8 175.7 L566.0 175.5 L566.2 175.9 L566.5 175.6 L566.8 175.7 L567.0 175.4 L567.2 175.8 L567.5 175.8 L567.8 175.4 L568.0 175.5 L568.2 175.6 L568.5 175.5 L568.8 175.8 L569.0 175.9 L569.2 175.5 L569.5 175.8 L569.8 175.6 L570.0 175.8 L570.2 175.3 L570.5 175.6 L570.8 175.8 L571.0 175.6 L571.2 175.8 L571.5 175.6 L571.8 175.8 L572.0 175.7 L572.2 175.6 L572.5 175.6 L572.8 175.6 L573.0 175.8 L573.2 175.7 L573.5 175.6 L573.8 176.1 L574.0 175.5 L574.2 175.6 L574.5 175.7 L574.8 175.5 L575.0 175.7 L575.2 175.6 L575.5 175.5 L575.8 175.7 L576.0 175.5 L576.2 175.6 L576.5 175.8 L576.8 175.5 L577.0 175.8 L577.2 175.8 L577.5 175.8 L577.8 175.8 L578.0 175.7 L578.2 175.5 L578.5 175.7 L578.8 175.8 L579.0 175.6 L579.2 175.6 L579.5 175.8 L579.8 175.6 L580.0 175.8 L580.2 175.6 L580.5 175.5 L580.8 175.9 L581.0 175.8 L581.2 175.8 L581.5 175.5 L581.8 175.7 L582.0 175.7 L582.2 175.6 L582.5 175.9 L582.8 175.4 L583.0 175.8 L583.2 175.5 L583.5 175.5 L583.8 175.5 L584.0 175.8 L584.2 175.6 L584.5 175.6 L584.8 175.6 L585.0 175.5 L585.2 175.6 L585.5 175.6 L585.8 175.7 L586.0 175.7 L586.2 175.4 L586.5 175.6 L586.8 175.9 L587.0 175.7 L587.2 175.7 L587.5 175.6 L587.8 175.6 L588.0 175.7 L588.2 175.5 L588.5 175.7 L588.8 175.5 L589.0 175.8 L589.2 175.5 L589.5 175.8 L589.8 175.9 L590.0 175.5 L590.2 175.8 L590.5 175.7 L590.8 175.9 L591.0 175.7 L591.3 175.7 L591.5 175.7 L591.8 175.9 L592.0 175.5 L592.3 175.8 L592.5 175.7 L592.8 175.7 L593.0 175.7 L593.3 175.9 L593.5 175.8 L593.8 176.0 L594.0 175.6 L594.3 175.5 L594.5 175.7 L594.8 175.7 L595.0 175.7 L595.3 175.9 L595.5 176.0 L595.8 175.8 L596.0 175.5 L596.3 175.9 L596.5 175.7 L596.8 175.7 L597.0 175.8 L597.3 175.8 L597.5 175.7 L597.8 175.8 L598.0 175.8 L598.3 175.8 L598.5 176.0 L598.8 175.4 L599.0 175.6 L599.3 175.7 L599.5 175.8 L599.8 175.8 L600.0 175.9 L600.3 175.6 L600.5 175.7 L600.8 175.8 L601.0 175.7 L601.3 175.7 L601.5 175.8 L601.8 176.0 L602.0 175.5 L602.2 176.0 L602.5 175.8 L602.8 175.6 L603.0 175.8 L603.2 175.8 L603.5 175.9 L603.8 175.6 L604.0 175.9 L604.2 175.6 L604.5 175.8 L604.8 175.8 L605.0 175.7 L605.2 175.8 L605.5 175.7 L605.8 175.9 L606.0 175.7 L606.2 175.7 L606.5 175.7 L606.8 175.7 L607.0 175.6 L607.2 175.9 L607.5 175.7 L607.8 175.8 L608.0 175.6 L608.2 175.6 L608.5 175.7 L608.8 175.6 L609.0 175.7 L609.2 175.8 L609.5 175.9 L609.8 175.9 L610.0 175.9 L610.2 175.7 L610.5 175.8 L610.8 175.7 L611.0 175.8 L611.2 175.6 L611.5 175.9 L611.8 175.8 L612.0 175.7 L612.2 175.6 L612.5 175.8 L612.8 175.7 L613.0 175.8 L613.2 175.7 L613.5 175.7 L613.8 175.8 L614.0 175.9 L614.2 175.6 L614.5 175.7 L614.8 175.8 L615.0 175.7 L615.2 175.7 L615.5 176.0 L615.8 175.6 L616.0 175.8 L616.2 175.7 L616.5 175.7 L616.8 175.5 L617.0 175.9 L617.2 175.7 L617.5 175.6 L617.8 176.0 L618.0 175.7 L618.3 175.7 L618.5 175.6 L618.8 175.9 L619.0 175.8 L619.3 175.7 L619.5 175.6 L619.8 175.6 L620.0 175.8 L620.3 175.7 L620.5 175.5 L620.8 175.6 L621.0 175.8 L621.3 176.1 L621.5 175.7 L621.8 175.5 L622.0 175.9 L622.3 175.7 L622.5 175.6 L622.8 175.8 L623.0 175.7 L623.3 175.6 L623.5 175.6 L623.8 175.7 L624.0 175.8 L624.3 175.5 L624.5 175.9 L624.8 175.6 L625.0 175.9 L625.2 175.8 L625.5 175.7 L625.8 175.8 L626.0 175.7 L626.2 175.7 L626.5 176.0 L626.8 175.7 L627.0 175.9 L627.2 175.6 L627.5 175.7 L627.8 175.9 L628.0 175.6 L628.2 175.8 L628.5 175.5 L628.8 175.6 L629.0 175.7 L629.2 175.9 L629.5 175.8 L629.8 175.6 L630.0 175.7 L630.3 175.8 L630.5 175.5 L630.8 175.8 L631.0 175.9 L631.3 175.9 L631.5 175.7 L631.8 175.7 L632.0 175.6 L632.3 175.7 L632.5 175.7 L632.8 175.8 L633.0 175.8 L633.3 175.6 L633.5 175.9 L633.8 175.9 L634.0 175.7 L634.3 175.7 L634.5 175.7 L634.8 175.5 L635.0 175.8 L635.3 175.8 L635.5 176.0 L635.8 175.8 L636.0 175.7 L636.3 175.7 L636.5 175.8 L636.8 175.8 L637.0 175.6 L637.3 175.8 L637.5 175.8 L637.8 175.5 L638.0 175.9 L638.3 175.7 L638.5 175.9 L638.8 175.7 L639.0 175.7 L639.3 175.7 L639.5 175.8 L639.8 175.9 L640.0 175.7 L640.3 175.6 L640.5 175.6 L640.8 175.6 L641.0 175.8 L641.3 175.6 L641.5 175.9 L641.8 175.8 L642.0 175.7 L642.3 175.9 L642.5 175.7 L642.8 175.7 L643.0 175.8 L643.3 175.8 L643.5 175.6 L643.8 176.1 L644.0 175.8 L644.3 175.6 L644.5 175.7 L644.8 175.9 L645.0 175.8 L645.2 175.8 L645.5 176.0 L645.8 175.8 L646.0 176.0 L646.2 175.8 L646.5 175.6 L646.8 175.9 L647.0 175.6 L647.2 175.8 L647.5 175.8 L647.8 175.6 L648.0 175.6 L648.2 175.7 L648.5 175.8 L648.8 175.9 L649.0 175.7 L649.2 176.0 L649.5 175.8 L649.8 175.6 L650.0 175.6 L650.2 175.7 L650.5 175.6 L650.8 175.7 L651.0 175.8 L651.2 175.7 L651.5 175.8 L651.8 175.6 L652.0 175.6 L652.2 175.5 L652.5 175.5 L652.8 175.6 L653.0 175.7 L653.2 175.7 L653.5 175.7 L653.8 176.0 L654.0 175.6 L654.2 175.7 L654.5 175.6 L654.8 175.6 L655.0 175.9 L655.2 175.7 L655.5 175.8 L655.8 175.5 L656.0 175.9 L656.2 176.0 L656.5 175.6 L656.8 175.7 L657.0 175.7 L657.2 175.7 L657.5 175.5 L657.8 175.7 L658.0 175.8 L658.2 175.6 L658.5 175.4 L658.8 175.6 L659.0 175.6 L659.2 175.7 L659.5 175.6 L659.8 175.5 L660.0 175.7 L660.2 175.7 L660.5 175.7 L660.8 175.6 L661.0 175.7 L661.2 175.7 L661.5 175.4 L661.8 175.6 L662.0 175.7 L662.2 175.6 L662.5 175.8 L662.8 175.5 L663.0 175.7 L663.2 175.4 L663.5 175.6 L663.8 175.5 L664.0 175.4 L664.2 175.4 L664.5 175.5 L664.8 175.6 L665.0 175.4 L665.2 175.3 L665.5 175.4 L665.8 175.6 L666.0 175.3 L666.2 175.6 L666.5 175.2 L666.8 175.4 L667.0 175.5 L667.2 175.5 L667.5 175.3 L667.8 175.2 L668.0 175.1 L668.2 175.4 L668.5 175.3 L668.8 175.2 L669.0 175.2 L669.2 175.2 L669.5 175.2 L669.8 175.3 L670.0 174.8 L670.2 175.2 L670.5 175.0 L670.8 175.0 L671.0 174.9 L671.3 174.9 L671.5 174.9 L671.8 174.8 L672.0 174.5 L672.3 174.6 L672.5 174.5 L672.8 174.5 L673.0 174.3 L673.3 174.2 L673.5 174.2 L673.8 173.7 L674.0 173.9 L674.3 173.3 L674.5 173.0 L674.8 173.0 L675.0 172.7 L675.3 172.3 L675.5 171.9 L675.8 171.3 L676.0 170.8 L676.3 170.3 L676.5 169.6 L676.8 168.9 L677.0 168.5 L677.3 167.9 L677.5 166.9 L677.8 166.3 L678.0 165.6 L678.3 164.9 L678.5 164.6 L678.8 164.4 L679.0 164.3 L679.3 164.2 L679.5 164.2 L679.8 164.8 L680.0 165.3 L680.3 165.2 L680.5 165.9 L680.8 166.5 L681.0 166.8 L681.3 167.3 L681.5 168.0 L681.8 168.6 L682.0 169.1 L682.3 169.9 L682.5 170.4 L682.8 170.8 L683.0 171.2 L683.3 171.6 L683.5 172.2 L683.8 172.4 L684.0 172.9 L684.3 173.2 L684.5 173.2 L684.8 173.6 L685.0 173.9 L685.3 174.0 L685.5 174.0 L685.8 174.2 L686.0 174.3 L686.3 174.5 L686.5 174.6 L686.8 174.6 L687.0 174.9 L687.2 175.0 L687.5 174.8 L687.8 174.7 L688.0 175.0 L688.2 175.0 L688.5 175.1 L688.8 175.0 L689.0 175.2 L689.2 175.1 L689.5 175.4 L689.8 175.5 L690.0 175.1 L690.2 175.0 L690.5 175.3 L690.8 175.3 L691.0 175.4 L691.2 175.4 L691.5 175.5 L691.8 175.8 L692.0 175.4 L692.2 175.4 L692.5 175.5 L692.8 175.2 L693.0 175.6 L693.2 175.4 L693.5 175.3 L693.8 175.4 L694.0 175.6 L694.2 175.6 L694.5 175.7 L694.8 175.6 L695.0 175.5 L695.2 175.6 L695.5 175.6 L695.8 175.9 L696.0 175.3 L696.2 175.8 L696.5 175.7 L696.8 175.7 L697.0 175.6 L697.2 175.5 L697.5 175.5 L697.8 175.4 L698.0 175.9 L698.2 175.8 L698.5 175.7 L698.8 175.7 L699.0 175.4 L699.2 175.6 L699.5 175.7 L699.8 175.8 L700.0 175.5 L700.2 175.7 L700.5 175.6 L700.8 175.7 L701.0 175.6 L701.2 175.7 L701.5 175.7 L701.8 175.5 L702.0 175.9 L702.2 176.0 L702.5 175.6 L702.8 175.9 L703.0 175.6 L703.2 175.6 L703.5 175.9 L703.8 175.7 L704.0 175.9 L704.2 175.8 L704.5 175.9 L704.8 175.7 L705.0 175.9 L705.2 176.0 L705.5 175.8 L705.8 175.7 L706.0 175.7 L706.2 175.6 L706.5 175.8 L706.8 175.8 L707.0 175.7 L707.2 175.9 L707.5 175.7 L707.8 176.0 L708.0 175.9 L708.2 176.0 L708.5 175.7 L708.8 175.6 L709.0 175.5 L709.2 175.8 L709.5 175.6 L709.8 175.9 L710.0 175.8 L710.2 175.9 L710.5 175.6 L710.8 175.7 L711.0 175.8 L711.2 175.9 L711.5 175.6 L711.8 175.8 L712.0 175.7 L712.2 175.9 L712.5 175.7 L712.8 175.7 L713.0 175.8 L713.3 175.9 L713.5 175.7 L713.8 175.9 L714.0 175.6 L714.3 175.8 L714.5 175.6 L714.8 175.8 L715.0 175.7 L715.3 175.8 L715.5 175.9 L715.8 175.7 L716.0 175.6 L716.3 175.8 L716.5 175.8 L716.7 175.8 L717.0 175.7 L717.2 175.9 L717.5 175.7 L717.8 175.9 L718.0 175.7 L718.3 175.8 L718.5 175.9 L718.8 175.7 L719.0 175.7 L719.3 175.9 L719.5 175.9 L719.8 175.8 L720.0 175.8 L720.3 175.6 L720.5 175.8 L720.7 175.6 L721.0 175.8 L721.2 175.5 L721.5 176.0 L721.8 176.0 L722.0 175.8 L722.3 175.7 L722.5 175.8 L722.8 175.9 L723.0 175.9 L723.3 175.7 L723.5 175.9 L723.8 175.9 L724.0 175.9 L724.3 175.7 L724.5 175.8 L724.7 175.7 L725.0 175.8 L725.2 175.7 L725.5 175.9 L725.8 175.8 L726.0 175.8 L726.3 175.8 L726.5 175.8 L726.8 175.6 L727.0 176.0 L727.3 175.8 L727.5 175.7 L727.8 175.7 L728.0 175.7 L728.3 175.7 L728.5 175.8 L728.8 175.7 L729.0 175.8 L729.2 175.8 L729.5 175.7 L729.8 176.1 L730.0 175.8 L730.3 175.8 L730.5 175.8 L730.8 175.8 L731.0 175.9 L731.2 176.0 L731.5 175.8 L731.8 175.7 L732.0 175.9 L732.2 175.5 L732.5 175.8 L732.8 175.8 L733.0 175.8 L733.2 175.6 L733.5 175.7 L733.8 175.7 L734.0 175.7 L734.3 175.9 L734.5 175.8 L734.8 175.7 L735.0 175.9 L735.2 175.8 L735.5 175.5 L735.8 175.7 L736.0 175.8 L736.2 175.9 L736.5 175.8 L736.8 175.8 L737.0 175.7 L737.2 175.8 L737.5 175.6 L737.8 175.7 L738.0 175.7 L738.3 175.7 L738.5 175.7 L738.8 175.8 L739.0 175.7 L739.2 175.9 L739.5 175.7 L739.8 176.0 L740.0 175.9 L740.2 175.6 L740.5 175.9 L740.8 175.6 L741.0 176.0 L741.2 175.8 L741.5 175.7 L741.8 175.5 L742.0 175.7 L742.3 175.6 L742.5 175.9 L742.8 175.6 L743.0 175.8 L743.2 175.8 L743.5 175.8 L743.8 175.8 L744.0 175.8 L744.2 175.9 L744.5 175.7 L744.8 175.9 L745.0 175.6 L745.2 175.8 L745.5 175.6 L745.8 175.8 L746.0 175.9 L746.3 175.9 L746.5 175.6 L746.8 175.7 L747.0 175.7 L747.2 175.9 L747.5 175.7 L747.8 175.9 L748.0 175.7 L748.2 175.6 L748.5 175.8 L748.8 175.6 L749.0 175.9 L749.2 175.9 L749.5 175.9 L749.8 175.6 L750.0 176.0 L750.3 175.9 L750.5 175.5 L750.8 176.1 L751.0 176.0 L751.2 175.6 L751.5 175.8 L751.7 175.6 L752.0 175.8 L752.2 175.8 L752.5 175.9 L752.8 175.7 L753.0 175.8 L753.2 175.7 L753.5 175.8 L753.8 175.9 L754.0 175.8 L754.3 175.9 L754.5 175.9 L754.8 175.8 L755.0 175.9 L755.3 175.6 L755.5 175.8 L755.7 175.5 L756.0 175.8 L756.2 175.7 L756.5 175.9 L756.8 175.7 L757.0 175.7 L757.3 175.8 L757.5 175.7 L757.8 175.8 L758.0 175.6 L758.3 175.6 L758.5 175.6 L758.8 175.9 L759.0 175.6 L759.3 175.7 L759.5 175.6 L759.7 175.9 L760.0 175.7 L760.2 175.9 L760.5 175.7 L760.8 175.8 L761.0 175.9 L761.3 175.9 L761.5 175.6 L761.8 175.7 L762.0 175.7 L762.3 175.5 L762.5 175.8 L762.8 175.8 L763.0 175.8 L763.3 175.6 L763.5 175.8 L763.7 175.8 L764.0 175.9 L764.2 175.7 L764.5 175.8 L764.8 176.0 L765.0 175.7 L765.3 175.7 L765.5 175.7 L765.8 175.5 L766.0 175.7 L766.3 175.9 L766.5 175.6 L766.8 175.7 L767.0 175.9 L767.3 175.8 L767.5 175.8 L767.8 175.7 L768.0 175.7 L768.2 175.7 L768.5 175.8 L768.8 175.7 L769.0 175.8 L769.3 175.5 L769.5 175.8 L769.8 175.6 L770.0 175.7 L770.3 175.6 L770.5 175.8 L770.8 175.7 L771.0 175.8 L771.3 175.6 L771.5 175.7 L771.8 175.8 L772.0 175.8 L772.2 175.6 L772.5 175.7 L772.8 175.6 L773.0 175.7 L773.3 175.7 L773.5 175.8 L773.8 175.7 L774.0 175.8 L774.2 175.8 L774.5 175.5 L774.8 175.7 L775.0 175.6 L775.2 175.4 L775.5 175.5 L775.8 175.6 L776.0 175.8 L776.2 175.6 L776.5 175.6 L776.8 175.6 L777.0 175.5 L777.3 175.6 L777.5 175.6 L777.8 175.4 L778.0 175.5 L778.2 176.0 L778.5 175.6 L778.8 175.5 L779.0 175.6 L779.2 175.4 L779.5 175.5 L779.8 175.6 L780.0 175.3 L780.2 175.4 L780.5 175.4 L780.8 175.4 L781.0 175.4 L781.3 175.5 L781.5 175.6 L781.8 175.5 L782.0 175.5 L782.2 175.5 L782.5 175.3 L782.8 175.4 L783.0 175.3 L783.2 175.4 L783.5 175.2 L783.8 175.2 L784.0 175.5 L784.2 175.2 L784.5 175.0 L784.8 175.2 L785.0 175.2 L785.3 175.0 L785.5 175.1 L785.8 175.1 L786.0 174.9 L786.2 174.9 L786.5 174.8 L786.8 174.8 L787.0 174.7 L787.2 174.6 L787.5 174.6 L787.8 174.7 L788.0 174.2 L788.2 174.1 L788.5 174.2 L788.8 173.8 L789.0 174.1 L789.3 173.4 L789.5 173.2 L789.8 173.1 L790.0 173.0 L790.2 172.7 L790.5 172.3 L790.8 171.9 L791.0 171.6 L791.2 170.7 L791.5 170.5 L791.8 170.1 L792.0 169.2 L792.2 168.8 L792.5 168.3 L792.8 167.6 L793.0 166.8 L793.3 166.4 L793.5 165.6 L793.8 165.1 L794.0 164.4 L794.2 164.0 L794.5 163.7 L794.7 163.8 L795.0 163.3 L795.2 163.4 L795.5 163.9 L795.8 164.1 L796.0 164.0 L796.3 164.7 L796.5 165.1 L796.8 165.8 L797.0 165.8 L797.3 166.5 L797.5 167.2 L797.8 167.7 L798.0 168.0 L798.3 168.6 L798.5 169.0 L798.7 169.9 L799.0 170.1 L799.2 170.8 L799.5 171.2 L799.8 171.4 L800.0 171.9 L800.3 172.3 L800.5 172.6 L800.8 173.0 L801.0 173.3 L801.3 173.4 L801.5 173.7 L801.8 173.7 L802.0 173.9 L802.3 174.2 L802.5 174.3 L802.7 174.2 L803.0 174.4 L803.2 174.5 L803.5 174.6 L803.8 174.9 L804.0 174.7 L804.3 174.8 L804.5 175.0 L804.8 175.0 L805.0 175.0 L805.3 174.9 L805.5 175.1 L805.8 175.1 L806.0 175.0 L806.3 175.1 L806.5 175.2 L806.7 175.3 L807.0 175.5 L807.2 175.3 L807.5 175.5 L807.8 175.3 L808.0 175.2 L808.3 175.4 L808.5 175.5 L808.8 175.6 L809.0 175.3 L809.3 175.7 L809.5 175.3 L809.8 175.3 L810.0 175.4 L810.3 175.6 L810.5 175.5 L810.8 175.6 L811.0 175.2 L811.2 175.5 L811.5 175.5 L811.8 175.6 L812.0 175.5 L812.3 175.7 L812.5 175.5 L812.8 175.4 L813.0 175.4 L813.3 175.7 L813.5 175.7 L813.8 175.5 L814.0 175.7 L814.3 175.6 L814.5 175.6 L814.8 175.4 L815.0 175.5 L815.2 175.6 L815.5 175.6 L815.8 175.5 L816.0 175.7 L816.3 175.8 L816.5 175.5 L816.8 175.7 L817.0 175.4 L817.2 175.7 L817.5 175.5 L817.8 175.6 L818.0 175.7 L818.2 175.6 L818.5 175.8 L818.8 175.5 L819.0 175.6 L819.2 175.7 L819.5 175.6 L819.8 175.7 L820.0 175.6 L820.3 175.6 L820.5 175.7 L820.8 175.7 L821.0 175.8 L821.2 175.8 L821.5 175.6 L821.8 175.6 L822.0 175.6 L822.2 175.6 L822.5 175.4 L822.8 175.9 L823.0 175.7 L823.2 176.0 L823.5 175.6 L823.8 175.7 L824.0 175.7 L824.3 175.6 L824.5 175.8 L824.8 175.7 L825.0 175.6 L825.2 175.7 L825.5 175.4 L825.8 175.6 L826.0 175.5 L826.2 175.8 L826.5 175.7 L826.8 175.7 L827.0 175.7 L827.2 175.6 L827.5 175.8 L827.8 175.6 L828.0 175.4 L828.3 175.7 L828.5 175.7 L828.8 175.6 L829.0 175.6 L829.2 175.7 L829.5 175.7 L829.8 175.6 L830.0 175.7 L830.2 175.5 L830.5 175.7 L830.8 175.3 L831.0 175.5 L831.2 175.4 L831.5 175.4 L831.8 175.2 L832.0 175.4 L832.3 175.2 L832.5 175.0 L832.8 175.0 L833.0 175.0 L833.2 175.0 L833.5 174.8 L833.8 174.7 L834.0 174.8 L834.2 174.7 L834.5 174.8 L834.8 174.4 L835.0 174.5 L835.2 174.6 L835.5 174.2 L835.8 174.3 L836.0 174.2 L836.3 174.1 L836.5 174.3 L836.8 174.0 L837.0 174.0 L837.3 173.9 L837.5 174.1 L837.7 174.3 L838.0 174.2 L838.2 174.4 L838.5 174.2 L838.8 174.5 L839.0 174.4 L839.3 174.5 L839.5 174.8 L839.8 174.6 L840.0 174.8 L840.3 174.8 L840.5 174.9 L840.8 174.9 L841.0 174.8 L841.3 175.1 L841.5 175.1 L841.7 175.2 L842.0 175.1 L842.2 175.4 L842.5 175.2 L842.8 175.3 L843.0 175.4 L843.3 175.2 L843.5 175.2 L843.8 175.5 L844.0 175.5 L844.3 175.5 L844.5 175.3 L844.8 175.4 L845.0 175.5 L845.3 175.6 L845.5 175.7 L845.7 175.6 L846.0 175.6 L846.2 175.7 L846.5 175.2 L846.8 175.7 L847.0 175.5 L847.3 175.6 L847.5 175.6 L847.8 175.4 L848.0 175.4 L848.3 175.6 L848.5 175.5 L848.8 175.6 L849.0 175.5 L849.3 175.8 L849.5 175.5 L849.8 175.8 L850.0 175.4 L850.2 175.6 L850.5 175.7 L850.8 175.3 L851.0 175.4 L851.3 175.6 L851.5 175.6 L851.8 175.7 L852.0 175.6 L852.3 175.6 L852.5 175.3 L852.8 175.4 L853.0 175.6 L853.3 175.4 L853.5 175.4 L853.8 175.2 L854.0 175.4 L854.2 175.2 L854.5 175.4 L854.8 175.6 L855.0 175.4 L855.3 175.4 L855.5 175.3 L855.8 175.4 L856.0 175.2 L856.3 175.2 L856.5 175.5 L856.8 175.1 L857.0 175.2 L857.3 175.0 L857.5 175.3 L857.8 175.1 L858.0 175.0 L858.2 174.9 L858.5 175.2 L858.8 175.1 L859.0 175.1 L859.3 174.9 L859.5 175.0 L859.8 175.0 L860.0 174.8 L860.2 174.5 L860.5 174.4 L860.8 174.3 L861.0 174.5 L861.2 174.1 L861.5 174.1 L861.8 174.1 L862.0 173.8 L862.2 173.6 L862.5 173.6 L862.8 173.4 L863.0 173.1 L863.3 172.9 L863.5 172.7 L863.8 172.1 L864.0 171.8 L864.2 171.2 L864.5 171.0 L864.8 170.5 L865.0 170.2 L865.2 169.7 L865.5 169.3 L865.8 168.7 L866.0 168.2 L866.2 167.6 L866.5 167.1 L866.8 166.6 L867.0 166.2 L867.3 165.8 L867.5 165.7 L867.8 165.5 L868.0 165.1 L868.2 165.0 L868.5 165.3 L868.8 165.5 L869.0 165.7 L869.2 166.2 L869.5 166.2 L869.8 166.5 L870.0 167.0 L870.2 167.4 L870.5 167.9 L870.8 167.9 L871.0 168.4 L871.3 168.7 L871.5 169.4 L871.8 169.6 L872.0 169.9 L872.2 170.4 L872.5 170.6 L872.8 170.9 L873.0 171.2 L873.2 171.4 L873.5 171.7 L873.8 171.9 L874.0 172.1 L874.2 172.4 L874.5 172.4 L874.8 172.4 L875.0 172.2 L875.3 172.3 L875.5 172.3 L875.8 172.3 L876.0 172.1 L876.2 172.1 L876.5 172.0 L876.8 171.7 L877.0 171.6 L877.2 171.3 L877.5 171.0 L877.8 170.6 L878.0 170.4 L878.3 170.1 L878.5 169.6 L878.8 169.1 L879.0 168.9 L879.3 168.7 L879.5 168.1 L879.8 168.2 L880.0 167.7 L880.3 167.6 L880.5 167.4 L880.7 167.5 L881.0 167.4 L881.2 167.5 L881.5 167.3 L881.8 167.8 L882.0 167.7 L882.3 168.1 L882.5 168.5 L882.8 168.6 L883.0 169.0 L883.3 169.3 L883.5 169.6 L883.8 169.8 L884.0 170.3 L884.3 170.7 L884.5 170.8 L884.7 171.1 L885.0 171.5 L885.2 171.7 L885.5 172.1 L885.8 172.5 L886.0 172.8 L886.3 173.1 L886.5 173.2 L886.8 173.2 L887.0 173.5 L887.3 173.8 L887.5 174.2 L887.8 174.0 L888.0 174.1 L888.3 174.5 L888.5 174.4 L888.7 174.6 L889.0 174.8 L889.2 174.6 L889.5 174.8 L889.8 174.8 L890.0 175.0 L890.3 175.1 L890.5 175.0 L890.8 175.2 L891.0 174.9 L891.3 175.2 L891.5 175.2 L891.8 175.2 L892.0 175.1 L892.3 175.3 L892.5 175.2 L892.8 175.5 L893.0 175.3 L893.2 175.3 L893.5 175.4 L893.8 175.5 L894.0 175.4 L894.3 175.5 L894.5 175.3 L894.8 175.6 L895.0 175.4 L895.3 175.6 L895.5 175.5 L895.8 175.6 L896.0 175.5 L896.3 175.3 L896.5 175.4 L896.8 175.5 L897.0 175.7 L897.2 175.5 L897.5 175.6 L897.8 175.7 L898.0 175.5 L898.3 175.6 L898.5 175.6 L898.8 175.5 L899.0 175.6 L899.3 175.7 L899.5 175.8 L899.8 175.6 L900.0 176.0 L900.3 175.7 L900.5 175.6 L900.8 175.6 L901.0 175.5 L901.2 175.8 L901.5 175.3 L901.8 175.7 L902.0 175.5 L902.3 175.7 L902.5 175.7 L902.8 175.5 L903.0 175.6 L903.2 175.9 L903.5 175.6 L903.8 175.7 L904.0 175.7 L904.2 175.8 L904.5 175.9 L904.8 175.8 L905.0 175.8 L905.2 175.8 L905.5 175.6 L905.8 175.9 L906.0 175.7 L906.3 175.6 L906.5 175.7 L906.8 175.6 L907.0 175.8 L907.2 175.8 L907.5 175.9 L907.8 175.7 L908.0 175.7 L908.2 175.7 L908.5 175.6 L908.8 175.7 L909.0 176.0 L909.2 175.7 L909.5 175.7 L909.8 175.8 L910.0 175.8 L910.3 175.9 L910.5 175.7 L910.8 175.6 L911.0 175.9 L911.2 175.7 L911.5 175.8 L911.8 175.8 L912.0 175.6 L912.2 175.8 L912.5 175.7 L912.8 175.8 L913.0 175.7 L913.2 175.5 L913.5 175.9 L913.8 175.5 L914.0 175.7 L914.3 175.7 L914.5 175.7 L914.8 175.8 L915.0 175.9 L915.2 175.7 L915.5 175.7 L915.8 175.9 L916.0 175.9 L916.2 175.9 L916.5 175.8 L916.8 175.8 L917.0 175.7 L917.2 175.7 L917.5 175.9 L917.8 176.0 L918.0 176.0 L918.3 175.7 L918.5 175.8 L918.8 175.8 L919.0 175.8 L919.3 175.7 L919.5 176.1 L919.8 176.0 L920.0 175.8 L920.2 175.8 L920.5 175.8 L920.8 175.7 L921.0 175.8 L921.3 175.9 L921.5 176.0 L921.8 175.9 L922.0 176.0 L922.3 175.7 L922.5 175.4 L922.8 176.0 L923.0 175.8 L923.3 175.8 L923.5 176.0 L923.7 175.7 L924.0 175.7 L924.2 175.7 L924.5 176.0 L924.8 175.9 L925.0 175.6 L925.3 176.0 L925.5 175.8 L925.8 175.9 L926.0 175.7 L926.3 176.1 L926.5 175.9 L926.8 176.0 L927.0 175.7 L927.3 175.9 L927.5 175.8 L927.7 175.8 L928.0 175.7 L928.2 175.8 L928.5 175.7 L928.8 175.8 L929.0 175.8 L929.3 175.9 L929.5 175.6 L929.8 175.7 L930.0 175.8 L930.3 175.6 L930.5 175.8 L930.8 175.8 L931.0 175.8 L931.3 175.9 L931.5 176.0 L931.7 175.9 L932.0 175.9 L932.2 175.9 L932.5 175.7 L932.8 175.7 L933.0 175.9 L933.3 175.9 L933.5 176.1 L933.8 175.8 L934.0 175.7 L934.3 175.9 L934.5 175.8 L934.8 175.7 L935.0 176.0 L935.3 176.1 L935.5 175.9 L935.8 175.8 L936.0 175.9 L936.2 175.8 L936.5 175.7 L936.8 176.0 L937.0 175.9 L937.3 176.0 L937.5 175.8 L937.8 175.9 L938.0 175.8 L938.3 175.6 L938.5 176.2 L938.8 175.6 L939.0 175.7 L939.3 175.8 L939.5 175.7 L939.8 175.9 L940.0 175.8 L940.2 175.9 L940.5 175.9 L940.8 175.9 L941.0 175.9 L941.3 175.8 L941.5 175.9 L941.8 176.0 L942.0 175.8 L942.3 175.8 L942.5 175.8 L942.8 175.9 L943.0 175.8 L943.2 175.8 L943.5 175.7 L943.8 176.1 L944.0 175.7 L944.2 176.1 L944.5 176.0 L944.8 176.0 L945.0 175.9 L945.3 175.9 L945.5 175.9 L945.8 175.9 L946.0 176.0" fill="none" stroke="#ad80d8" stroke-width="2.4" stroke-linejoin="round"/>
<line x1="79.00" y1="638.70" x2="79.00" y2="650.7" stroke="#000" stroke-width="2.2"/><line x1="151.25" y1="644.70" x2="151.25" y2="650.7" stroke="#000" stroke-width="2.2"/><line x1="223.50" y1="638.70" x2="223.50" y2="650.7" stroke="#000" stroke-width="2.2"/><line x1="295.75" y1="644.70" x2="295.75" y2="650.7" stroke="#000" stroke-width="2.2"/><line x1="368.00" y1="638.70" x2="368.00" y2="650.7" stroke="#000" stroke-width="2.2"/><line x1="440.25" y1="644.70" x2="440.25" y2="650.7" stroke="#000" stroke-width="2.2"/><line x1="512.50" y1="638.70" x2="512.50" y2="650.7" stroke="#000" stroke-width="2.2"/><line x1="584.75" y1="644.70" x2="584.75" y2="650.7" stroke="#000" stroke-width="2.2"/><line x1="657.00" y1="638.70" x2="657.00" y2="650.7" stroke="#000" stroke-width="2.2"/><line x1="729.25" y1="644.70" x2="729.25" y2="650.7" stroke="#000" stroke-width="2.2"/><line x1="801.50" y1="638.70" x2="801.50" y2="650.7" stroke="#000" stroke-width="2.2"/><line x1="873.75" y1="644.70" x2="873.75" y2="650.7" stroke="#000" stroke-width="2.2"/><line x1="946.00" y1="638.70" x2="946.00" y2="650.7" stroke="#000" stroke-width="2.2"/>
<rect x="79" y="12.2" width="867" height="638.5" fill="none" stroke="#000" stroke-width="2.2"/>
<rect x="237.2" y="244.8" width="17.6" height="17.6" fill="#000"/><rect x="297.1" y="218.2" width="17.6" height="17.6" fill="#000"/><rect x="480.2" y="227.5" width="17.6" height="17.6" fill="#000"/><rect x="706.9" y="255.9" width="17.6" height="17.6" fill="#000"/><rect x="732.4" y="263.3" width="17.6" height="17.6" fill="#000"/><rect x="838.7" y="255.1" width="17.6" height="17.6" fill="#000"/><rect x="871.0" y="256.4" width="17.6" height="17.6" fill="#000"/><rect x="895.9" y="258.5" width="17.6" height="17.6" fill="#000"/><circle cx="286.0" cy="144.6" r="8.2" fill="#000"/><circle cx="337.4" cy="136.7" r="8.2" fill="#000"/><circle cx="359.7" cy="64.1" r="8.2" fill="#000"/><circle cx="544.7" cy="149.8" r="8.2" fill="#000"/><circle cx="679.4" cy="154.0" r="8.2" fill="#000"/><circle cx="795.1" cy="153.2" r="8.2" fill="#000"/><circle cx="837.8" cy="163.5" r="8.2" fill="#000"/><circle cx="867.0" cy="155.1" r="8.2" fill="#000"/><circle cx="883.4" cy="158.4" r="8.2" fill="#000"/><path d="M427.1 132.1 L437.1 151.1 L417.1 151.1 Z" fill="none" stroke="#000" stroke-width="1.8"/><path d="M442.2 145.5 L454.2 169.5 L430.2 169.5 Z" fill="#000"/><path d="M476.4 143.0 L488.4 167.0 L464.4 167.0 Z" fill="#000"/>
<text transform="matrix(0.9941 0 0 1.0174 59.31 690.20)" font-family="Liberation Sans, sans-serif" font-size="33.5" fill="#000">20</text><text transform="matrix(0.9971 0 0 1.0261 204.40 690.80)" font-family="Liberation Sans, sans-serif" font-size="33.5" fill="#000">30</text><text transform="matrix(1.0143 0 0 1.0174 348.29 690.20)" font-family="Liberation Sans, sans-serif" font-size="33.5" fill="#000">40</text><text transform="matrix(0.9765 0 0 1.0174 493.25 690.20)" font-family="Liberation Sans, sans-serif" font-size="33.5" fill="#000">50</text><text transform="matrix(1.0118 0 0 1.0174 636.98 690.20)" font-family="Liberation Sans, sans-serif" font-size="33.5" fill="#000">60</text><text transform="matrix(1.0206 0 0 1.0174 781.66 690.20)" font-family="Liberation Sans, sans-serif" font-size="33.5" fill="#000">70</text><text transform="matrix(0.9886 0 0 1.0043 927.41 689.90)" font-family="Liberation Sans, sans-serif" font-size="33.5" fill="#000">80</text><text transform="matrix(1.0302 0 0 1.0056 420.04 740.86)" font-family="Liberation Sans, sans-serif" font-size="38" fill="#000">2 Theta (</text><text transform="matrix(1.0000 0 0 1.0056 591.60 740.86)" font-family="Liberation Sans, sans-serif" font-size="38" fill="#000">)</text><circle cx="583.95" cy="715.55" r="3.0" fill="none" stroke="#000" stroke-width="1.3"/><text transform="matrix(0 -1.0326 0.9972 0 59.07 454.60)" font-family="Liberation Sans, sans-serif" font-size="38" fill="#000">Intensity (a.u.)</text><text transform="matrix(0.9587 0 0 1.0067 828.64 140.55)" font-family="Liberation Sans, sans-serif" font-size="31" fill="#000">90Mo<tspan font-size="20.5" dy="7.5">2</tspan><tspan dy="-7.5">C</tspan></text><text transform="matrix(0.9676 0 0 1.0167 826.16 244.27)" font-family="Liberation Sans, sans-serif" font-size="31" fill="#000">63Mo<tspan font-size="20.5" dy="7.5">2</tspan><tspan dy="-7.5">C</tspan></text><text transform="matrix(0.9725 0 0 1.0067 827.13 354.65)" font-family="Liberation Sans, sans-serif" font-size="31" fill="#000">45Mo<tspan font-size="20.5" dy="7.5">2</tspan><tspan dy="-7.5">C</tspan></text><text transform="matrix(0.9731 0 0 1.0167 825.55 465.47)" font-family="Liberation Sans, sans-serif" font-size="31" fill="#000">27Mo<tspan font-size="20.5" dy="7.5">2</tspan><tspan dy="-7.5">C</tspan></text><text transform="matrix(0.9620 0 0 1.0067 839.84 577.95)" font-family="Liberation Sans, sans-serif" font-size="31" fill="#000">0Mo<tspan font-size="20.5" dy="7.5">2</tspan><tspan dy="-7.5">C</tspan></text>
<rect x="615.1" y="26.7" width="16.9" height="16" fill="#000"/><text transform="matrix(1.0000 0 0 1.0111 642.00 42.70)" font-family="Liberation Sans, sans-serif" font-size="25.6" fill="#000">HCP-WC</text><circle cx="779.6" cy="32.9" r="7.8" fill="#000"/><text transform="matrix(1.0065 0 0 1.0280 799.99 42.70)" font-family="Liberation Sans, sans-serif" font-size="25.6" fill="#000">HCP-Mo<tspan font-size="17.2" dy="6.8">2</tspan><tspan dy="-6.8">C</tspan></text><path d="M626.4 70.1 L636.3 90.4 L616.2 90.4 Z" fill="#000"/><text transform="matrix(1.0098 0 0 1.0278 648.18 90.70)" font-family="Liberation Sans, sans-serif" font-size="25.6" fill="#000">HCP-Co</text><path d="M787.6 70.0 L798.5 88.8 L777.1 88.8 Z" fill="none" stroke="#000" stroke-width="1.6" stroke-linejoin="miter"/><text transform="matrix(0.9951 0 0 1.0278 808.21 90.70)" font-family="Liberation Sans, sans-serif" font-size="25.6" fill="#000">FCC-Co</text>
</svg></body></html>
